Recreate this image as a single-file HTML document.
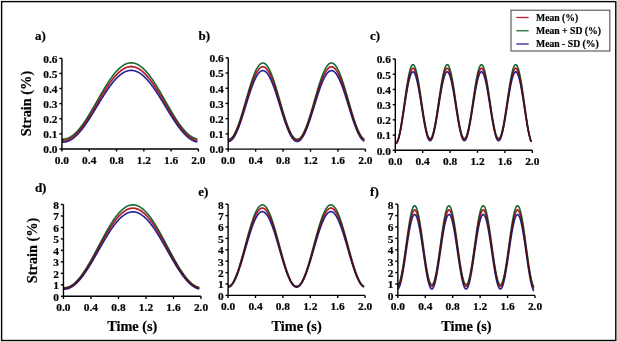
<!DOCTYPE html>
<html><head><meta charset="utf-8"><style>
html,body{margin:0;padding:0;background:#fff;}
body{width:617px;height:342px;overflow:hidden;}
svg{display:block;}
text{font-family:"Liberation Serif",serif;font-weight:bold;fill:#000;stroke:#000;stroke-width:0.2px;}
.tk{font-size:11.4px;}
.lb{font-size:13px;}
.ax{font-size:14.3px;}
.lg{font-size:9.7px;}
</style></head><body>
<svg width="617" height="342" viewBox="0 0 617 342">
<rect x="0" y="0" width="617" height="342" fill="#fff"/>
<polyline points="61.95,139.09 62.29,139.11 62.63,139.12 62.97,139.13 63.30,139.13 63.64,139.11 63.98,139.09 64.32,139.06 64.66,139.01 65.00,138.96 65.34,138.90 65.67,138.83 66.01,138.76 66.35,138.67 66.69,138.57 67.03,138.47 67.37,138.35 67.71,138.23 68.05,138.09 68.38,137.95 68.72,137.80 69.06,137.64 69.40,137.47 69.74,137.29 70.08,137.11 70.42,136.91 70.75,136.71 71.09,136.49 71.43,136.27 71.77,136.04 72.11,135.80 72.45,135.56 72.79,135.30 73.12,135.04 73.46,134.77 73.80,134.48 74.14,134.20 74.48,133.90 74.82,133.59 75.16,133.28 75.50,132.96 75.83,132.63 76.17,132.30 76.51,131.95 76.85,131.60 77.19,131.25 77.53,130.88 77.87,130.51 78.20,130.13 78.54,129.74 78.88,129.34 79.22,128.94 79.56,128.53 79.90,128.12 80.24,127.70 80.57,127.27 80.91,126.84 81.25,126.40 81.59,125.95 81.93,125.50 82.27,125.04 82.61,124.57 82.94,124.10 83.28,123.63 83.62,123.15 83.96,122.66 84.30,122.17 84.64,121.67 84.98,121.17 85.32,120.66 85.65,120.15 85.99,119.63 86.33,119.11 86.67,118.59 87.01,118.06 87.35,117.52 87.69,116.98 88.02,116.44 88.36,115.90 88.70,115.35 89.04,114.79 89.38,114.24 89.72,113.68 90.06,113.12 90.39,112.55 90.73,111.98 91.07,111.41 91.41,110.84 91.75,110.26 92.09,109.68 92.43,109.10 92.76,108.52 93.10,107.94 93.44,107.35 93.78,106.76 94.12,106.18 94.46,105.59 94.80,105.00 95.14,104.40 95.47,103.81 95.81,103.22 96.15,102.62 96.49,102.03 96.83,101.43 97.17,100.84 97.51,100.24 97.84,99.65 98.18,99.05 98.52,98.46 98.86,97.87 99.20,97.28 99.54,96.68 99.88,96.09 100.21,95.50 100.55,94.92 100.89,94.33 101.23,93.74 101.57,93.16 101.91,92.58 102.25,92.00 102.59,91.42 102.92,90.85 103.26,90.28 103.60,89.71 103.94,89.14 104.28,88.58 104.62,88.02 104.96,87.46 105.29,86.90 105.63,86.35 105.97,85.80 106.31,85.26 106.65,84.72 106.99,84.18 107.33,83.65 107.66,83.12 108.00,82.60 108.34,82.08 108.68,81.57 109.02,81.06 109.36,80.55 109.70,80.05 110.03,79.56 110.37,79.07 110.71,78.58 111.05,78.11 111.39,77.63 111.73,77.17 112.07,76.70 112.41,76.25 112.74,75.80 113.08,75.35 113.42,74.92 113.76,74.49 114.10,74.06 114.44,73.64 114.78,73.23 115.11,72.83 115.45,72.43 115.79,72.04 116.13,71.65 116.47,71.28 116.81,70.91 117.15,70.54 117.48,70.19 117.82,69.84 118.16,69.50 118.50,69.17 118.84,68.85 119.18,68.53 119.52,68.22 119.85,67.92 120.19,67.63 120.53,67.34 120.87,67.07 121.21,66.80 121.55,66.54 121.89,66.29 122.23,66.04 122.56,65.81 122.90,65.58 123.24,65.36 123.58,65.16 123.92,64.96 124.26,64.76 124.60,64.58 124.93,64.41 125.27,64.24 125.61,64.09 125.95,63.94 126.29,63.80 126.63,63.67 126.97,63.55 127.30,63.44 127.64,63.34 127.98,63.25 128.32,63.17 128.66,63.09 129.00,63.03 129.34,62.97 129.68,62.93 130.01,62.89 130.35,62.86 130.69,62.84 131.03,62.83 131.37,62.83 131.71,62.84 132.05,62.86 132.38,62.89 132.72,62.93 133.06,62.97 133.40,63.03 133.74,63.09 134.08,63.17 134.42,63.25 134.75,63.34 135.09,63.44 135.43,63.55 135.77,63.67 136.11,63.80 136.45,63.94 136.79,64.09 137.12,64.24 137.46,64.41 137.80,64.58 138.14,64.77 138.48,64.96 138.82,65.16 139.16,65.37 139.50,65.58 139.83,65.81 140.17,66.04 140.51,66.29 140.85,66.54 141.19,66.80 141.53,67.07 141.87,67.34 142.20,67.63 142.54,67.92 142.88,68.22 143.22,68.53 143.56,68.85 143.90,69.17 144.24,69.50 144.57,69.84 144.91,70.19 145.25,70.55 145.59,70.91 145.93,71.28 146.27,71.65 146.61,72.04 146.94,72.43 147.28,72.83 147.62,73.23 147.96,73.64 148.30,74.06 148.64,74.49 148.98,74.92 149.32,75.36 149.65,75.80 149.99,76.25 150.33,76.70 150.67,77.17 151.01,77.63 151.35,78.11 151.69,78.59 152.02,79.07 152.36,79.56 152.70,80.05 153.04,80.55 153.38,81.06 153.72,81.57 154.06,82.08 154.39,82.60 154.73,83.13 155.07,83.65 155.41,84.19 155.75,84.72 156.09,85.26 156.43,85.81 156.76,86.35 157.10,86.90 157.44,87.46 157.78,88.02 158.12,88.58 158.46,89.14 158.80,89.71 159.14,90.28 159.47,90.85 159.81,91.43 160.15,92.00 160.49,92.58 160.83,93.16 161.17,93.75 161.51,94.33 161.84,94.92 162.18,95.51 162.52,96.09 162.86,96.69 163.20,97.28 163.54,97.87 163.88,98.46 164.21,99.06 164.55,99.65 164.89,100.25 165.23,100.84 165.57,101.43 165.91,102.03 166.25,102.62 166.59,103.22 166.92,103.81 167.26,104.40 167.60,105.00 167.94,105.59 168.28,106.18 168.62,106.77 168.96,107.35 169.29,107.94 169.63,108.52 169.97,109.11 170.31,109.69 170.65,110.26 170.99,110.84 171.33,111.41 171.66,111.98 172.00,112.55 172.34,113.12 172.68,113.68 173.02,114.24 173.36,114.80 173.70,115.35 174.03,115.90 174.37,116.44 174.71,116.98 175.05,117.52 175.39,118.06 175.73,118.59 176.07,119.11 176.41,119.63 176.74,120.15 177.08,120.66 177.42,121.17 177.76,121.67 178.10,122.17 178.44,122.66 178.78,123.15 179.11,123.63 179.45,124.10 179.79,124.57 180.13,125.04 180.47,125.50 180.81,125.95 181.15,126.40 181.48,126.84 181.82,127.27 182.16,127.70 182.50,128.12 182.84,128.54 183.18,128.94 183.52,129.35 183.86,129.74 184.19,130.13 184.53,130.51 184.87,130.88 185.21,131.25 185.55,131.60 185.89,131.96 186.23,132.30 186.56,132.63 186.90,132.96 187.24,133.28 187.58,133.60 187.92,133.90 188.26,134.20 188.60,134.49 188.93,134.77 189.27,135.04 189.61,135.30 189.95,135.56 190.29,135.80 190.63,136.04 190.97,136.27 191.30,136.49 191.64,136.71 191.98,136.91 192.32,137.11 192.66,137.29 193.00,137.47 193.34,137.64 193.68,137.80 194.01,137.95 194.35,138.09 194.69,138.23 195.03,138.35 195.37,138.47 195.71,138.57 196.05,138.67 196.38,138.76 196.72,138.83 197.06,138.90 197.40,138.96" fill="none" stroke="#1a6a30" stroke-width="1.6" stroke-linejoin="round" style="mix-blend-mode:multiply"/>
<polyline points="61.95,140.60 62.29,140.62 62.63,140.64 62.97,140.64 63.30,140.64 63.64,140.62 63.98,140.60 64.32,140.57 64.66,140.53 65.00,140.48 65.34,140.42 65.67,140.35 66.01,140.28 66.35,140.19 66.69,140.10 67.03,140.00 67.37,139.89 67.71,139.76 68.05,139.64 68.38,139.50 68.72,139.35 69.06,139.20 69.40,139.03 69.74,138.86 70.08,138.68 70.42,138.49 70.75,138.29 71.09,138.08 71.43,137.87 71.77,137.64 72.11,137.41 72.45,137.17 72.79,136.93 73.12,136.67 73.46,136.41 73.80,136.13 74.14,135.85 74.48,135.57 74.82,135.27 75.16,134.97 75.50,134.66 75.83,134.34 76.17,134.01 76.51,133.68 76.85,133.34 77.19,132.99 77.53,132.64 77.87,132.27 78.20,131.90 78.54,131.53 78.88,131.15 79.22,130.76 79.56,130.36 79.90,129.96 80.24,129.55 80.57,129.13 80.91,128.71 81.25,128.29 81.59,127.85 81.93,127.41 82.27,126.97 82.61,126.52 82.94,126.06 83.28,125.60 83.62,125.13 83.96,124.66 84.30,124.18 84.64,123.70 84.98,123.21 85.32,122.72 85.65,122.22 85.99,121.72 86.33,121.22 86.67,120.71 87.01,120.19 87.35,119.67 87.69,119.15 88.02,118.63 88.36,118.10 88.70,117.56 89.04,117.03 89.38,116.49 89.72,115.94 90.06,115.40 90.39,114.85 90.73,114.30 91.07,113.75 91.41,113.19 91.75,112.63 92.09,112.07 92.43,111.51 92.76,110.94 93.10,110.37 93.44,109.81 93.78,109.24 94.12,108.67 94.46,108.09 94.80,107.52 95.14,106.95 95.47,106.37 95.81,105.79 96.15,105.22 96.49,104.64 96.83,104.06 97.17,103.49 97.51,102.91 97.84,102.33 98.18,101.76 98.52,101.18 98.86,100.60 99.20,100.03 99.54,99.46 99.88,98.88 100.21,98.31 100.55,97.74 100.89,97.17 101.23,96.60 101.57,96.04 101.91,95.47 102.25,94.91 102.59,94.35 102.92,93.79 103.26,93.24 103.60,92.69 103.94,92.14 104.28,91.59 104.62,91.04 104.96,90.50 105.29,89.97 105.63,89.43 105.97,88.90 106.31,88.37 106.65,87.85 106.99,87.33 107.33,86.81 107.66,86.30 108.00,85.79 108.34,85.29 108.68,84.79 109.02,84.29 109.36,83.80 109.70,83.32 110.03,82.84 110.37,82.36 110.71,81.89 111.05,81.43 111.39,80.97 111.73,80.52 112.07,80.07 112.41,79.63 112.74,79.19 113.08,78.76 113.42,78.33 113.76,77.92 114.10,77.50 114.44,77.10 114.78,76.70 115.11,76.31 115.45,75.92 115.79,75.54 116.13,75.17 116.47,74.80 116.81,74.44 117.15,74.09 117.48,73.75 117.82,73.41 118.16,73.08 118.50,72.76 118.84,72.44 119.18,72.14 119.52,71.84 119.85,71.55 120.19,71.26 120.53,70.99 120.87,70.72 121.21,70.46 121.55,70.20 121.89,69.96 122.23,69.72 122.56,69.50 122.90,69.28 123.24,69.07 123.58,68.86 123.92,68.67 124.26,68.48 124.60,68.31 124.93,68.14 125.27,67.98 125.61,67.83 125.95,67.69 126.29,67.55 126.63,67.43 126.97,67.31 127.30,67.20 127.64,67.10 127.98,67.01 128.32,66.93 128.66,66.86 129.00,66.80 129.34,66.75 129.68,66.70 130.01,66.66 130.35,66.64 130.69,66.62 131.03,66.61 131.37,66.61 131.71,66.62 132.05,66.64 132.38,66.66 132.72,66.70 133.06,66.75 133.40,66.80 133.74,66.86 134.08,66.93 134.42,67.02 134.75,67.10 135.09,67.20 135.43,67.31 135.77,67.43 136.11,67.55 136.45,67.69 136.79,67.83 137.12,67.98 137.46,68.14 137.80,68.31 138.14,68.48 138.48,68.67 138.82,68.86 139.16,69.07 139.50,69.28 139.83,69.50 140.17,69.73 140.51,69.96 140.85,70.21 141.19,70.46 141.53,70.72 141.87,70.99 142.20,71.26 142.54,71.55 142.88,71.84 143.22,72.14 143.56,72.44 143.90,72.76 144.24,73.08 144.57,73.41 144.91,73.75 145.25,74.09 145.59,74.44 145.93,74.80 146.27,75.17 146.61,75.54 146.94,75.92 147.28,76.31 147.62,76.70 147.96,77.10 148.30,77.51 148.64,77.92 148.98,78.34 149.32,78.76 149.65,79.19 149.99,79.63 150.33,80.07 150.67,80.52 151.01,80.97 151.35,81.43 151.69,81.90 152.02,82.37 152.36,82.84 152.70,83.32 153.04,83.81 153.38,84.30 153.72,84.79 154.06,85.29 154.39,85.79 154.73,86.30 155.07,86.81 155.41,87.33 155.75,87.85 156.09,88.37 156.43,88.90 156.76,89.43 157.10,89.97 157.44,90.50 157.78,91.05 158.12,91.59 158.46,92.14 158.80,92.69 159.14,93.24 159.47,93.80 159.81,94.35 160.15,94.91 160.49,95.48 160.83,96.04 161.17,96.60 161.51,97.17 161.84,97.74 162.18,98.31 162.52,98.88 162.86,99.46 163.20,100.03 163.54,100.61 163.88,101.18 164.21,101.76 164.55,102.33 164.89,102.91 165.23,103.49 165.57,104.07 165.91,104.64 166.25,105.22 166.59,105.80 166.92,106.37 167.26,106.95 167.60,107.52 167.94,108.09 168.28,108.67 168.62,109.24 168.96,109.81 169.29,110.38 169.63,110.94 169.97,111.51 170.31,112.07 170.65,112.63 170.99,113.19 171.33,113.75 171.66,114.30 172.00,114.85 172.34,115.40 172.68,115.95 173.02,116.49 173.36,117.03 173.70,117.57 174.03,118.10 174.37,118.63 174.71,119.15 175.05,119.68 175.39,120.19 175.73,120.71 176.07,121.22 176.41,121.72 176.74,122.22 177.08,122.72 177.42,123.21 177.76,123.70 178.10,124.18 178.44,124.66 178.78,125.13 179.11,125.60 179.45,126.06 179.79,126.52 180.13,126.97 180.47,127.41 180.81,127.85 181.15,128.29 181.48,128.71 181.82,129.14 182.16,129.55 182.50,129.96 182.84,130.36 183.18,130.76 183.52,131.15 183.86,131.53 184.19,131.91 184.53,132.27 184.87,132.64 185.21,132.99 185.55,133.34 185.89,133.68 186.23,134.01 186.56,134.34 186.90,134.66 187.24,134.97 187.58,135.27 187.92,135.57 188.26,135.85 188.60,136.13 188.93,136.41 189.27,136.67 189.61,136.93 189.95,137.17 190.29,137.41 190.63,137.65 190.97,137.87 191.30,138.08 191.64,138.29 191.98,138.49 192.32,138.68 192.66,138.86 193.00,139.03 193.34,139.20 193.68,139.35 194.01,139.50 194.35,139.64 194.69,139.77 195.03,139.89 195.37,140.00 195.71,140.10 196.05,140.19 196.38,140.28 196.72,140.35 197.06,140.42 197.40,140.48" fill="none" stroke="#b81e2a" stroke-width="1.6" stroke-linejoin="round" style="mix-blend-mode:multiply"/>
<polyline points="61.95,142.11 62.29,142.13 62.63,142.15 62.97,142.15 63.30,142.15 63.64,142.13 63.98,142.11 64.32,142.08 64.66,142.04 65.00,142.00 65.34,141.94 65.67,141.87 66.01,141.80 66.35,141.72 66.69,141.63 67.03,141.53 67.37,141.42 67.71,141.30 68.05,141.18 68.38,141.04 68.72,140.90 69.06,140.75 69.40,140.59 69.74,140.42 70.08,140.25 70.42,140.06 70.75,139.87 71.09,139.67 71.43,139.46 71.77,139.25 72.11,139.02 72.45,138.79 72.79,138.55 73.12,138.30 73.46,138.05 73.80,137.78 74.14,137.51 74.48,137.23 74.82,136.95 75.16,136.65 75.50,136.35 75.83,136.04 76.17,135.73 76.51,135.40 76.85,135.07 77.19,134.74 77.53,134.39 77.87,134.04 78.20,133.68 78.54,133.32 78.88,132.95 79.22,132.57 79.56,132.19 79.90,131.80 80.24,131.40 80.57,131.00 80.91,130.59 81.25,130.17 81.59,129.75 81.93,129.33 82.27,128.90 82.61,128.46 82.94,128.02 83.28,127.57 83.62,127.12 83.96,126.66 84.30,126.20 84.64,125.73 84.98,125.26 85.32,124.78 85.65,124.30 85.99,123.81 86.33,123.32 86.67,122.83 87.01,122.33 87.35,121.83 87.69,121.32 88.02,120.81 88.36,120.30 88.70,119.78 89.04,119.26 89.38,118.74 89.72,118.21 90.06,117.68 90.39,117.15 90.73,116.62 91.07,116.08 91.41,115.54 91.75,115.00 92.09,114.45 92.43,113.91 92.76,113.36 93.10,112.81 93.44,112.26 93.78,111.71 94.12,111.16 94.46,110.60 94.80,110.04 95.14,109.49 95.47,108.93 95.81,108.37 96.15,107.81 96.49,107.25 96.83,106.69 97.17,106.13 97.51,105.58 97.84,105.02 98.18,104.46 98.52,103.90 98.86,103.34 99.20,102.78 99.54,102.23 99.88,101.67 100.21,101.12 100.55,100.56 100.89,100.01 101.23,99.46 101.57,98.91 101.91,98.37 102.25,97.82 102.59,97.28 102.92,96.74 103.26,96.20 103.60,95.67 103.94,95.13 104.28,94.60 104.62,94.07 104.96,93.55 105.29,93.03 105.63,92.51 105.97,91.99 106.31,91.48 106.65,90.97 106.99,90.47 107.33,89.97 107.66,89.47 108.00,88.98 108.34,88.49 108.68,88.01 109.02,87.53 109.36,87.05 109.70,86.58 110.03,86.12 110.37,85.66 110.71,85.20 111.05,84.75 111.39,84.31 111.73,83.87 112.07,83.43 112.41,83.00 112.74,82.58 113.08,82.16 113.42,81.75 113.76,81.35 114.10,80.95 114.44,80.55 114.78,80.17 115.11,79.79 115.45,79.41 115.79,79.04 116.13,78.68 116.47,78.33 116.81,77.98 117.15,77.64 117.48,77.31 117.82,76.98 118.16,76.66 118.50,76.35 118.84,76.04 119.18,75.74 119.52,75.45 119.85,75.17 120.19,74.90 120.53,74.63 120.87,74.37 121.21,74.12 121.55,73.87 121.89,73.64 122.23,73.41 122.56,73.19 122.90,72.97 123.24,72.77 123.58,72.57 123.92,72.38 124.26,72.20 124.60,72.03 124.93,71.87 125.27,71.71 125.61,71.57 125.95,71.43 126.29,71.30 126.63,71.18 126.97,71.07 127.30,70.96 127.64,70.87 127.98,70.78 128.32,70.70 128.66,70.63 129.00,70.57 129.34,70.52 129.68,70.47 130.01,70.44 130.35,70.41 130.69,70.40 131.03,70.39 131.37,70.39 131.71,70.40 132.05,70.41 132.38,70.44 132.72,70.48 133.06,70.52 133.40,70.57 133.74,70.63 134.08,70.70 134.42,70.78 134.75,70.87 135.09,70.96 135.43,71.07 135.77,71.18 136.11,71.30 136.45,71.43 136.79,71.57 137.12,71.71 137.46,71.87 137.80,72.03 138.14,72.20 138.48,72.38 138.82,72.57 139.16,72.77 139.50,72.97 139.83,73.19 140.17,73.41 140.51,73.64 140.85,73.87 141.19,74.12 141.53,74.37 141.87,74.63 142.20,74.90 142.54,75.17 142.88,75.46 143.22,75.75 143.56,76.04 143.90,76.35 144.24,76.66 144.57,76.98 144.91,77.31 145.25,77.64 145.59,77.98 145.93,78.33 146.27,78.68 146.61,79.05 146.94,79.41 147.28,79.79 147.62,80.17 147.96,80.56 148.30,80.95 148.64,81.35 148.98,81.75 149.32,82.17 149.65,82.58 149.99,83.01 150.33,83.43 150.67,83.87 151.01,84.31 151.35,84.75 151.69,85.20 152.02,85.66 152.36,86.12 152.70,86.59 153.04,87.06 153.38,87.53 153.72,88.01 154.06,88.49 154.39,88.98 154.73,89.47 155.07,89.97 155.41,90.47 155.75,90.98 156.09,91.48 156.43,92.00 156.76,92.51 157.10,93.03 157.44,93.55 157.78,94.08 158.12,94.60 158.46,95.13 158.80,95.67 159.14,96.20 159.47,96.74 159.81,97.28 160.15,97.82 160.49,98.37 160.83,98.92 161.17,99.46 161.51,100.01 161.84,100.57 162.18,101.12 162.52,101.67 162.86,102.23 163.20,102.78 163.54,103.34 163.88,103.90 164.21,104.46 164.55,105.02 164.89,105.58 165.23,106.14 165.57,106.70 165.91,107.26 166.25,107.81 166.59,108.37 166.92,108.93 167.26,109.49 167.60,110.05 167.94,110.60 168.28,111.16 168.62,111.71 168.96,112.26 169.29,112.81 169.63,113.36 169.97,113.91 170.31,114.46 170.65,115.00 170.99,115.54 171.33,116.08 171.66,116.62 172.00,117.15 172.34,117.68 172.68,118.21 173.02,118.74 173.36,119.26 173.70,119.78 174.03,120.30 174.37,120.81 174.71,121.32 175.05,121.83 175.39,122.33 175.73,122.83 176.07,123.32 176.41,123.81 176.74,124.30 177.08,124.78 177.42,125.26 177.76,125.73 178.10,126.20 178.44,126.66 178.78,127.12 179.11,127.57 179.45,128.02 179.79,128.46 180.13,128.90 180.47,129.33 180.81,129.76 181.15,130.18 181.48,130.59 181.82,131.00 182.16,131.40 182.50,131.80 182.84,132.19 183.18,132.57 183.52,132.95 183.86,133.32 184.19,133.68 184.53,134.04 184.87,134.39 185.21,134.74 185.55,135.07 185.89,135.40 186.23,135.73 186.56,136.04 186.90,136.35 187.24,136.65 187.58,136.95 187.92,137.23 188.26,137.51 188.60,137.78 188.93,138.05 189.27,138.30 189.61,138.55 189.95,138.79 190.29,139.02 190.63,139.25 190.97,139.46 191.30,139.67 191.64,139.87 191.98,140.07 192.32,140.25 192.66,140.42 193.00,140.59 193.34,140.75 193.68,140.90 194.01,141.04 194.35,141.18 194.69,141.30 195.03,141.42 195.37,141.53 195.71,141.63 196.05,141.72 196.38,141.80 196.72,141.87 197.06,141.94 197.40,142.00" fill="none" stroke="#22229a" stroke-width="1.6" stroke-linejoin="round" style="mix-blend-mode:multiply"/>
<polyline points="61.95,140.60 62.29,140.62 62.63,140.64 62.97,140.64 63.30,140.64 63.64,140.62 63.98,140.60 64.32,140.57 64.66,140.53 65.00,140.48 65.34,140.42 65.67,140.35 66.01,140.28 66.35,140.19 66.69,140.10 67.03,140.00 67.37,139.89 67.71,139.76 68.05,139.64 68.38,139.50 68.72,139.35 69.06,139.20 69.40,139.03 69.74,138.86 70.08,138.68 70.42,138.49 70.75,138.29 71.09,138.08 71.43,137.87 71.77,137.64 72.11,137.41 72.45,137.17 72.79,136.93 73.12,136.67 73.46,136.41 73.80,136.13 74.14,135.85 74.48,135.57 74.82,135.27 75.16,134.97 75.50,134.66 75.83,134.34 76.17,134.01 76.51,133.68 76.85,133.34 77.19,132.99 77.53,132.64 77.87,132.27 78.20,131.90 78.54,131.53 78.88,131.15 79.22,130.76 79.56,130.36 79.90,129.96 80.24,129.55 80.57,129.13 80.91,128.71 81.25,128.29 81.59,127.85 81.93,127.41 82.27,126.97 82.61,126.52 82.94,126.06 83.28,125.60 83.62,125.13 83.96,124.66 84.30,124.18 84.64,123.70 84.98,123.21 85.32,122.72 85.65,122.22 85.99,121.72 86.33,121.22 86.67,120.71 87.01,120.19 87.35,119.67 87.69,119.15 88.02,118.63 88.36,118.10 88.70,117.56 89.04,117.03 89.38,116.49 89.72,115.94 90.06,115.40 90.39,114.85 90.73,114.30 91.07,113.75 91.41,113.19 91.75,112.63 92.09,112.07 92.43,111.51 92.76,110.94 93.10,110.37 93.44,109.81 93.78,109.24 94.12,108.67 94.46,108.09 94.80,107.52 95.14,106.95 95.47,106.37 95.81,105.79 96.15,105.22 96.49,104.64 96.83,104.06 97.17,103.49 97.51,102.91 97.84,102.33 98.18,101.76 98.52,101.18 98.86,100.60 99.20,100.03 99.54,99.46 99.88,98.88 100.21,98.31 100.55,97.74 100.89,97.17 101.23,96.60 101.57,96.04 101.91,95.47 102.25,94.91 102.59,94.35 102.92,93.79 103.26,93.24 103.60,92.69 103.94,92.14 104.28,91.59 104.62,91.04 104.96,90.50 105.29,89.97 105.63,89.43 105.97,88.90 106.31,88.37 106.65,87.85 106.99,87.33 107.33,86.81 107.66,86.30 108.00,85.79 108.34,85.29 108.68,84.79 109.02,84.29 109.36,83.80 109.70,83.32 110.03,82.84 110.37,82.36 110.71,81.89 111.05,81.43 111.39,80.97 111.73,80.52 112.07,80.07 112.41,79.63 112.74,79.19 113.08,78.76 113.42,78.33 113.76,77.92 114.10,77.50 114.44,77.10 114.78,76.70 115.11,76.31 115.45,75.92 115.79,75.54 116.13,75.17 116.47,74.80 116.81,74.44 117.15,74.09 117.48,73.75 117.82,73.41 118.16,73.08 118.50,72.76 118.84,72.44 119.18,72.14 119.52,71.84 119.85,71.55 120.19,71.26 120.53,70.99 120.87,70.72 121.21,70.46 121.55,70.20 121.89,69.96 122.23,69.72 122.56,69.50 122.90,69.28 123.24,69.07 123.58,68.86 123.92,68.67 124.26,68.48 124.60,68.31 124.93,68.14 125.27,67.98 125.61,67.83 125.95,67.69 126.29,67.55 126.63,67.43 126.97,67.31 127.30,67.20 127.64,67.10 127.98,67.01 128.32,66.93 128.66,66.86 129.00,66.80 129.34,66.75 129.68,66.70 130.01,66.66 130.35,66.64 130.69,66.62 131.03,66.61 131.37,66.61 131.71,66.62 132.05,66.64 132.38,66.66 132.72,66.70 133.06,66.75 133.40,66.80 133.74,66.86 134.08,66.93 134.42,67.02 134.75,67.10 135.09,67.20 135.43,67.31 135.77,67.43 136.11,67.55 136.45,67.69 136.79,67.83 137.12,67.98 137.46,68.14 137.80,68.31 138.14,68.48 138.48,68.67 138.82,68.86 139.16,69.07 139.50,69.28 139.83,69.50 140.17,69.73 140.51,69.96 140.85,70.21 141.19,70.46 141.53,70.72 141.87,70.99 142.20,71.26 142.54,71.55 142.88,71.84 143.22,72.14 143.56,72.44 143.90,72.76 144.24,73.08 144.57,73.41 144.91,73.75 145.25,74.09 145.59,74.44 145.93,74.80 146.27,75.17 146.61,75.54 146.94,75.92 147.28,76.31 147.62,76.70 147.96,77.10 148.30,77.51 148.64,77.92 148.98,78.34 149.32,78.76 149.65,79.19 149.99,79.63 150.33,80.07 150.67,80.52 151.01,80.97 151.35,81.43 151.69,81.90 152.02,82.37 152.36,82.84 152.70,83.32 153.04,83.81 153.38,84.30 153.72,84.79 154.06,85.29 154.39,85.79 154.73,86.30 155.07,86.81 155.41,87.33 155.75,87.85 156.09,88.37 156.43,88.90 156.76,89.43 157.10,89.97 157.44,90.50 157.78,91.05 158.12,91.59 158.46,92.14 158.80,92.69 159.14,93.24 159.47,93.80 159.81,94.35 160.15,94.91 160.49,95.48 160.83,96.04 161.17,96.60 161.51,97.17 161.84,97.74 162.18,98.31 162.52,98.88 162.86,99.46 163.20,100.03 163.54,100.61 163.88,101.18 164.21,101.76 164.55,102.33 164.89,102.91 165.23,103.49 165.57,104.07 165.91,104.64 166.25,105.22 166.59,105.80 166.92,106.37 167.26,106.95 167.60,107.52 167.94,108.09 168.28,108.67 168.62,109.24 168.96,109.81 169.29,110.38 169.63,110.94 169.97,111.51 170.31,112.07 170.65,112.63 170.99,113.19 171.33,113.75 171.66,114.30 172.00,114.85 172.34,115.40 172.68,115.95 173.02,116.49 173.36,117.03 173.70,117.57 174.03,118.10 174.37,118.63 174.71,119.15 175.05,119.68 175.39,120.19 175.73,120.71 176.07,121.22 176.41,121.72 176.74,122.22 177.08,122.72 177.42,123.21 177.76,123.70 178.10,124.18 178.44,124.66 178.78,125.13 179.11,125.60 179.45,126.06 179.79,126.52 180.13,126.97 180.47,127.41 180.81,127.85 181.15,128.29 181.48,128.71 181.82,129.14 182.16,129.55 182.50,129.96 182.84,130.36 183.18,130.76 183.52,131.15 183.86,131.53 184.19,131.91 184.53,132.27 184.87,132.64 185.21,132.99 185.55,133.34 185.89,133.68 186.23,134.01 186.56,134.34 186.90,134.66 187.24,134.97 187.58,135.27 187.92,135.57 188.26,135.85 188.60,136.13 188.93,136.41 189.27,136.67 189.61,136.93 189.95,137.17 190.29,137.41 190.63,137.65 190.97,137.87 191.30,138.08 191.64,138.29 191.98,138.49 192.32,138.68 192.66,138.86 193.00,139.03 193.34,139.20 193.68,139.35 194.01,139.50 194.35,139.64 194.69,139.77 195.03,139.89 195.37,140.00 195.71,140.10 196.05,140.19 196.38,140.28 196.72,140.35 197.06,140.42 197.40,140.48" fill="none" stroke="#b81e2a" stroke-width="1.6" stroke-linejoin="round" opacity="0.4"/>
<path d="M61.95,58.30V148.95H198.40" fill="none" stroke="#000" stroke-width="1.4"/>
<path d="M59.35,148.95H61.95" stroke="#000" stroke-width="1.4"/>
<text x="57.55" y="153.25" class="tk" text-anchor="end">0.0</text>
<path d="M59.35,133.84H61.95" stroke="#000" stroke-width="1.4"/>
<text x="57.55" y="138.14" class="tk" text-anchor="end">0.1</text>
<path d="M59.35,118.73H61.95" stroke="#000" stroke-width="1.4"/>
<text x="57.55" y="123.03" class="tk" text-anchor="end">0.2</text>
<path d="M59.35,103.62H61.95" stroke="#000" stroke-width="1.4"/>
<text x="57.55" y="107.92" class="tk" text-anchor="end">0.3</text>
<path d="M59.35,88.52H61.95" stroke="#000" stroke-width="1.4"/>
<text x="57.55" y="92.82" class="tk" text-anchor="end">0.4</text>
<path d="M59.35,73.41H61.95" stroke="#000" stroke-width="1.4"/>
<text x="57.55" y="77.71" class="tk" text-anchor="end">0.5</text>
<path d="M59.35,58.30H61.95" stroke="#000" stroke-width="1.4"/>
<text x="57.55" y="62.60" class="tk" text-anchor="end">0.6</text>
<path d="M61.95,148.95V151.55" stroke="#000" stroke-width="1.4"/>
<text x="61.95" y="163.85" class="tk" text-anchor="middle">0.0</text>
<path d="M89.24,148.95V151.55" stroke="#000" stroke-width="1.4"/>
<text x="89.24" y="163.85" class="tk" text-anchor="middle">0.4</text>
<path d="M116.53,148.95V151.55" stroke="#000" stroke-width="1.4"/>
<text x="116.53" y="163.85" class="tk" text-anchor="middle">0.8</text>
<path d="M143.82,148.95V151.55" stroke="#000" stroke-width="1.4"/>
<text x="143.82" y="163.85" class="tk" text-anchor="middle">1.2</text>
<path d="M171.11,148.95V151.55" stroke="#000" stroke-width="1.4"/>
<text x="171.11" y="163.85" class="tk" text-anchor="middle">1.6</text>
<path d="M198.40,148.95V151.55" stroke="#000" stroke-width="1.4"/>
<text x="198.40" y="163.85" class="tk" text-anchor="middle">2.0</text>
<text x="34.90" y="40.20" class="lb">a)</text>
<text x="0" y="0" class="ax" text-anchor="middle" transform="translate(30.8,103.60) rotate(-90)">Strain (%)</text>
<polyline points="228.20,139.19 228.54,139.21 228.88,139.19 229.22,139.14 229.56,139.04 229.90,138.91 230.24,138.75 230.58,138.55 230.92,138.31 231.26,138.03 231.60,137.72 231.95,137.37 232.29,136.99 232.63,136.57 232.97,136.12 233.31,135.64 233.65,135.12 233.99,134.57 234.33,133.98 234.67,133.36 235.01,132.72 235.35,132.04 235.69,131.33 236.03,130.59 236.37,129.82 236.71,129.03 237.05,128.20 237.39,127.36 237.73,126.48 238.07,125.58 238.41,124.66 238.76,123.71 239.10,122.75 239.44,121.76 239.78,120.75 240.12,119.72 240.46,118.68 240.80,117.61 241.14,116.53 241.48,115.44 241.82,114.33 242.16,113.21 242.50,112.08 242.84,110.93 243.18,109.78 243.52,108.62 243.86,107.45 244.20,106.28 244.54,105.10 244.88,103.91 245.22,102.72 245.57,101.54 245.91,100.35 246.25,99.16 246.59,97.97 246.93,96.79 247.27,95.61 247.61,94.44 247.95,93.27 248.29,92.11 248.63,90.96 248.97,89.82 249.31,88.69 249.65,87.57 249.99,86.47 250.33,85.38 250.67,84.30 251.01,83.24 251.35,82.20 251.69,81.18 252.03,80.17 252.38,79.19 252.72,78.23 253.06,77.29 253.40,76.37 253.74,75.48 254.08,74.61 254.42,73.77 254.76,72.95 255.10,72.17 255.44,71.41 255.78,70.67 256.12,69.97 256.46,69.30 256.80,68.66 257.14,68.05 257.48,67.48 257.82,66.93 258.16,66.42 258.50,65.94 258.84,65.50 259.19,65.09 259.53,64.72 259.87,64.38 260.21,64.08 260.55,63.81 260.89,63.58 261.23,63.39 261.57,63.23 261.91,63.11 262.25,63.03 262.59,62.98 262.93,62.97 263.27,63.00 263.61,63.07 263.95,63.17 264.29,63.31 264.63,63.49 264.97,63.70 265.31,63.95 265.65,64.23 266.00,64.55 266.34,64.91 266.68,65.30 267.02,65.73 267.36,66.19 267.70,66.68 268.04,67.21 268.38,67.77 268.72,68.36 269.06,68.99 269.40,69.64 269.74,70.33 270.08,71.05 270.42,71.79 270.76,72.57 271.10,73.37 271.44,74.20 271.78,75.06 272.12,75.94 272.46,76.84 272.81,77.77 273.15,78.72 273.49,79.70 273.83,80.69 274.17,81.70 274.51,82.74 274.85,83.79 275.19,84.86 275.53,85.94 275.87,87.04 276.21,88.15 276.55,89.27 276.89,90.41 277.23,91.55 277.57,92.71 277.91,93.87 278.25,95.04 278.59,96.22 278.93,97.40 279.27,98.59 279.62,99.77 279.96,100.96 280.30,102.15 280.64,103.34 280.98,104.52 281.32,105.71 281.66,106.88 282.00,108.06 282.34,109.22 282.68,110.38 283.02,111.53 283.36,112.66 283.70,113.79 284.04,114.91 284.38,116.01 284.72,117.09 285.06,118.16 285.40,119.22 285.74,120.26 286.08,121.27 286.43,122.27 286.77,123.25 287.11,124.21 287.45,125.14 287.79,126.05 288.13,126.94 288.47,127.80 288.81,128.63 289.15,129.44 289.49,130.22 289.83,130.97 290.17,131.70 290.51,132.39 290.85,133.05 291.19,133.69 291.53,134.29 291.87,134.86 292.21,135.39 292.55,135.89 292.89,136.36 293.24,136.79 293.58,137.19 293.92,137.56 294.26,137.89 294.60,138.18 294.94,138.43 295.28,138.65 295.62,138.84 295.96,138.99 296.30,139.10 296.64,139.17 296.98,139.20 297.32,139.20 297.66,139.17 298.00,139.09 298.34,138.98 298.68,138.83 299.02,138.64 299.36,138.42 299.70,138.16 300.05,137.87 300.39,137.54 300.73,137.17 301.07,136.77 301.41,136.34 301.75,135.87 302.09,135.37 302.43,134.83 302.77,134.26 303.11,133.66 303.45,133.02 303.79,132.36 304.13,131.66 304.47,130.94 304.81,130.18 305.15,129.40 305.49,128.59 305.83,127.76 306.17,126.89 306.51,126.01 306.86,125.10 307.20,124.16 307.54,123.20 307.88,122.22 308.22,121.22 308.56,120.21 308.90,119.17 309.24,118.11 309.58,117.04 309.92,115.95 310.26,114.85 310.60,113.74 310.94,112.61 311.28,111.47 311.62,110.32 311.96,109.16 312.30,108.00 312.64,106.83 312.98,105.65 313.32,104.47 313.67,103.28 314.01,102.09 314.35,100.90 314.69,99.72 315.03,98.53 315.37,97.34 315.71,96.16 316.05,94.99 316.39,93.82 316.73,92.65 317.07,91.50 317.41,90.35 317.75,89.22 318.09,88.09 318.43,86.98 318.77,85.89 319.11,84.80 319.45,83.74 319.79,82.69 320.13,81.65 320.48,80.64 320.82,79.65 321.16,78.68 321.50,77.73 321.84,76.80 322.18,75.89 322.52,75.01 322.86,74.16 323.20,73.33 323.54,72.53 323.88,71.76 324.22,71.01 324.56,70.30 324.90,69.61 325.24,68.96 325.58,68.33 325.92,67.74 326.26,67.18 326.60,66.66 326.94,66.16 327.29,65.70 327.63,65.28 327.97,64.89 328.31,64.54 328.65,64.22 328.99,63.93 329.33,63.69 329.67,63.48 330.01,63.30 330.35,63.16 330.69,63.06 331.03,63.00 331.37,62.97 331.71,62.99 332.05,63.03 332.39,63.12 332.73,63.24 333.07,63.40 333.41,63.59 333.75,63.83 334.10,64.09 334.44,64.40 334.78,64.74 335.12,65.11 335.46,65.52 335.80,65.97 336.14,66.44 336.48,66.96 336.82,67.50 337.16,68.08 337.50,68.69 337.84,69.33 338.18,70.01 338.52,70.71 338.86,71.44 339.20,72.20 339.54,72.99 339.88,73.81 340.22,74.65 340.56,75.52 340.91,76.42 341.25,77.33 341.59,78.27 341.93,79.24 342.27,80.22 342.61,81.23 342.95,82.25 343.29,83.29 343.63,84.35 343.97,85.43 344.31,86.52 344.65,87.63 344.99,88.74 345.33,89.87 345.67,91.02 346.01,92.17 346.35,93.33 346.69,94.49 347.03,95.67 347.38,96.85 347.72,98.03 348.06,99.22 348.40,100.41 348.74,101.59 349.08,102.78 349.42,103.97 349.76,105.15 350.10,106.33 350.44,107.51 350.78,108.68 351.12,109.84 351.46,110.99 351.80,112.13 352.14,113.26 352.48,114.39 352.82,115.49 353.16,116.59 353.50,117.66 353.84,118.73 354.19,119.77 354.53,120.80 354.87,121.81 355.21,122.79 355.55,123.76 355.89,124.71 356.23,125.63 356.57,126.52 356.91,127.40 357.25,128.25 357.59,129.07 357.93,129.86 358.27,130.63 358.61,131.36 358.95,132.07 359.29,132.75 359.63,133.39 359.97,134.01 360.31,134.59 360.65,135.14 361.00,135.66 361.34,136.15 361.68,136.60 362.02,137.01 362.36,137.39 362.70,137.74 363.04,138.05 363.38,138.32 363.72,138.56 364.06,138.76 364.40,138.92" fill="none" stroke="#1a6a30" stroke-width="1.6" stroke-linejoin="round" style="mix-blend-mode:multiply"/>
<polyline points="228.20,140.26 228.54,140.27 228.88,140.26 229.22,140.20 229.56,140.11 229.90,139.99 230.24,139.83 230.58,139.63 230.92,139.40 231.26,139.14 231.60,138.84 231.95,138.50 232.29,138.14 232.63,137.73 232.97,137.30 233.31,136.83 233.65,136.33 233.99,135.80 234.33,135.23 234.67,134.64 235.01,134.01 235.35,133.36 235.69,132.68 236.03,131.96 236.37,131.22 236.71,130.46 237.05,129.67 237.39,128.85 237.73,128.00 238.07,127.14 238.41,126.25 238.76,125.34 239.10,124.40 239.44,123.45 239.78,122.48 240.12,121.49 240.46,120.48 240.80,119.45 241.14,118.41 241.48,117.36 241.82,116.29 242.16,115.21 242.50,114.12 242.84,113.02 243.18,111.90 243.52,110.78 243.86,109.66 244.20,108.52 244.54,107.39 244.88,106.24 245.22,105.10 245.57,103.96 245.91,102.81 246.25,101.66 246.59,100.52 246.93,99.38 247.27,98.24 247.61,97.11 247.95,95.99 248.29,94.87 248.63,93.76 248.97,92.66 249.31,91.57 249.65,90.49 249.99,89.43 250.33,88.38 250.67,87.34 251.01,86.32 251.35,85.31 251.69,84.33 252.03,83.36 252.38,82.41 252.72,81.48 253.06,80.58 253.40,79.69 253.74,78.83 254.08,78.00 254.42,77.19 254.76,76.40 255.10,75.64 255.44,74.91 255.78,74.20 256.12,73.53 256.46,72.88 256.80,72.26 257.14,71.67 257.48,71.12 257.82,70.59 258.16,70.10 258.50,69.64 258.84,69.21 259.19,68.82 259.53,68.46 259.87,68.14 260.21,67.84 260.55,67.59 260.89,67.37 261.23,67.18 261.57,67.03 261.91,66.91 262.25,66.83 262.59,66.79 262.93,66.78 263.27,66.81 263.61,66.87 263.95,66.97 264.29,67.10 264.63,67.27 264.97,67.48 265.31,67.72 265.65,67.99 266.00,68.30 266.34,68.64 266.68,69.02 267.02,69.43 267.36,69.87 267.70,70.35 268.04,70.86 268.38,71.40 268.72,71.97 269.06,72.58 269.40,73.21 269.74,73.87 270.08,74.56 270.42,75.28 270.76,76.03 271.10,76.80 271.44,77.60 271.78,78.43 272.12,79.28 272.46,80.15 272.81,81.04 273.15,81.96 273.49,82.90 273.83,83.86 274.17,84.84 274.51,85.83 274.85,86.84 275.19,87.87 275.53,88.92 275.87,89.98 276.21,91.05 276.55,92.13 276.89,93.23 277.23,94.33 277.57,95.45 277.91,96.57 278.25,97.70 278.59,98.83 278.93,99.97 279.27,101.11 279.62,102.26 279.96,103.40 280.30,104.55 280.64,105.69 280.98,106.84 281.32,107.97 281.66,109.11 282.00,110.24 282.34,111.36 282.68,112.48 283.02,113.59 283.36,114.68 283.70,115.77 284.04,116.84 284.38,117.91 284.72,118.95 285.06,119.99 285.40,121.00 285.74,122.00 286.08,122.98 286.43,123.95 286.77,124.89 287.11,125.81 287.45,126.71 287.79,127.59 288.13,128.44 288.47,129.27 288.81,130.08 289.15,130.86 289.49,131.61 289.83,132.34 290.17,133.03 290.51,133.70 290.85,134.34 291.19,134.95 291.53,135.53 291.87,136.08 292.21,136.59 292.55,137.08 292.89,137.53 293.24,137.95 293.58,138.33 293.92,138.68 294.26,139.00 294.60,139.28 294.94,139.53 295.28,139.74 295.62,139.92 295.96,140.06 296.30,140.16 296.64,140.24 296.98,140.27 297.32,140.27 297.66,140.23 298.00,140.16 298.34,140.05 298.68,139.91 299.02,139.73 299.36,139.52 299.70,139.27 300.05,138.98 300.39,138.67 300.73,138.31 301.07,137.93 301.41,137.51 301.75,137.05 302.09,136.57 302.43,136.05 302.77,135.50 303.11,134.92 303.45,134.31 303.79,133.67 304.13,133.00 304.47,132.30 304.81,131.57 305.15,130.82 305.49,130.04 305.83,129.23 306.17,128.40 306.51,127.55 306.86,126.67 307.20,125.77 307.54,124.84 307.88,123.90 308.22,122.94 308.56,121.95 308.90,120.95 309.24,119.94 309.58,118.90 309.92,117.85 310.26,116.79 310.60,115.72 310.94,114.63 311.28,113.53 311.62,112.43 311.96,111.31 312.30,110.19 312.64,109.06 312.98,107.92 313.32,106.78 313.67,105.64 314.01,104.49 314.35,103.35 314.69,102.20 315.03,101.06 315.37,99.91 315.71,98.78 316.05,97.64 316.39,96.51 316.73,95.39 317.07,94.28 317.41,93.17 317.75,92.08 318.09,91.00 318.43,89.92 318.77,88.87 319.11,87.82 319.45,86.79 319.79,85.78 320.13,84.79 320.48,83.81 320.82,82.85 321.16,81.92 321.50,81.00 321.84,80.11 322.18,79.23 322.52,78.39 322.86,77.56 323.20,76.76 323.54,75.99 323.88,75.25 324.22,74.53 324.56,73.84 324.90,73.18 325.24,72.55 325.58,71.95 325.92,71.37 326.26,70.84 326.60,70.33 326.94,69.85 327.29,69.41 327.63,69.00 327.97,68.63 328.31,68.28 328.65,67.98 328.99,67.70 329.33,67.46 329.67,67.26 330.01,67.09 330.35,66.96 330.69,66.87 331.03,66.80 331.37,66.78 331.71,66.79 332.05,66.84 332.39,66.92 332.73,67.03 333.07,67.19 333.41,67.38 333.75,67.60 334.10,67.86 334.44,68.15 334.78,68.48 335.12,68.84 335.46,69.23 335.80,69.66 336.14,70.12 336.48,70.62 336.82,71.14 337.16,71.70 337.50,72.29 337.84,72.91 338.18,73.56 338.52,74.24 338.86,74.94 339.20,75.68 339.54,76.44 339.88,77.22 340.22,78.04 340.56,78.88 340.91,79.74 341.25,80.62 341.59,81.53 341.93,82.46 342.27,83.41 342.61,84.38 342.95,85.36 343.29,86.37 343.63,87.39 343.97,88.43 344.31,89.48 344.65,90.54 344.99,91.62 345.33,92.71 345.67,93.81 346.01,94.92 346.35,96.04 346.69,97.17 347.03,98.30 347.38,99.43 347.72,100.58 348.06,101.72 348.40,102.86 348.74,104.01 349.08,105.16 349.42,106.30 349.76,107.44 350.10,108.58 350.44,109.71 350.78,110.84 351.12,111.96 351.46,113.07 351.80,114.17 352.14,115.26 352.48,116.34 352.82,117.41 353.16,118.46 353.50,119.50 353.84,120.53 354.19,121.54 354.53,122.53 354.87,123.50 355.21,124.45 355.55,125.38 355.89,126.29 356.23,127.18 356.57,128.05 356.91,128.89 357.25,129.70 357.59,130.50 357.93,131.26 358.27,132.00 358.61,132.71 358.95,133.39 359.29,134.05 359.63,134.67 359.97,135.26 360.31,135.82 360.65,136.35 361.00,136.85 361.34,137.32 361.68,137.75 362.02,138.15 362.36,138.52 362.70,138.85 363.04,139.15 363.38,139.42 363.72,139.64 364.06,139.84 364.40,140.00" fill="none" stroke="#b81e2a" stroke-width="1.6" stroke-linejoin="round" style="mix-blend-mode:multiply"/>
<polyline points="228.20,141.47 228.54,141.49 228.88,141.47 229.22,141.42 229.56,141.34 229.90,141.22 230.24,141.06 230.58,140.87 230.92,140.65 231.26,140.40 231.60,140.11 231.95,139.78 232.29,139.43 232.63,139.04 232.97,138.62 233.31,138.17 233.65,137.69 233.99,137.17 234.33,136.63 234.67,136.05 235.01,135.45 235.35,134.82 235.69,134.16 236.03,133.47 236.37,132.76 236.71,132.02 237.05,131.26 237.39,130.47 237.73,129.65 238.07,128.82 238.41,127.96 238.76,127.08 239.10,126.18 239.44,125.26 239.78,124.32 240.12,123.37 240.46,122.39 240.80,121.40 241.14,120.40 241.48,119.38 241.82,118.35 242.16,117.31 242.50,116.26 242.84,115.19 243.18,114.12 243.52,113.04 243.86,111.95 244.20,110.86 244.54,109.76 244.88,108.66 245.22,107.56 245.57,106.45 245.91,105.35 246.25,104.24 246.59,103.14 246.93,102.04 247.27,100.94 247.61,99.85 247.95,98.76 248.29,97.68 248.63,96.61 248.97,95.55 249.31,94.50 249.65,93.46 249.99,92.43 250.33,91.42 250.67,90.42 251.01,89.43 251.35,88.47 251.69,87.51 252.03,86.58 252.38,85.67 252.72,84.77 253.06,83.90 253.40,83.04 253.74,82.21 254.08,81.41 254.42,80.62 254.76,79.86 255.10,79.13 255.44,78.42 255.78,77.74 256.12,77.09 256.46,76.47 256.80,75.87 257.14,75.31 257.48,74.77 257.82,74.26 258.16,73.79 258.50,73.34 258.84,72.93 259.19,72.55 259.53,72.21 259.87,71.89 260.21,71.61 260.55,71.36 260.89,71.15 261.23,70.97 261.57,70.82 261.91,70.71 262.25,70.63 262.59,70.59 262.93,70.58 263.27,70.61 263.61,70.67 263.95,70.76 264.29,70.89 264.63,71.06 264.97,71.26 265.31,71.49 265.65,71.75 266.00,72.05 266.34,72.38 266.68,72.75 267.02,73.14 267.36,73.57 267.70,74.03 268.04,74.52 268.38,75.04 268.72,75.59 269.06,76.18 269.40,76.79 269.74,77.43 270.08,78.09 270.42,78.79 270.76,79.51 271.10,80.25 271.44,81.03 271.78,81.82 272.12,82.64 272.46,83.48 272.81,84.35 273.15,85.23 273.49,86.14 273.83,87.06 274.17,88.00 274.51,88.96 274.85,89.94 275.19,90.94 275.53,91.94 275.87,92.96 276.21,94.00 276.55,95.04 276.89,96.10 277.23,97.17 277.57,98.24 277.91,99.32 278.25,100.41 278.59,101.51 278.93,102.60 279.27,103.71 279.62,104.81 279.96,105.92 280.30,107.02 280.64,108.13 280.98,109.23 281.32,110.33 281.66,111.42 282.00,112.51 282.34,113.60 282.68,114.67 283.02,115.74 283.36,116.80 283.70,117.85 284.04,118.89 284.38,119.91 284.72,120.92 285.06,121.92 285.40,122.90 285.74,123.86 286.08,124.81 286.43,125.74 286.77,126.65 287.11,127.54 287.45,128.41 287.79,129.25 288.13,130.08 288.47,130.88 288.81,131.65 289.15,132.41 289.49,133.13 289.83,133.83 290.17,134.51 290.51,135.15 290.85,135.77 291.19,136.35 291.53,136.91 291.87,137.44 292.21,137.94 292.55,138.41 292.89,138.84 293.24,139.25 293.58,139.62 293.92,139.95 294.26,140.26 294.60,140.53 294.94,140.77 295.28,140.98 295.62,141.15 295.96,141.28 296.30,141.39 296.64,141.45 296.98,141.49 297.32,141.49 297.66,141.45 298.00,141.38 298.34,141.28 298.68,141.14 299.02,140.97 299.36,140.76 299.70,140.52 300.05,140.25 300.39,139.94 300.73,139.60 301.07,139.23 301.41,138.82 301.75,138.38 302.09,137.92 302.43,137.42 302.77,136.89 303.11,136.33 303.45,135.74 303.79,135.12 304.13,134.47 304.47,133.80 304.81,133.10 305.15,132.37 305.49,131.62 305.83,130.84 306.17,130.04 306.51,129.21 306.86,128.36 307.20,127.49 307.54,126.60 307.88,125.69 308.22,124.76 308.56,123.82 308.90,122.85 309.24,121.87 309.58,120.87 309.92,119.86 310.26,118.84 310.60,117.80 310.94,116.75 311.28,115.69 311.62,114.62 311.96,113.55 312.30,112.46 312.64,111.37 312.98,110.28 313.32,109.18 313.67,108.07 314.01,106.97 314.35,105.86 314.69,104.76 315.03,103.65 315.37,102.55 315.71,101.45 316.05,100.36 316.39,99.27 316.73,98.19 317.07,97.11 317.41,96.05 317.75,94.99 318.09,93.95 318.43,92.91 318.77,91.89 319.11,90.89 319.45,89.89 319.79,88.92 320.13,87.96 320.48,87.02 320.82,86.09 321.16,85.19 321.50,84.30 321.84,83.44 322.18,82.60 322.52,81.78 322.86,80.99 323.20,80.22 323.54,79.47 323.88,78.75 324.22,78.06 324.56,77.39 324.90,76.76 325.24,76.15 325.58,75.57 325.92,75.02 326.26,74.50 326.60,74.01 326.94,73.55 327.29,73.12 327.63,72.73 327.97,72.36 328.31,72.03 328.65,71.74 328.99,71.47 329.33,71.24 329.67,71.05 330.01,70.89 330.35,70.76 330.69,70.67 331.03,70.61 331.37,70.58 331.71,70.59 332.05,70.64 332.39,70.72 332.73,70.83 333.07,70.98 333.41,71.16 333.75,71.37 334.10,71.62 334.44,71.91 334.78,72.22 335.12,72.57 335.46,72.95 335.80,73.37 336.14,73.81 336.48,74.29 336.82,74.79 337.16,75.33 337.50,75.90 337.84,76.50 338.18,77.12 338.52,77.78 338.86,78.46 339.20,79.17 339.54,79.90 339.88,80.66 340.22,81.45 340.56,82.25 340.91,83.08 341.25,83.94 341.59,84.81 341.93,85.71 342.27,86.63 342.61,87.56 342.95,88.51 343.29,89.48 343.63,90.47 343.97,91.47 344.31,92.48 344.65,93.51 344.99,94.55 345.33,95.60 345.67,96.67 346.01,97.74 346.35,98.82 346.69,99.90 347.03,100.99 347.38,102.09 347.72,103.19 348.06,104.29 348.40,105.40 348.74,106.50 349.08,107.61 349.42,108.71 349.76,109.81 350.10,110.91 350.44,112.00 350.78,113.09 351.12,114.17 351.46,115.24 351.80,116.31 352.14,117.36 352.48,118.40 352.82,119.43 353.16,120.45 353.50,121.45 353.84,122.44 354.19,123.41 354.53,124.37 354.87,125.31 355.21,126.22 355.55,127.12 355.89,128.00 356.23,128.86 356.57,129.69 356.91,130.51 357.25,131.29 357.59,132.06 357.93,132.80 358.27,133.51 358.61,134.19 358.95,134.85 359.29,135.48 359.63,136.08 359.97,136.66 360.31,137.20 360.65,137.71 361.00,138.19 361.34,138.64 361.68,139.06 362.02,139.45 362.36,139.80 362.70,140.12 363.04,140.41 363.38,140.66 363.72,140.88 364.06,141.07 364.40,141.22" fill="none" stroke="#22229a" stroke-width="1.6" stroke-linejoin="round" style="mix-blend-mode:multiply"/>
<polyline points="228.20,140.26 228.54,140.27 228.88,140.26 229.22,140.20 229.56,140.11 229.90,139.99 230.24,139.83 230.58,139.63 230.92,139.40 231.26,139.14 231.60,138.84 231.95,138.50 232.29,138.14 232.63,137.73 232.97,137.30 233.31,136.83 233.65,136.33 233.99,135.80 234.33,135.23 234.67,134.64 235.01,134.01 235.35,133.36 235.69,132.68 236.03,131.96 236.37,131.22 236.71,130.46 237.05,129.67 237.39,128.85 237.73,128.00 238.07,127.14 238.41,126.25 238.76,125.34 239.10,124.40 239.44,123.45 239.78,122.48 240.12,121.49 240.46,120.48 240.80,119.45 241.14,118.41 241.48,117.36 241.82,116.29 242.16,115.21 242.50,114.12 242.84,113.02 243.18,111.90 243.52,110.78 243.86,109.66 244.20,108.52 244.54,107.39 244.88,106.24 245.22,105.10 245.57,103.96 245.91,102.81 246.25,101.66 246.59,100.52 246.93,99.38 247.27,98.24 247.61,97.11 247.95,95.99 248.29,94.87 248.63,93.76 248.97,92.66 249.31,91.57 249.65,90.49 249.99,89.43 250.33,88.38 250.67,87.34 251.01,86.32 251.35,85.31 251.69,84.33 252.03,83.36 252.38,82.41 252.72,81.48 253.06,80.58 253.40,79.69 253.74,78.83 254.08,78.00 254.42,77.19 254.76,76.40 255.10,75.64 255.44,74.91 255.78,74.20 256.12,73.53 256.46,72.88 256.80,72.26 257.14,71.67 257.48,71.12 257.82,70.59 258.16,70.10 258.50,69.64 258.84,69.21 259.19,68.82 259.53,68.46 259.87,68.14 260.21,67.84 260.55,67.59 260.89,67.37 261.23,67.18 261.57,67.03 261.91,66.91 262.25,66.83 262.59,66.79 262.93,66.78 263.27,66.81 263.61,66.87 263.95,66.97 264.29,67.10 264.63,67.27 264.97,67.48 265.31,67.72 265.65,67.99 266.00,68.30 266.34,68.64 266.68,69.02 267.02,69.43 267.36,69.87 267.70,70.35 268.04,70.86 268.38,71.40 268.72,71.97 269.06,72.58 269.40,73.21 269.74,73.87 270.08,74.56 270.42,75.28 270.76,76.03 271.10,76.80 271.44,77.60 271.78,78.43 272.12,79.28 272.46,80.15 272.81,81.04 273.15,81.96 273.49,82.90 273.83,83.86 274.17,84.84 274.51,85.83 274.85,86.84 275.19,87.87 275.53,88.92 275.87,89.98 276.21,91.05 276.55,92.13 276.89,93.23 277.23,94.33 277.57,95.45 277.91,96.57 278.25,97.70 278.59,98.83 278.93,99.97 279.27,101.11 279.62,102.26 279.96,103.40 280.30,104.55 280.64,105.69 280.98,106.84 281.32,107.97 281.66,109.11 282.00,110.24 282.34,111.36 282.68,112.48 283.02,113.59 283.36,114.68 283.70,115.77 284.04,116.84 284.38,117.91 284.72,118.95 285.06,119.99 285.40,121.00 285.74,122.00 286.08,122.98 286.43,123.95 286.77,124.89 287.11,125.81 287.45,126.71 287.79,127.59 288.13,128.44 288.47,129.27 288.81,130.08 289.15,130.86 289.49,131.61 289.83,132.34 290.17,133.03 290.51,133.70 290.85,134.34 291.19,134.95 291.53,135.53 291.87,136.08 292.21,136.59 292.55,137.08 292.89,137.53 293.24,137.95 293.58,138.33 293.92,138.68 294.26,139.00 294.60,139.28 294.94,139.53 295.28,139.74 295.62,139.92 295.96,140.06 296.30,140.16 296.64,140.24 296.98,140.27 297.32,140.27 297.66,140.23 298.00,140.16 298.34,140.05 298.68,139.91 299.02,139.73 299.36,139.52 299.70,139.27 300.05,138.98 300.39,138.67 300.73,138.31 301.07,137.93 301.41,137.51 301.75,137.05 302.09,136.57 302.43,136.05 302.77,135.50 303.11,134.92 303.45,134.31 303.79,133.67 304.13,133.00 304.47,132.30 304.81,131.57 305.15,130.82 305.49,130.04 305.83,129.23 306.17,128.40 306.51,127.55 306.86,126.67 307.20,125.77 307.54,124.84 307.88,123.90 308.22,122.94 308.56,121.95 308.90,120.95 309.24,119.94 309.58,118.90 309.92,117.85 310.26,116.79 310.60,115.72 310.94,114.63 311.28,113.53 311.62,112.43 311.96,111.31 312.30,110.19 312.64,109.06 312.98,107.92 313.32,106.78 313.67,105.64 314.01,104.49 314.35,103.35 314.69,102.20 315.03,101.06 315.37,99.91 315.71,98.78 316.05,97.64 316.39,96.51 316.73,95.39 317.07,94.28 317.41,93.17 317.75,92.08 318.09,91.00 318.43,89.92 318.77,88.87 319.11,87.82 319.45,86.79 319.79,85.78 320.13,84.79 320.48,83.81 320.82,82.85 321.16,81.92 321.50,81.00 321.84,80.11 322.18,79.23 322.52,78.39 322.86,77.56 323.20,76.76 323.54,75.99 323.88,75.25 324.22,74.53 324.56,73.84 324.90,73.18 325.24,72.55 325.58,71.95 325.92,71.37 326.26,70.84 326.60,70.33 326.94,69.85 327.29,69.41 327.63,69.00 327.97,68.63 328.31,68.28 328.65,67.98 328.99,67.70 329.33,67.46 329.67,67.26 330.01,67.09 330.35,66.96 330.69,66.87 331.03,66.80 331.37,66.78 331.71,66.79 332.05,66.84 332.39,66.92 332.73,67.03 333.07,67.19 333.41,67.38 333.75,67.60 334.10,67.86 334.44,68.15 334.78,68.48 335.12,68.84 335.46,69.23 335.80,69.66 336.14,70.12 336.48,70.62 336.82,71.14 337.16,71.70 337.50,72.29 337.84,72.91 338.18,73.56 338.52,74.24 338.86,74.94 339.20,75.68 339.54,76.44 339.88,77.22 340.22,78.04 340.56,78.88 340.91,79.74 341.25,80.62 341.59,81.53 341.93,82.46 342.27,83.41 342.61,84.38 342.95,85.36 343.29,86.37 343.63,87.39 343.97,88.43 344.31,89.48 344.65,90.54 344.99,91.62 345.33,92.71 345.67,93.81 346.01,94.92 346.35,96.04 346.69,97.17 347.03,98.30 347.38,99.43 347.72,100.58 348.06,101.72 348.40,102.86 348.74,104.01 349.08,105.16 349.42,106.30 349.76,107.44 350.10,108.58 350.44,109.71 350.78,110.84 351.12,111.96 351.46,113.07 351.80,114.17 352.14,115.26 352.48,116.34 352.82,117.41 353.16,118.46 353.50,119.50 353.84,120.53 354.19,121.54 354.53,122.53 354.87,123.50 355.21,124.45 355.55,125.38 355.89,126.29 356.23,127.18 356.57,128.05 356.91,128.89 357.25,129.70 357.59,130.50 357.93,131.26 358.27,132.00 358.61,132.71 358.95,133.39 359.29,134.05 359.63,134.67 359.97,135.26 360.31,135.82 360.65,136.35 361.00,136.85 361.34,137.32 361.68,137.75 362.02,138.15 362.36,138.52 362.70,138.85 363.04,139.15 363.38,139.42 363.72,139.64 364.06,139.84 364.40,140.00" fill="none" stroke="#b81e2a" stroke-width="1.6" stroke-linejoin="round" opacity="0.4"/>
<path d="M228.20,57.80V149.10H365.40" fill="none" stroke="#000" stroke-width="1.4"/>
<path d="M225.60,149.10H228.20" stroke="#000" stroke-width="1.4"/>
<text x="223.80" y="153.40" class="tk" text-anchor="end">0.0</text>
<path d="M225.60,133.88H228.20" stroke="#000" stroke-width="1.4"/>
<text x="223.80" y="138.18" class="tk" text-anchor="end">0.1</text>
<path d="M225.60,118.67H228.20" stroke="#000" stroke-width="1.4"/>
<text x="223.80" y="122.97" class="tk" text-anchor="end">0.2</text>
<path d="M225.60,103.45H228.20" stroke="#000" stroke-width="1.4"/>
<text x="223.80" y="107.75" class="tk" text-anchor="end">0.3</text>
<path d="M225.60,88.23H228.20" stroke="#000" stroke-width="1.4"/>
<text x="223.80" y="92.53" class="tk" text-anchor="end">0.4</text>
<path d="M225.60,73.02H228.20" stroke="#000" stroke-width="1.4"/>
<text x="223.80" y="77.32" class="tk" text-anchor="end">0.5</text>
<path d="M225.60,57.80H228.20" stroke="#000" stroke-width="1.4"/>
<text x="223.80" y="62.10" class="tk" text-anchor="end">0.6</text>
<path d="M228.20,149.10V151.70" stroke="#000" stroke-width="1.4"/>
<text x="228.20" y="164.00" class="tk" text-anchor="middle">0.0</text>
<path d="M255.64,149.10V151.70" stroke="#000" stroke-width="1.4"/>
<text x="255.64" y="164.00" class="tk" text-anchor="middle">0.4</text>
<path d="M283.08,149.10V151.70" stroke="#000" stroke-width="1.4"/>
<text x="283.08" y="164.00" class="tk" text-anchor="middle">0.8</text>
<path d="M310.52,149.10V151.70" stroke="#000" stroke-width="1.4"/>
<text x="310.52" y="164.00" class="tk" text-anchor="middle">1.2</text>
<path d="M337.96,149.10V151.70" stroke="#000" stroke-width="1.4"/>
<text x="337.96" y="164.00" class="tk" text-anchor="middle">1.6</text>
<path d="M365.40,149.10V151.70" stroke="#000" stroke-width="1.4"/>
<text x="365.40" y="164.00" class="tk" text-anchor="middle">2.0</text>
<text x="198.60" y="40.20" class="lb">b)</text>
<polyline points="395.30,143.25 395.64,143.33 395.98,143.25 396.32,143.02 396.66,142.63 397.00,142.10 397.34,141.42 397.68,140.59 398.02,139.62 398.36,138.52 398.70,137.28 399.04,135.91 399.38,134.42 399.72,132.82 400.06,131.10 400.40,129.28 400.74,127.36 401.08,125.36 401.42,123.27 401.76,121.11 402.10,118.89 402.44,116.61 402.78,114.28 403.12,111.91 403.46,109.52 403.80,107.10 404.14,104.68 404.48,102.25 404.82,99.83 405.16,97.43 405.50,95.05 405.84,92.71 406.18,90.42 406.52,88.17 406.86,85.99 407.20,83.88 407.54,81.84 407.88,79.89 408.22,78.03 408.56,76.27 408.90,74.61 409.24,73.07 409.58,71.64 409.92,70.33 410.26,69.15 410.60,68.10 410.94,67.19 411.28,66.41 411.62,65.77 411.96,65.27 412.30,64.91 412.64,64.70 412.98,64.63 413.32,64.71 413.66,64.92 414.00,65.28 414.34,65.79 414.68,66.43 415.02,67.21 415.36,68.12 415.70,69.16 416.04,70.33 416.38,71.62 416.72,73.03 417.06,74.55 417.40,76.17 417.74,77.89 418.08,79.71 418.42,81.61 418.76,83.58 419.10,85.63 419.44,87.74 419.78,89.90 420.12,92.11 420.46,94.36 420.80,96.63 421.14,98.93 421.48,101.23 421.82,103.54 422.16,105.83 422.50,108.12 422.84,110.37 423.18,112.59 423.52,114.77 423.86,116.90 424.20,118.97 424.54,120.97 424.88,122.90 425.22,124.74 425.56,126.49 425.90,128.15 426.24,129.70 426.58,131.15 426.92,132.48 427.26,133.68 427.60,134.77 427.94,135.72 428.28,136.55 428.62,137.23 428.96,137.78 429.30,138.19 429.64,138.45 429.98,138.57 430.32,138.55 430.66,138.39 431.00,138.08 431.34,137.63 431.68,137.04 432.02,136.31 432.36,135.44 432.70,134.45 433.04,133.33 433.38,132.08 433.72,130.72 434.06,129.24 434.40,127.65 434.74,125.97 435.08,124.19 435.42,122.32 435.76,120.37 436.10,118.34 436.44,116.26 436.78,114.11 437.12,111.92 437.46,109.68 437.80,107.42 438.14,105.13 438.48,102.83 438.82,100.52 439.16,98.22 439.50,95.93 439.84,93.67 440.18,91.43 440.52,89.24 440.86,87.09 441.20,85.00 441.54,82.97 441.88,81.02 442.22,79.14 442.56,77.35 442.90,75.66 443.24,74.07 443.58,72.58 443.92,71.21 444.26,69.96 444.60,68.83 444.94,67.83 445.28,66.95 445.62,66.22 445.96,65.62 446.30,65.16 446.64,64.84 446.98,64.67 447.32,64.64 447.66,64.75 448.00,65.01 448.34,65.40 448.68,65.94 449.02,66.62 449.36,67.44 449.70,68.38 450.04,69.46 450.38,70.66 450.72,71.98 451.06,73.42 451.40,74.97 451.74,76.62 452.08,78.36 452.42,80.20 452.76,82.12 453.10,84.12 453.44,86.18 453.78,88.31 454.12,90.48 454.46,92.70 454.80,94.96 455.14,97.24 455.48,99.54 455.82,101.84 456.16,104.15 456.50,106.44 456.84,108.72 457.18,110.96 457.52,113.17 457.86,115.34 458.20,117.45 458.54,119.51 458.88,121.49 459.22,123.39 459.56,125.21 459.90,126.94 460.24,128.57 460.58,130.10 460.92,131.51 461.26,132.81 461.60,133.98 461.94,135.03 462.28,135.95 462.62,136.74 462.96,137.39 463.30,137.90 463.64,138.27 463.98,138.50 464.32,138.58 464.66,138.52 465.00,138.32 465.34,137.97 465.68,137.48 466.02,136.86 466.36,136.09 466.70,135.19 467.04,134.17 467.38,133.01 467.72,131.73 468.06,130.34 468.40,128.83 468.74,127.22 469.08,125.50 469.42,123.70 469.76,121.81 470.10,119.84 470.44,117.80 470.78,115.69 471.12,113.54 471.46,111.33 471.80,109.09 472.14,106.82 472.48,104.52 472.82,102.22 473.16,99.91 473.50,97.62 473.84,95.33 474.18,93.07 474.52,90.85 474.86,88.66 475.20,86.53 475.54,84.45 475.88,82.45 476.22,80.51 476.56,78.66 476.90,76.90 477.24,75.23 477.58,73.67 477.92,72.21 478.26,70.87 478.60,69.65 478.94,68.55 479.28,67.58 479.62,66.75 479.96,66.05 480.30,65.48 480.64,65.06 480.98,64.78 481.32,64.64 481.66,64.65 482.00,64.80 482.34,65.10 482.68,65.53 483.02,66.11 483.36,66.82 483.70,67.67 484.04,68.65 484.38,69.76 484.72,71.00 485.06,72.35 485.40,73.82 485.74,75.39 486.08,77.07 486.42,78.84 486.76,80.70 487.10,82.64 487.44,84.66 487.78,86.74 488.12,88.88 488.46,91.07 488.80,93.30 489.14,95.56 489.48,97.85 489.82,100.15 490.16,102.45 490.50,104.75 490.84,107.04 491.18,109.31 491.52,111.55 491.86,113.75 492.20,115.91 492.54,118.00 492.88,120.04 493.22,122.00 493.56,123.88 493.90,125.68 494.24,127.38 494.58,128.98 494.92,130.48 495.26,131.86 495.60,133.13 495.94,134.27 496.28,135.29 496.62,136.18 496.96,136.93 497.30,137.54 497.64,138.01 497.98,138.35 498.32,138.54 498.66,138.58 499.00,138.48 499.34,138.24 499.68,137.86 500.02,137.33 500.36,136.67 500.70,135.87 501.04,134.93 501.38,133.87 501.72,132.68 502.06,131.37 502.40,129.95 502.74,128.41 503.08,126.77 503.42,125.03 503.76,123.21 504.10,121.29 504.44,119.30 504.78,117.25 505.12,115.13 505.46,112.96 505.80,110.74 506.14,108.49 506.48,106.21 506.82,103.91 507.16,101.61 507.50,99.31 507.84,97.01 508.18,94.73 508.52,92.48 508.86,90.26 509.20,88.09 509.54,85.97 509.88,83.92 510.22,81.93 510.56,80.01 510.90,78.18 511.24,76.45 511.58,74.81 511.92,73.27 512.26,71.84 512.60,70.53 512.94,69.35 513.28,68.28 513.62,67.35 513.96,66.55 514.30,65.88 514.64,65.36 514.98,64.97 515.32,64.73 515.66,64.63 516.00,64.68 516.34,64.87 516.68,65.20 517.02,65.68 517.36,66.30 517.70,67.06 518.04,67.96 518.38,68.99 518.72,70.15 519.06,71.45 519.40,72.86 519.74,74.39 520.08,76.04 520.42,77.79 520.76,79.64 521.10,81.58 521.44,83.62 521.78,85.73 522.12,87.91 522.46,90.15 522.80,92.45 523.14,94.79 523.48,97.17 523.82,99.58 524.16,102.00 524.50,104.44 524.84,106.88 525.18,109.30 525.52,111.71 525.86,114.09 526.20,116.43 526.54,118.73 526.88,120.98 527.22,123.16 527.56,125.26 527.90,127.29 528.24,129.23 528.58,131.07 528.92,132.81 529.26,134.44 529.60,135.96 529.94,137.35 530.28,138.62 530.62,139.75 530.96,140.74 531.30,141.60" fill="none" stroke="#1a6a30" stroke-width="1.6" stroke-linejoin="round" style="mix-blend-mode:multiply"/>
<polyline points="395.30,143.26 395.64,143.35 395.98,143.29 396.32,143.09 396.66,142.74 397.00,142.24 397.34,141.61 397.68,140.84 398.02,139.93 398.36,138.89 398.70,137.72 399.04,136.43 399.38,135.02 399.72,133.50 400.06,131.87 400.40,130.15 400.74,128.32 401.08,126.42 401.42,124.43 401.76,122.38 402.10,120.26 402.44,118.09 402.78,115.87 403.12,113.61 403.46,111.32 403.80,109.02 404.14,106.70 404.48,104.38 404.82,102.07 405.16,99.77 405.50,97.50 405.84,95.26 406.18,93.06 406.52,90.91 406.86,88.81 407.20,86.79 407.54,84.83 407.88,82.96 408.22,81.18 408.56,79.48 408.90,77.89 409.24,76.41 409.58,75.03 409.92,73.78 410.26,72.64 410.60,71.63 410.94,70.75 411.28,70.00 411.62,69.38 411.96,68.90 412.30,68.55 412.64,68.35 412.98,68.28 413.32,68.35 413.66,68.57 414.00,68.91 414.34,69.40 414.68,70.02 415.02,70.77 415.36,71.65 415.70,72.66 416.04,73.78 416.38,75.03 416.72,76.39 417.06,77.85 417.40,79.42 417.74,81.08 418.08,82.83 418.42,84.66 418.76,86.57 419.10,88.55 419.44,90.58 419.78,92.67 420.12,94.80 420.46,96.97 420.80,99.17 421.14,101.38 421.48,103.60 421.82,105.83 422.16,108.04 422.50,110.25 422.84,112.42 423.18,114.57 423.52,116.67 423.86,118.72 424.20,120.72 424.54,122.65 424.88,124.51 425.22,126.29 425.56,127.98 425.90,129.58 426.24,131.08 426.58,132.47 426.92,133.75 427.26,134.92 427.60,135.97 427.94,136.89 428.28,137.68 428.62,138.34 428.96,138.87 429.30,139.27 429.64,139.52 429.98,139.64 430.32,139.62 430.66,139.46 431.00,139.16 431.34,138.73 431.68,138.16 432.02,137.45 432.36,136.62 432.70,135.66 433.04,134.58 433.38,133.37 433.72,132.06 434.06,130.63 434.40,129.10 434.74,127.47 435.08,125.75 435.42,123.95 435.76,122.07 436.10,120.12 436.44,118.10 436.78,116.03 437.12,113.92 437.46,111.76 437.80,109.57 438.14,107.37 438.48,105.15 438.82,102.92 439.16,100.70 439.50,98.49 439.84,96.30 440.18,94.15 440.52,92.03 440.86,89.95 441.20,87.94 441.54,85.98 441.88,84.09 442.22,82.29 442.56,80.56 442.90,78.93 443.24,77.39 443.58,75.96 443.92,74.63 444.26,73.43 444.60,72.33 444.94,71.37 445.28,70.53 445.62,69.81 445.96,69.24 446.30,68.79 446.64,68.49 446.98,68.32 447.32,68.29 447.66,68.40 448.00,68.64 448.34,69.03 448.68,69.55 449.02,70.20 449.36,70.99 449.70,71.90 450.04,72.94 450.38,74.10 450.72,75.38 451.06,76.76 451.40,78.26 451.74,79.85 452.08,81.53 452.42,83.31 452.76,85.16 453.10,87.09 453.44,89.08 453.78,91.13 454.12,93.23 454.46,95.37 454.80,97.55 455.14,99.75 455.48,101.97 455.82,104.19 456.16,106.41 456.50,108.63 456.84,110.83 457.18,112.99 457.52,115.13 457.86,117.22 458.20,119.26 458.54,121.24 458.88,123.15 459.22,124.99 459.56,126.75 459.90,128.41 460.24,129.99 460.58,131.46 460.92,132.82 461.26,134.07 461.60,135.21 461.94,136.22 462.28,137.11 462.62,137.87 462.96,138.50 463.30,138.99 463.64,139.35 463.98,139.57 464.32,139.65 464.66,139.59 465.00,139.39 465.34,139.06 465.68,138.59 466.02,137.98 466.36,137.25 466.70,136.38 467.04,135.38 467.38,134.27 467.72,133.04 468.06,131.69 468.40,130.24 468.74,128.68 469.08,127.03 469.42,125.28 469.76,123.46 470.10,121.56 470.44,119.59 470.78,117.56 471.12,115.48 471.46,113.35 471.80,111.18 472.14,108.99 472.48,106.78 472.82,104.56 473.16,102.33 473.50,100.11 473.84,97.91 474.18,95.73 474.52,93.58 474.86,91.47 475.20,89.41 475.54,87.41 475.88,85.47 476.22,83.61 476.56,81.82 476.90,80.12 477.24,78.51 477.58,77.00 477.92,75.60 478.26,74.30 478.60,73.12 478.94,72.07 479.28,71.13 479.62,70.32 479.96,69.65 480.30,69.11 480.64,68.70 480.98,68.43 481.32,68.30 481.66,68.30 482.00,68.45 482.34,68.73 482.68,69.15 483.02,69.71 483.36,70.40 483.70,71.22 484.04,72.17 484.38,73.24 484.72,74.43 485.06,75.73 485.40,77.15 485.74,78.67 486.08,80.29 486.42,82.00 486.76,83.79 487.10,85.66 487.44,87.61 487.78,89.62 488.12,91.68 488.46,93.79 488.80,95.95 489.14,98.13 489.48,100.34 489.82,102.55 490.16,104.78 490.50,107.00 490.84,109.21 491.18,111.40 491.52,113.56 491.86,115.69 492.20,117.76 492.54,119.79 492.88,121.75 493.22,123.65 493.56,125.46 493.90,127.20 494.24,128.84 494.58,130.39 494.92,131.83 495.26,133.16 495.60,134.39 495.94,135.49 496.28,136.47 496.62,137.32 496.96,138.05 497.30,138.64 497.64,139.10 497.98,139.42 498.32,139.60 498.66,139.65 499.00,139.55 499.34,139.32 499.68,138.95 500.02,138.44 500.36,137.80 500.70,137.03 501.04,136.13 501.38,135.10 501.72,133.95 502.06,132.69 502.40,131.32 502.74,129.83 503.08,128.25 503.42,126.57 503.76,124.81 504.10,122.96 504.44,121.04 504.78,119.06 505.12,117.01 505.46,114.92 505.80,112.78 506.14,110.61 506.48,108.41 506.82,106.19 507.16,103.97 507.50,101.74 507.84,99.53 508.18,97.33 508.52,95.16 508.86,93.02 509.20,90.92 509.54,88.88 509.88,86.89 510.22,84.97 510.56,83.13 510.90,81.36 511.24,79.68 511.58,78.10 511.92,76.62 512.26,75.24 512.60,73.98 512.94,72.83 513.28,71.81 513.62,70.90 513.96,70.13 514.30,69.49 514.64,68.98 514.98,68.61 515.32,68.38 515.66,68.28 516.00,68.33 516.34,68.51 516.68,68.83 517.02,69.29 517.36,69.89 517.70,70.62 518.04,71.49 518.38,72.48 518.72,73.60 519.06,74.84 519.40,76.20 519.74,77.67 520.08,79.25 520.42,80.93 520.76,82.71 521.10,84.57 521.44,86.52 521.78,88.54 522.12,90.63 522.46,92.78 522.80,94.98 523.14,97.22 523.48,99.50 523.82,101.80 524.16,104.12 524.50,106.45 524.84,108.77 525.18,111.09 525.52,113.38 525.86,115.65 526.20,117.89 526.54,120.08 526.88,122.21 527.22,124.28 527.56,126.29 527.90,128.21 528.24,130.05 528.58,131.80 528.92,133.45 529.26,135.00 529.60,136.43 529.94,137.74 530.28,138.93 530.62,140.00 530.96,140.93 531.30,141.73" fill="none" stroke="#b81e2a" stroke-width="1.6" stroke-linejoin="round" style="mix-blend-mode:multiply"/>
<polyline points="395.30,143.27 395.64,143.37 395.98,143.33 396.32,143.16 396.66,142.84 397.00,142.39 397.34,141.80 397.68,141.08 398.02,140.23 398.36,139.25 398.70,138.15 399.04,136.93 399.38,135.60 399.72,134.16 400.06,132.62 400.40,130.99 400.74,129.26 401.08,127.45 401.42,125.56 401.76,123.61 402.10,121.59 402.44,119.52 402.78,117.40 403.12,115.25 403.46,113.07 403.80,110.87 404.14,108.65 404.48,106.44 404.82,104.22 405.16,102.03 405.50,99.85 405.84,97.70 406.18,95.60 406.52,93.53 406.86,91.53 407.20,89.58 407.54,87.71 407.88,85.91 408.22,84.19 408.56,82.57 408.90,81.04 409.24,79.61 409.58,78.29 409.92,77.08 410.26,75.98 410.60,75.01 410.94,74.16 411.28,73.44 411.62,72.84 411.96,72.38 412.30,72.04 412.64,71.85 412.98,71.78 413.32,71.85 413.66,72.06 414.00,72.39 414.34,72.86 414.68,73.46 415.02,74.18 415.36,75.03 415.70,76.01 416.04,77.09 416.38,78.30 416.72,79.61 417.06,81.02 417.40,82.54 417.74,84.14 418.08,85.83 418.42,87.60 418.76,89.45 419.10,91.36 419.44,93.32 419.78,95.34 420.12,97.40 420.46,99.49 420.80,101.61 421.14,103.75 421.48,105.90 421.82,108.05 422.16,110.19 422.50,112.31 422.84,114.42 423.18,116.49 423.52,118.52 423.86,120.50 424.20,122.43 424.54,124.30 424.88,126.09 425.22,127.81 425.56,129.44 425.90,130.99 426.24,132.44 426.58,133.78 426.92,135.02 427.26,136.15 427.60,137.16 427.94,138.05 428.28,138.81 428.62,139.45 428.96,139.97 429.30,140.34 429.64,140.59 429.98,140.71 430.32,140.68 430.66,140.53 431.00,140.24 431.34,139.82 431.68,139.27 432.02,138.59 432.36,137.79 432.70,136.86 433.04,135.81 433.38,134.65 433.72,133.38 434.06,132.00 434.40,130.53 434.74,128.95 435.08,127.29 435.42,125.55 435.76,123.73 436.10,121.85 436.44,119.90 436.78,117.90 437.12,115.86 437.46,113.78 437.80,111.67 438.14,109.53 438.48,107.39 438.82,105.24 439.16,103.09 439.50,100.96 439.84,98.85 440.18,96.76 440.52,94.72 440.86,92.72 441.20,90.77 441.54,88.88 441.88,87.05 442.22,85.31 442.56,83.64 442.90,82.06 443.24,80.58 443.58,79.20 443.92,77.92 444.26,76.75 444.60,75.70 444.94,74.76 445.28,73.95 445.62,73.26 445.96,72.70 446.30,72.27 446.64,71.98 446.98,71.82 447.32,71.79 447.66,71.89 448.00,72.13 448.34,72.50 448.68,73.01 449.02,73.64 449.36,74.40 449.70,75.28 450.04,76.28 450.38,77.40 450.72,78.63 451.06,79.97 451.40,81.42 451.74,82.95 452.08,84.58 452.42,86.29 452.76,88.09 453.10,89.95 453.44,91.87 453.78,93.85 454.12,95.88 454.46,97.95 454.80,100.05 455.14,102.18 455.48,104.32 455.82,106.47 456.16,108.61 456.50,110.75 456.84,112.87 457.18,114.97 457.52,117.03 457.86,119.05 458.20,121.02 458.54,122.93 458.88,124.78 459.22,126.55 459.56,128.25 459.90,129.86 460.24,131.38 460.58,132.80 460.92,134.12 461.26,135.33 461.60,136.43 461.94,137.40 462.28,138.26 462.62,139.00 462.96,139.60 463.30,140.08 463.64,140.42 463.98,140.63 464.32,140.71 464.66,140.66 465.00,140.47 465.34,140.14 465.68,139.69 466.02,139.10 466.36,138.39 466.70,137.55 467.04,136.60 467.38,135.52 467.72,134.33 468.06,133.03 468.40,131.62 468.74,130.12 469.08,128.52 469.42,126.84 469.76,125.08 470.10,123.24 470.44,121.34 470.78,119.38 471.12,117.37 471.46,115.31 471.80,113.22 472.14,111.10 472.48,108.97 472.82,106.82 473.16,104.67 473.50,102.53 473.84,100.40 474.18,98.29 474.52,96.22 474.86,94.18 475.20,92.19 475.54,90.26 475.88,88.39 476.22,86.58 476.56,84.86 476.90,83.22 477.24,81.66 477.58,80.20 477.92,78.85 478.26,77.60 478.60,76.46 478.94,75.44 479.28,74.53 479.62,73.75 479.96,73.10 480.30,72.58 480.64,72.18 480.98,71.92 481.32,71.80 481.66,71.80 482.00,71.94 482.34,72.22 482.68,72.62 483.02,73.16 483.36,73.83 483.70,74.62 484.04,75.53 484.38,76.57 484.72,77.72 485.06,78.98 485.40,80.35 485.74,81.81 486.08,83.38 486.42,85.03 486.76,86.76 487.10,88.57 487.44,90.45 487.78,92.39 488.12,94.38 488.46,96.42 488.80,98.50 489.14,100.61 489.48,102.74 489.82,104.89 490.16,107.03 490.50,109.18 490.84,111.32 491.18,113.43 491.52,115.52 491.86,117.57 492.20,119.58 492.54,121.53 492.88,123.43 493.22,125.26 493.56,127.01 493.90,128.69 494.24,130.27 494.58,131.77 494.92,133.16 495.26,134.45 495.60,135.63 495.94,136.70 496.28,137.64 496.62,138.47 496.96,139.17 497.30,139.74 497.64,140.18 497.98,140.49 498.32,140.67 498.66,140.71 499.00,140.62 499.34,140.39 499.68,140.04 500.02,139.55 500.36,138.93 500.70,138.18 501.04,137.31 501.38,136.32 501.72,135.21 502.06,133.99 502.40,132.66 502.74,131.23 503.08,129.70 503.42,128.09 503.76,126.38 504.10,124.60 504.44,122.74 504.78,120.83 505.12,118.85 505.46,116.83 505.80,114.76 506.14,112.66 506.48,110.54 506.82,108.40 507.16,106.25 507.50,104.10 507.84,101.96 508.18,99.84 508.52,97.74 508.86,95.68 509.20,93.65 509.54,91.68 509.88,89.76 510.22,87.90 510.56,86.12 510.90,84.42 511.24,82.80 511.58,81.27 511.92,79.84 512.26,78.51 512.60,77.29 512.94,76.18 513.28,75.19 513.62,74.32 513.96,73.57 514.30,72.95 514.64,72.46 514.98,72.10 515.32,71.88 515.66,71.78 516.00,71.83 516.34,72.00 516.68,72.31 517.02,72.76 517.36,73.33 517.70,74.04 518.04,74.87 518.38,75.83 518.72,76.90 519.06,78.10 519.40,79.40 519.74,80.82 520.08,82.34 520.42,83.95 520.76,85.66 521.10,87.45 521.44,89.31 521.78,91.25 522.12,93.25 522.46,95.31 522.80,97.42 523.14,99.56 523.48,101.74 523.82,103.94 524.16,106.16 524.50,108.38 524.84,110.60 525.18,112.81 525.52,115.00 525.86,117.16 526.20,119.29 526.54,121.37 526.88,123.40 527.22,125.38 527.56,127.28 527.90,129.11 528.24,130.85 528.58,132.51 528.92,134.07 529.26,135.53 529.60,136.88 529.94,138.12 530.28,139.24 530.62,140.24 530.96,141.12 531.30,141.86" fill="none" stroke="#22229a" stroke-width="1.6" stroke-linejoin="round" style="mix-blend-mode:multiply"/>
<polyline points="395.30,143.26 395.64,143.35 395.98,143.29 396.32,143.09 396.66,142.74 397.00,142.24 397.34,141.61 397.68,140.84 398.02,139.93 398.36,138.89 398.70,137.72 399.04,136.43 399.38,135.02 399.72,133.50 400.06,131.87 400.40,130.15 400.74,128.32 401.08,126.42 401.42,124.43 401.76,122.38 402.10,120.26 402.44,118.09 402.78,115.87 403.12,113.61 403.46,111.32 403.80,109.02 404.14,106.70 404.48,104.38 404.82,102.07 405.16,99.77 405.50,97.50 405.84,95.26 406.18,93.06 406.52,90.91 406.86,88.81 407.20,86.79 407.54,84.83 407.88,82.96 408.22,81.18 408.56,79.48 408.90,77.89 409.24,76.41 409.58,75.03 409.92,73.78 410.26,72.64 410.60,71.63 410.94,70.75 411.28,70.00 411.62,69.38 411.96,68.90 412.30,68.55 412.64,68.35 412.98,68.28 413.32,68.35 413.66,68.57 414.00,68.91 414.34,69.40 414.68,70.02 415.02,70.77 415.36,71.65 415.70,72.66 416.04,73.78 416.38,75.03 416.72,76.39 417.06,77.85 417.40,79.42 417.74,81.08 418.08,82.83 418.42,84.66 418.76,86.57 419.10,88.55 419.44,90.58 419.78,92.67 420.12,94.80 420.46,96.97 420.80,99.17 421.14,101.38 421.48,103.60 421.82,105.83 422.16,108.04 422.50,110.25 422.84,112.42 423.18,114.57 423.52,116.67 423.86,118.72 424.20,120.72 424.54,122.65 424.88,124.51 425.22,126.29 425.56,127.98 425.90,129.58 426.24,131.08 426.58,132.47 426.92,133.75 427.26,134.92 427.60,135.97 427.94,136.89 428.28,137.68 428.62,138.34 428.96,138.87 429.30,139.27 429.64,139.52 429.98,139.64 430.32,139.62 430.66,139.46 431.00,139.16 431.34,138.73 431.68,138.16 432.02,137.45 432.36,136.62 432.70,135.66 433.04,134.58 433.38,133.37 433.72,132.06 434.06,130.63 434.40,129.10 434.74,127.47 435.08,125.75 435.42,123.95 435.76,122.07 436.10,120.12 436.44,118.10 436.78,116.03 437.12,113.92 437.46,111.76 437.80,109.57 438.14,107.37 438.48,105.15 438.82,102.92 439.16,100.70 439.50,98.49 439.84,96.30 440.18,94.15 440.52,92.03 440.86,89.95 441.20,87.94 441.54,85.98 441.88,84.09 442.22,82.29 442.56,80.56 442.90,78.93 443.24,77.39 443.58,75.96 443.92,74.63 444.26,73.43 444.60,72.33 444.94,71.37 445.28,70.53 445.62,69.81 445.96,69.24 446.30,68.79 446.64,68.49 446.98,68.32 447.32,68.29 447.66,68.40 448.00,68.64 448.34,69.03 448.68,69.55 449.02,70.20 449.36,70.99 449.70,71.90 450.04,72.94 450.38,74.10 450.72,75.38 451.06,76.76 451.40,78.26 451.74,79.85 452.08,81.53 452.42,83.31 452.76,85.16 453.10,87.09 453.44,89.08 453.78,91.13 454.12,93.23 454.46,95.37 454.80,97.55 455.14,99.75 455.48,101.97 455.82,104.19 456.16,106.41 456.50,108.63 456.84,110.83 457.18,112.99 457.52,115.13 457.86,117.22 458.20,119.26 458.54,121.24 458.88,123.15 459.22,124.99 459.56,126.75 459.90,128.41 460.24,129.99 460.58,131.46 460.92,132.82 461.26,134.07 461.60,135.21 461.94,136.22 462.28,137.11 462.62,137.87 462.96,138.50 463.30,138.99 463.64,139.35 463.98,139.57 464.32,139.65 464.66,139.59 465.00,139.39 465.34,139.06 465.68,138.59 466.02,137.98 466.36,137.25 466.70,136.38 467.04,135.38 467.38,134.27 467.72,133.04 468.06,131.69 468.40,130.24 468.74,128.68 469.08,127.03 469.42,125.28 469.76,123.46 470.10,121.56 470.44,119.59 470.78,117.56 471.12,115.48 471.46,113.35 471.80,111.18 472.14,108.99 472.48,106.78 472.82,104.56 473.16,102.33 473.50,100.11 473.84,97.91 474.18,95.73 474.52,93.58 474.86,91.47 475.20,89.41 475.54,87.41 475.88,85.47 476.22,83.61 476.56,81.82 476.90,80.12 477.24,78.51 477.58,77.00 477.92,75.60 478.26,74.30 478.60,73.12 478.94,72.07 479.28,71.13 479.62,70.32 479.96,69.65 480.30,69.11 480.64,68.70 480.98,68.43 481.32,68.30 481.66,68.30 482.00,68.45 482.34,68.73 482.68,69.15 483.02,69.71 483.36,70.40 483.70,71.22 484.04,72.17 484.38,73.24 484.72,74.43 485.06,75.73 485.40,77.15 485.74,78.67 486.08,80.29 486.42,82.00 486.76,83.79 487.10,85.66 487.44,87.61 487.78,89.62 488.12,91.68 488.46,93.79 488.80,95.95 489.14,98.13 489.48,100.34 489.82,102.55 490.16,104.78 490.50,107.00 490.84,109.21 491.18,111.40 491.52,113.56 491.86,115.69 492.20,117.76 492.54,119.79 492.88,121.75 493.22,123.65 493.56,125.46 493.90,127.20 494.24,128.84 494.58,130.39 494.92,131.83 495.26,133.16 495.60,134.39 495.94,135.49 496.28,136.47 496.62,137.32 496.96,138.05 497.30,138.64 497.64,139.10 497.98,139.42 498.32,139.60 498.66,139.65 499.00,139.55 499.34,139.32 499.68,138.95 500.02,138.44 500.36,137.80 500.70,137.03 501.04,136.13 501.38,135.10 501.72,133.95 502.06,132.69 502.40,131.32 502.74,129.83 503.08,128.25 503.42,126.57 503.76,124.81 504.10,122.96 504.44,121.04 504.78,119.06 505.12,117.01 505.46,114.92 505.80,112.78 506.14,110.61 506.48,108.41 506.82,106.19 507.16,103.97 507.50,101.74 507.84,99.53 508.18,97.33 508.52,95.16 508.86,93.02 509.20,90.92 509.54,88.88 509.88,86.89 510.22,84.97 510.56,83.13 510.90,81.36 511.24,79.68 511.58,78.10 511.92,76.62 512.26,75.24 512.60,73.98 512.94,72.83 513.28,71.81 513.62,70.90 513.96,70.13 514.30,69.49 514.64,68.98 514.98,68.61 515.32,68.38 515.66,68.28 516.00,68.33 516.34,68.51 516.68,68.83 517.02,69.29 517.36,69.89 517.70,70.62 518.04,71.49 518.38,72.48 518.72,73.60 519.06,74.84 519.40,76.20 519.74,77.67 520.08,79.25 520.42,80.93 520.76,82.71 521.10,84.57 521.44,86.52 521.78,88.54 522.12,90.63 522.46,92.78 522.80,94.98 523.14,97.22 523.48,99.50 523.82,101.80 524.16,104.12 524.50,106.45 524.84,108.77 525.18,111.09 525.52,113.38 525.86,115.65 526.20,117.89 526.54,120.08 526.88,122.21 527.22,124.28 527.56,126.29 527.90,128.21 528.24,130.05 528.58,131.80 528.92,133.45 529.26,135.00 529.60,136.43 529.94,137.74 530.28,138.93 530.62,140.00 530.96,140.93 531.30,141.73" fill="none" stroke="#b81e2a" stroke-width="1.6" stroke-linejoin="round" opacity="0.4"/>
<path d="M395.30,59.00V150.30H532.30" fill="none" stroke="#000" stroke-width="1.4"/>
<path d="M392.70,150.30H395.30" stroke="#000" stroke-width="1.4"/>
<text x="390.90" y="154.60" class="tk" text-anchor="end">0.0</text>
<path d="M392.70,135.08H395.30" stroke="#000" stroke-width="1.4"/>
<text x="390.90" y="139.38" class="tk" text-anchor="end">0.1</text>
<path d="M392.70,119.87H395.30" stroke="#000" stroke-width="1.4"/>
<text x="390.90" y="124.17" class="tk" text-anchor="end">0.2</text>
<path d="M392.70,104.65H395.30" stroke="#000" stroke-width="1.4"/>
<text x="390.90" y="108.95" class="tk" text-anchor="end">0.3</text>
<path d="M392.70,89.43H395.30" stroke="#000" stroke-width="1.4"/>
<text x="390.90" y="93.73" class="tk" text-anchor="end">0.4</text>
<path d="M392.70,74.22H395.30" stroke="#000" stroke-width="1.4"/>
<text x="390.90" y="78.52" class="tk" text-anchor="end">0.5</text>
<path d="M392.70,59.00H395.30" stroke="#000" stroke-width="1.4"/>
<text x="390.90" y="63.30" class="tk" text-anchor="end">0.6</text>
<path d="M395.30,150.30V152.90" stroke="#000" stroke-width="1.4"/>
<text x="395.30" y="165.20" class="tk" text-anchor="middle">0.0</text>
<path d="M422.70,150.30V152.90" stroke="#000" stroke-width="1.4"/>
<text x="422.70" y="165.20" class="tk" text-anchor="middle">0.4</text>
<path d="M450.10,150.30V152.90" stroke="#000" stroke-width="1.4"/>
<text x="450.10" y="165.20" class="tk" text-anchor="middle">0.8</text>
<path d="M477.50,150.30V152.90" stroke="#000" stroke-width="1.4"/>
<text x="477.50" y="165.20" class="tk" text-anchor="middle">1.2</text>
<path d="M504.90,150.30V152.90" stroke="#000" stroke-width="1.4"/>
<text x="504.90" y="165.20" class="tk" text-anchor="middle">1.6</text>
<path d="M532.30,150.30V152.90" stroke="#000" stroke-width="1.4"/>
<text x="532.30" y="165.20" class="tk" text-anchor="middle">2.0</text>
<text x="369.90" y="40.20" class="lb">c)</text>
<polyline points="63.45,287.67 63.79,287.69 64.13,287.69 64.47,287.69 64.81,287.67 65.15,287.65 65.49,287.62 65.83,287.57 66.17,287.52 66.51,287.45 66.85,287.38 67.19,287.29 67.53,287.20 67.87,287.09 68.20,286.98 68.54,286.86 68.88,286.72 69.22,286.58 69.56,286.43 69.90,286.27 70.24,286.09 70.58,285.91 70.92,285.72 71.26,285.52 71.60,285.31 71.94,285.09 72.28,284.86 72.62,284.62 72.96,284.38 73.30,284.12 73.64,283.85 73.98,283.58 74.32,283.29 74.66,283.00 75.00,282.70 75.34,282.39 75.68,282.07 76.02,281.74 76.36,281.41 76.70,281.06 77.03,280.71 77.37,280.35 77.71,279.98 78.05,279.60 78.39,279.22 78.73,278.82 79.07,278.42 79.41,278.01 79.75,277.60 80.09,277.17 80.43,276.74 80.77,276.30 81.11,275.85 81.45,275.40 81.79,274.94 82.13,274.47 82.47,274.00 82.81,273.52 83.15,273.03 83.49,272.54 83.83,272.04 84.17,271.53 84.51,271.02 84.85,270.50 85.19,269.98 85.53,269.45 85.87,268.91 86.20,268.37 86.54,267.82 86.88,267.27 87.22,266.72 87.56,266.16 87.90,265.59 88.24,265.02 88.58,264.44 88.92,263.86 89.26,263.28 89.60,262.69 89.94,262.10 90.28,261.50 90.62,260.90 90.96,260.30 91.30,259.70 91.64,259.09 91.98,258.47 92.32,257.86 92.66,257.24 93.00,256.62 93.34,255.99 93.68,255.37 94.02,254.74 94.36,254.11 94.70,253.48 95.04,252.85 95.37,252.21 95.71,251.57 96.05,250.94 96.39,250.30 96.73,249.66 97.07,249.02 97.41,248.37 97.75,247.73 98.09,247.09 98.43,246.45 98.77,245.80 99.11,245.16 99.45,244.52 99.79,243.88 100.13,243.24 100.47,242.60 100.81,241.96 101.15,241.32 101.49,240.68 101.83,240.04 102.17,239.41 102.51,238.78 102.85,238.15 103.19,237.52 103.53,236.89 103.87,236.26 104.21,235.64 104.54,235.02 104.88,234.40 105.22,233.79 105.56,233.18 105.90,232.57 106.24,231.97 106.58,231.36 106.92,230.77 107.26,230.17 107.60,229.58 107.94,229.00 108.28,228.41 108.62,227.84 108.96,227.26 109.30,226.69 109.64,226.13 109.98,225.57 110.32,225.02 110.66,224.47 111.00,223.92 111.34,223.39 111.68,222.85 112.02,222.33 112.36,221.80 112.70,221.29 113.04,220.78 113.37,220.28 113.71,219.78 114.05,219.29 114.39,218.80 114.73,218.33 115.07,217.85 115.41,217.39 115.75,216.93 116.09,216.48 116.43,216.04 116.77,215.60 117.11,215.18 117.45,214.75 117.79,214.34 118.13,213.94 118.47,213.54 118.81,213.15 119.15,212.77 119.49,212.39 119.83,212.03 120.17,211.67 120.51,211.32 120.85,210.98 121.19,210.65 121.53,210.32 121.87,210.01 122.21,209.70 122.54,209.40 122.88,209.12 123.22,208.84 123.56,208.56 123.90,208.30 124.24,208.05 124.58,207.81 124.92,207.57 125.26,207.35 125.60,207.13 125.94,206.93 126.28,206.73 126.62,206.54 126.96,206.37 127.30,206.20 127.64,206.04 127.98,205.89 128.32,205.75 128.66,205.62 129.00,205.50 129.34,205.40 129.68,205.30 130.02,205.21 130.36,205.13 130.70,205.06 131.04,205.00 131.38,204.95 131.71,204.91 132.05,204.88 132.39,204.86 132.73,204.85 133.07,204.85 133.41,204.86 133.75,204.87 134.09,204.90 134.43,204.94 134.77,204.99 135.11,205.05 135.45,205.12 135.79,205.20 136.13,205.29 136.47,205.39 136.81,205.50 137.15,205.62 137.49,205.75 137.83,205.88 138.17,206.03 138.51,206.19 138.85,206.36 139.19,206.53 139.53,206.72 139.87,206.92 140.21,207.12 140.54,207.34 140.88,207.56 141.22,207.79 141.56,208.04 141.90,208.29 142.24,208.55 142.58,208.82 142.92,209.10 143.26,209.39 143.60,209.68 143.94,209.99 144.28,210.31 144.62,210.63 144.96,210.96 145.30,211.30 145.64,211.65 145.98,212.01 146.32,212.37 146.66,212.74 147.00,213.13 147.34,213.52 147.68,213.91 148.02,214.32 148.36,214.73 148.70,215.15 149.04,215.58 149.38,216.02 149.71,216.46 150.05,216.91 150.39,217.36 150.73,217.83 151.07,218.30 151.41,218.78 151.75,219.26 152.09,219.75 152.43,220.25 152.77,220.75 153.11,221.26 153.45,221.78 153.79,222.30 154.13,222.82 154.47,223.36 154.81,223.89 155.15,224.44 155.49,224.99 155.83,225.54 156.17,226.10 156.51,226.66 156.85,227.23 157.19,227.80 157.53,228.38 157.87,228.96 158.21,229.55 158.55,230.14 158.88,230.73 159.22,231.33 159.56,231.93 159.90,232.54 160.24,233.15 160.58,233.76 160.92,234.37 161.26,234.99 161.60,235.61 161.94,236.23 162.28,236.85 162.62,237.48 162.96,238.11 163.30,238.74 163.64,239.37 163.98,240.01 164.32,240.64 164.66,241.28 165.00,241.92 165.34,242.56 165.68,243.20 166.02,243.84 166.36,244.48 166.70,245.13 167.04,245.77 167.38,246.41 167.71,247.05 168.05,247.70 168.39,248.34 168.73,248.98 169.07,249.62 169.41,250.26 169.75,250.90 170.09,251.54 170.43,252.17 170.77,252.81 171.11,253.44 171.45,254.08 171.79,254.71 172.13,255.33 172.47,255.96 172.81,256.58 173.15,257.20 173.49,257.82 173.83,258.44 174.17,259.05 174.51,259.66 174.85,260.27 175.19,260.87 175.53,261.47 175.87,262.07 176.21,262.66 176.55,263.25 176.88,263.83 177.22,264.41 177.56,264.99 177.90,265.56 178.24,266.12 178.58,266.69 178.92,267.24 179.26,267.79 179.60,268.34 179.94,268.88 180.28,269.42 180.62,269.95 180.96,270.47 181.30,270.99 181.64,271.50 181.98,272.01 182.32,272.51 182.66,273.00 183.00,273.49 183.34,273.97 183.68,274.45 184.02,274.92 184.36,275.38 184.70,275.83 185.04,276.28 185.38,276.72 185.72,277.15 186.05,277.57 186.39,277.99 186.73,278.40 187.07,278.80 187.41,279.19 187.75,279.58 188.09,279.96 188.43,280.33 188.77,280.69 189.11,281.04 189.45,281.39 189.79,281.73 190.13,282.05 190.47,282.37 190.81,282.68 191.15,282.99 191.49,283.28 191.83,283.56 192.17,283.84 192.51,284.10 192.85,284.36 193.19,284.61 193.53,284.85 193.87,285.08 194.21,285.30 194.55,285.51 194.88,285.71 195.22,285.90 195.56,286.08 195.90,286.26 196.24,286.42 196.58,286.57 196.92,286.72 197.26,286.85 197.60,286.97 197.94,287.09 198.28,287.19 198.62,287.29 198.96,287.37 199.30,287.45" fill="none" stroke="#1a6a30" stroke-width="1.6" stroke-linejoin="round" style="mix-blend-mode:multiply"/>
<polyline points="63.45,288.25 63.79,288.26 64.13,288.27 64.47,288.26 64.81,288.25 65.15,288.22 65.49,288.19 65.83,288.15 66.17,288.10 66.51,288.03 66.85,287.96 67.19,287.88 67.53,287.79 67.87,287.69 68.20,287.58 68.54,287.46 68.88,287.33 69.22,287.19 69.56,287.04 69.90,286.89 70.24,286.72 70.58,286.54 70.92,286.36 71.26,286.17 71.60,285.96 71.94,285.75 72.28,285.53 72.62,285.30 72.96,285.06 73.30,284.81 73.64,284.55 73.98,284.29 74.32,284.01 74.66,283.73 75.00,283.44 75.34,283.14 75.68,282.83 76.02,282.52 76.36,282.19 76.70,281.86 77.03,281.52 77.37,281.17 77.71,280.81 78.05,280.44 78.39,280.07 78.73,279.69 79.07,279.30 79.41,278.91 79.75,278.51 80.09,278.10 80.43,277.68 80.77,277.25 81.11,276.82 81.45,276.38 81.79,275.94 82.13,275.49 82.47,275.03 82.81,274.56 83.15,274.09 83.49,273.62 83.83,273.13 84.17,272.64 84.51,272.15 84.85,271.65 85.19,271.14 85.53,270.63 85.87,270.11 86.20,269.59 86.54,269.06 86.88,268.53 87.22,267.99 87.56,267.45 87.90,266.90 88.24,266.35 88.58,265.79 88.92,265.23 89.26,264.67 89.60,264.10 89.94,263.52 90.28,262.95 90.62,262.37 90.96,261.79 91.30,261.20 91.64,260.61 91.98,260.02 92.32,259.42 92.66,258.83 93.00,258.23 93.34,257.62 93.68,257.02 94.02,256.41 94.36,255.80 94.70,255.19 95.04,254.58 95.37,253.96 95.71,253.35 96.05,252.73 96.39,252.11 96.73,251.49 97.07,250.87 97.41,250.25 97.75,249.63 98.09,249.01 98.43,248.39 98.77,247.77 99.11,247.15 99.45,246.53 99.79,245.91 100.13,245.29 100.47,244.67 100.81,244.05 101.15,243.43 101.49,242.82 101.83,242.20 102.17,241.59 102.51,240.98 102.85,240.37 103.19,239.76 103.53,239.15 103.87,238.55 104.21,237.95 104.54,237.35 104.88,236.75 105.22,236.16 105.56,235.56 105.90,234.98 106.24,234.39 106.58,233.81 106.92,233.23 107.26,232.66 107.60,232.09 107.94,231.52 108.28,230.96 108.62,230.40 108.96,229.85 109.30,229.30 109.64,228.75 109.98,228.21 110.32,227.67 110.66,227.14 111.00,226.62 111.34,226.10 111.68,225.58 112.02,225.07 112.36,224.57 112.70,224.07 113.04,223.58 113.37,223.09 113.71,222.61 114.05,222.14 114.39,221.67 114.73,221.20 115.07,220.75 115.41,220.30 115.75,219.86 116.09,219.42 116.43,219.00 116.77,218.57 117.11,218.16 117.45,217.75 117.79,217.35 118.13,216.96 118.47,216.58 118.81,216.20 119.15,215.83 119.49,215.47 119.83,215.12 120.17,214.77 120.51,214.43 120.85,214.10 121.19,213.78 121.53,213.47 121.87,213.16 122.21,212.87 122.54,212.58 122.88,212.30 123.22,212.03 123.56,211.77 123.90,211.52 124.24,211.27 124.58,211.04 124.92,210.81 125.26,210.59 125.60,210.38 125.94,210.19 126.28,210.00 126.62,209.82 126.96,209.64 127.30,209.48 127.64,209.33 127.98,209.18 128.32,209.05 128.66,208.93 129.00,208.81 129.34,208.70 129.68,208.61 130.02,208.52 130.36,208.44 130.70,208.38 131.04,208.32 131.38,208.27 131.71,208.23 132.05,208.20 132.39,208.18 132.73,208.17 133.07,208.17 133.41,208.18 133.75,208.20 134.09,208.23 134.43,208.27 134.77,208.32 135.11,208.37 135.45,208.44 135.79,208.52 136.13,208.60 136.47,208.70 136.81,208.80 137.15,208.92 137.49,209.04 137.83,209.18 138.17,209.32 138.51,209.47 138.85,209.63 139.19,209.81 139.53,209.99 139.87,210.17 140.21,210.37 140.54,210.58 140.88,210.80 141.22,211.02 141.56,211.26 141.90,211.50 142.24,211.75 142.58,212.02 142.92,212.29 143.26,212.56 143.60,212.85 143.94,213.15 144.28,213.45 144.62,213.76 144.96,214.08 145.30,214.41 145.64,214.75 145.98,215.10 146.32,215.45 146.66,215.81 147.00,216.18 147.34,216.56 147.68,216.94 148.02,217.33 148.36,217.73 148.70,218.14 149.04,218.55 149.38,218.97 149.71,219.40 150.05,219.83 150.39,220.28 150.73,220.72 151.07,221.18 151.41,221.64 151.75,222.11 152.09,222.58 152.43,223.06 152.77,223.55 153.11,224.04 153.45,224.54 153.79,225.04 154.13,225.55 154.47,226.07 154.81,226.59 155.15,227.11 155.49,227.64 155.83,228.18 156.17,228.72 156.51,229.27 156.85,229.82 157.19,230.37 157.53,230.93 157.87,231.49 158.21,232.06 158.55,232.63 158.88,233.20 159.22,233.78 159.56,234.36 159.90,234.94 160.24,235.53 160.58,236.12 160.92,236.72 161.26,237.31 161.60,237.91 161.94,238.51 162.28,239.12 162.62,239.72 162.96,240.33 163.30,240.94 163.64,241.55 163.98,242.17 164.32,242.78 164.66,243.40 165.00,244.02 165.34,244.63 165.68,245.25 166.02,245.87 166.36,246.49 166.70,247.11 167.04,247.74 167.38,248.36 167.71,248.98 168.05,249.60 168.39,250.22 168.73,250.84 169.07,251.46 169.41,252.08 169.75,252.70 170.09,253.31 170.43,253.93 170.77,254.54 171.11,255.16 171.45,255.77 171.79,256.38 172.13,256.98 172.47,257.59 172.81,258.19 173.15,258.79 173.49,259.39 173.83,259.99 174.17,260.58 174.51,261.17 174.85,261.75 175.19,262.34 175.53,262.92 175.87,263.49 176.21,264.07 176.55,264.63 176.88,265.20 177.22,265.76 177.56,266.32 177.90,266.87 178.24,267.42 178.58,267.96 178.92,268.50 179.26,269.03 179.60,269.56 179.94,270.08 180.28,270.60 180.62,271.11 180.96,271.62 181.30,272.12 181.64,272.62 181.98,273.11 182.32,273.59 182.66,274.07 183.00,274.54 183.34,275.00 183.68,275.46 184.02,275.91 184.36,276.36 184.70,276.80 185.04,277.23 185.38,277.65 185.72,278.07 186.05,278.48 186.39,278.89 186.73,279.28 187.07,279.67 187.41,280.05 187.75,280.42 188.09,280.79 188.43,281.15 188.77,281.50 189.11,281.84 189.45,282.17 189.79,282.50 190.13,282.81 190.47,283.12 190.81,283.42 191.15,283.72 191.49,284.00 191.83,284.27 192.17,284.54 192.51,284.80 192.85,285.05 193.19,285.29 193.53,285.52 193.87,285.74 194.21,285.95 194.55,286.15 194.88,286.35 195.22,286.53 195.56,286.71 195.90,286.88 196.24,287.04 196.58,287.18 196.92,287.32 197.26,287.45 197.60,287.57 197.94,287.68 198.28,287.78 198.62,287.88 198.96,287.96 199.30,288.03" fill="none" stroke="#b81e2a" stroke-width="1.6" stroke-linejoin="round" style="mix-blend-mode:multiply"/>
<polyline points="63.45,289.17 63.79,289.18 64.13,289.19 64.47,289.18 64.81,289.17 65.15,289.14 65.49,289.11 65.83,289.07 66.17,289.02 66.51,288.96 66.85,288.89 67.19,288.81 67.53,288.72 67.87,288.63 68.20,288.52 68.54,288.40 68.88,288.28 69.22,288.15 69.56,288.00 69.90,287.85 70.24,287.69 70.58,287.52 70.92,287.34 71.26,287.16 71.60,286.96 71.94,286.75 72.28,286.54 72.62,286.32 72.96,286.09 73.30,285.85 73.64,285.60 73.98,285.34 74.32,285.08 74.66,284.81 75.00,284.52 75.34,284.23 75.68,283.94 76.02,283.63 76.36,283.32 76.70,283.00 77.03,282.67 77.37,282.33 77.71,281.98 78.05,281.63 78.39,281.27 78.73,280.90 79.07,280.53 79.41,280.15 79.75,279.76 80.09,279.36 80.43,278.96 80.77,278.55 81.11,278.13 81.45,277.71 81.79,277.28 82.13,276.84 82.47,276.40 82.81,275.95 83.15,275.50 83.49,275.04 83.83,274.57 84.17,274.10 84.51,273.62 84.85,273.14 85.19,272.65 85.53,272.15 85.87,271.65 86.20,271.15 86.54,270.64 86.88,270.12 87.22,269.60 87.56,269.08 87.90,268.55 88.24,268.02 88.58,267.48 88.92,266.94 89.26,266.39 89.60,265.85 89.94,265.29 90.28,264.74 90.62,264.18 90.96,263.61 91.30,263.05 91.64,262.48 91.98,261.91 92.32,261.33 92.66,260.76 93.00,260.18 93.34,259.59 93.68,259.01 94.02,258.42 94.36,257.84 94.70,257.25 95.04,256.65 95.37,256.06 95.71,255.47 96.05,254.87 96.39,254.27 96.73,253.68 97.07,253.08 97.41,252.48 97.75,251.88 98.09,251.28 98.43,250.68 98.77,250.08 99.11,249.48 99.45,248.88 99.79,248.28 100.13,247.68 100.47,247.09 100.81,246.49 101.15,245.89 101.49,245.30 101.83,244.70 102.17,244.11 102.51,243.52 102.85,242.93 103.19,242.34 103.53,241.76 103.87,241.17 104.21,240.59 104.54,240.02 104.88,239.44 105.22,238.87 105.56,238.30 105.90,237.73 106.24,237.16 106.58,236.60 106.92,236.04 107.26,235.49 107.60,234.94 107.94,234.39 108.28,233.85 108.62,233.31 108.96,232.77 109.30,232.24 109.64,231.72 109.98,231.19 110.32,230.68 110.66,230.16 111.00,229.66 111.34,229.15 111.68,228.66 112.02,228.16 112.36,227.68 112.70,227.20 113.04,226.72 113.37,226.25 113.71,225.79 114.05,225.33 114.39,224.87 114.73,224.43 115.07,223.99 115.41,223.56 115.75,223.13 116.09,222.71 116.43,222.30 116.77,221.89 117.11,221.49 117.45,221.10 117.79,220.71 118.13,220.33 118.47,219.96 118.81,219.60 119.15,219.24 119.49,218.89 119.83,218.55 120.17,218.21 120.51,217.89 120.85,217.57 121.19,217.26 121.53,216.96 121.87,216.66 122.21,216.38 122.54,216.10 122.88,215.83 123.22,215.57 123.56,215.32 123.90,215.07 124.24,214.84 124.58,214.61 124.92,214.39 125.26,214.18 125.60,213.98 125.94,213.79 126.28,213.61 126.62,213.43 126.96,213.26 127.30,213.11 127.64,212.96 127.98,212.82 128.32,212.69 128.66,212.57 129.00,212.46 129.34,212.36 129.68,212.27 130.02,212.18 130.36,212.11 130.70,212.04 131.04,211.99 131.38,211.94 131.71,211.90 132.05,211.87 132.39,211.85 132.73,211.85 133.07,211.85 133.41,211.85 133.75,211.87 134.09,211.90 134.43,211.94 134.77,211.98 135.11,212.04 135.45,212.10 135.79,212.18 136.13,212.26 136.47,212.35 136.81,212.45 137.15,212.57 137.49,212.69 137.83,212.81 138.17,212.95 138.51,213.10 138.85,213.26 139.19,213.42 139.53,213.60 139.87,213.78 140.21,213.97 140.54,214.17 140.88,214.38 141.22,214.60 141.56,214.82 141.90,215.06 142.24,215.30 142.58,215.56 142.92,215.82 143.26,216.09 143.60,216.36 143.94,216.65 144.28,216.94 144.62,217.24 144.96,217.55 145.30,217.87 145.64,218.20 145.98,218.53 146.32,218.87 146.66,219.22 147.00,219.58 147.34,219.94 147.68,220.31 148.02,220.69 148.36,221.07 148.70,221.47 149.04,221.87 149.38,222.27 149.71,222.69 150.05,223.11 150.39,223.53 150.73,223.96 151.07,224.40 151.41,224.85 151.75,225.30 152.09,225.76 152.43,226.22 152.77,226.69 153.11,227.17 153.45,227.65 153.79,228.14 154.13,228.63 154.47,229.13 154.81,229.63 155.15,230.14 155.49,230.65 155.83,231.16 156.17,231.69 156.51,232.21 156.85,232.74 157.19,233.28 157.53,233.82 157.87,234.36 158.21,234.91 158.55,235.46 158.88,236.01 159.22,236.57 159.56,237.13 159.90,237.70 160.24,238.26 160.58,238.83 160.92,239.41 161.26,239.98 161.60,240.56 161.94,241.14 162.28,241.73 162.62,242.31 162.96,242.90 163.30,243.49 163.64,244.08 163.98,244.67 164.32,245.26 164.66,245.86 165.00,246.46 165.34,247.05 165.68,247.65 166.02,248.25 166.36,248.85 166.70,249.45 167.04,250.05 167.38,250.65 167.71,251.25 168.05,251.85 168.39,252.45 168.73,253.05 169.07,253.64 169.41,254.24 169.75,254.84 170.09,255.43 170.43,256.03 170.77,256.62 171.11,257.21 171.45,257.80 171.79,258.39 172.13,258.98 172.47,259.56 172.81,260.14 173.15,260.72 173.49,261.30 173.83,261.88 174.17,262.45 174.51,263.02 174.85,263.58 175.19,264.15 175.53,264.71 175.87,265.26 176.21,265.82 176.55,266.36 176.88,266.91 177.22,267.45 177.56,267.99 177.90,268.52 178.24,269.05 178.58,269.57 178.92,270.09 179.26,270.61 179.60,271.12 179.94,271.62 180.28,272.12 180.62,272.62 180.96,273.11 181.30,273.59 181.64,274.07 181.98,274.54 182.32,275.01 182.66,275.47 183.00,275.93 183.34,276.38 183.68,276.82 184.02,277.26 184.36,277.69 184.70,278.11 185.04,278.53 185.38,278.94 185.72,279.34 186.05,279.74 186.39,280.13 186.73,280.51 187.07,280.88 187.41,281.25 187.75,281.61 188.09,281.96 188.43,282.31 188.77,282.65 189.11,282.98 189.45,283.30 189.79,283.61 190.13,283.92 190.47,284.22 190.81,284.51 191.15,284.79 191.49,285.06 191.83,285.33 192.17,285.59 192.51,285.83 192.85,286.07 193.19,286.31 193.53,286.53 193.87,286.74 194.21,286.95 194.55,287.15 194.88,287.33 195.22,287.51 195.56,287.68 195.90,287.84 196.24,288.00 196.58,288.14 196.92,288.27 197.26,288.40 197.60,288.51 197.94,288.62 198.28,288.72 198.62,288.81 198.96,288.89 199.30,288.96" fill="none" stroke="#22229a" stroke-width="1.6" stroke-linejoin="round" style="mix-blend-mode:multiply"/>
<polyline points="63.45,288.25 63.79,288.26 64.13,288.27 64.47,288.26 64.81,288.25 65.15,288.22 65.49,288.19 65.83,288.15 66.17,288.10 66.51,288.03 66.85,287.96 67.19,287.88 67.53,287.79 67.87,287.69 68.20,287.58 68.54,287.46 68.88,287.33 69.22,287.19 69.56,287.04 69.90,286.89 70.24,286.72 70.58,286.54 70.92,286.36 71.26,286.17 71.60,285.96 71.94,285.75 72.28,285.53 72.62,285.30 72.96,285.06 73.30,284.81 73.64,284.55 73.98,284.29 74.32,284.01 74.66,283.73 75.00,283.44 75.34,283.14 75.68,282.83 76.02,282.52 76.36,282.19 76.70,281.86 77.03,281.52 77.37,281.17 77.71,280.81 78.05,280.44 78.39,280.07 78.73,279.69 79.07,279.30 79.41,278.91 79.75,278.51 80.09,278.10 80.43,277.68 80.77,277.25 81.11,276.82 81.45,276.38 81.79,275.94 82.13,275.49 82.47,275.03 82.81,274.56 83.15,274.09 83.49,273.62 83.83,273.13 84.17,272.64 84.51,272.15 84.85,271.65 85.19,271.14 85.53,270.63 85.87,270.11 86.20,269.59 86.54,269.06 86.88,268.53 87.22,267.99 87.56,267.45 87.90,266.90 88.24,266.35 88.58,265.79 88.92,265.23 89.26,264.67 89.60,264.10 89.94,263.52 90.28,262.95 90.62,262.37 90.96,261.79 91.30,261.20 91.64,260.61 91.98,260.02 92.32,259.42 92.66,258.83 93.00,258.23 93.34,257.62 93.68,257.02 94.02,256.41 94.36,255.80 94.70,255.19 95.04,254.58 95.37,253.96 95.71,253.35 96.05,252.73 96.39,252.11 96.73,251.49 97.07,250.87 97.41,250.25 97.75,249.63 98.09,249.01 98.43,248.39 98.77,247.77 99.11,247.15 99.45,246.53 99.79,245.91 100.13,245.29 100.47,244.67 100.81,244.05 101.15,243.43 101.49,242.82 101.83,242.20 102.17,241.59 102.51,240.98 102.85,240.37 103.19,239.76 103.53,239.15 103.87,238.55 104.21,237.95 104.54,237.35 104.88,236.75 105.22,236.16 105.56,235.56 105.90,234.98 106.24,234.39 106.58,233.81 106.92,233.23 107.26,232.66 107.60,232.09 107.94,231.52 108.28,230.96 108.62,230.40 108.96,229.85 109.30,229.30 109.64,228.75 109.98,228.21 110.32,227.67 110.66,227.14 111.00,226.62 111.34,226.10 111.68,225.58 112.02,225.07 112.36,224.57 112.70,224.07 113.04,223.58 113.37,223.09 113.71,222.61 114.05,222.14 114.39,221.67 114.73,221.20 115.07,220.75 115.41,220.30 115.75,219.86 116.09,219.42 116.43,219.00 116.77,218.57 117.11,218.16 117.45,217.75 117.79,217.35 118.13,216.96 118.47,216.58 118.81,216.20 119.15,215.83 119.49,215.47 119.83,215.12 120.17,214.77 120.51,214.43 120.85,214.10 121.19,213.78 121.53,213.47 121.87,213.16 122.21,212.87 122.54,212.58 122.88,212.30 123.22,212.03 123.56,211.77 123.90,211.52 124.24,211.27 124.58,211.04 124.92,210.81 125.26,210.59 125.60,210.38 125.94,210.19 126.28,210.00 126.62,209.82 126.96,209.64 127.30,209.48 127.64,209.33 127.98,209.18 128.32,209.05 128.66,208.93 129.00,208.81 129.34,208.70 129.68,208.61 130.02,208.52 130.36,208.44 130.70,208.38 131.04,208.32 131.38,208.27 131.71,208.23 132.05,208.20 132.39,208.18 132.73,208.17 133.07,208.17 133.41,208.18 133.75,208.20 134.09,208.23 134.43,208.27 134.77,208.32 135.11,208.37 135.45,208.44 135.79,208.52 136.13,208.60 136.47,208.70 136.81,208.80 137.15,208.92 137.49,209.04 137.83,209.18 138.17,209.32 138.51,209.47 138.85,209.63 139.19,209.81 139.53,209.99 139.87,210.17 140.21,210.37 140.54,210.58 140.88,210.80 141.22,211.02 141.56,211.26 141.90,211.50 142.24,211.75 142.58,212.02 142.92,212.29 143.26,212.56 143.60,212.85 143.94,213.15 144.28,213.45 144.62,213.76 144.96,214.08 145.30,214.41 145.64,214.75 145.98,215.10 146.32,215.45 146.66,215.81 147.00,216.18 147.34,216.56 147.68,216.94 148.02,217.33 148.36,217.73 148.70,218.14 149.04,218.55 149.38,218.97 149.71,219.40 150.05,219.83 150.39,220.28 150.73,220.72 151.07,221.18 151.41,221.64 151.75,222.11 152.09,222.58 152.43,223.06 152.77,223.55 153.11,224.04 153.45,224.54 153.79,225.04 154.13,225.55 154.47,226.07 154.81,226.59 155.15,227.11 155.49,227.64 155.83,228.18 156.17,228.72 156.51,229.27 156.85,229.82 157.19,230.37 157.53,230.93 157.87,231.49 158.21,232.06 158.55,232.63 158.88,233.20 159.22,233.78 159.56,234.36 159.90,234.94 160.24,235.53 160.58,236.12 160.92,236.72 161.26,237.31 161.60,237.91 161.94,238.51 162.28,239.12 162.62,239.72 162.96,240.33 163.30,240.94 163.64,241.55 163.98,242.17 164.32,242.78 164.66,243.40 165.00,244.02 165.34,244.63 165.68,245.25 166.02,245.87 166.36,246.49 166.70,247.11 167.04,247.74 167.38,248.36 167.71,248.98 168.05,249.60 168.39,250.22 168.73,250.84 169.07,251.46 169.41,252.08 169.75,252.70 170.09,253.31 170.43,253.93 170.77,254.54 171.11,255.16 171.45,255.77 171.79,256.38 172.13,256.98 172.47,257.59 172.81,258.19 173.15,258.79 173.49,259.39 173.83,259.99 174.17,260.58 174.51,261.17 174.85,261.75 175.19,262.34 175.53,262.92 175.87,263.49 176.21,264.07 176.55,264.63 176.88,265.20 177.22,265.76 177.56,266.32 177.90,266.87 178.24,267.42 178.58,267.96 178.92,268.50 179.26,269.03 179.60,269.56 179.94,270.08 180.28,270.60 180.62,271.11 180.96,271.62 181.30,272.12 181.64,272.62 181.98,273.11 182.32,273.59 182.66,274.07 183.00,274.54 183.34,275.00 183.68,275.46 184.02,275.91 184.36,276.36 184.70,276.80 185.04,277.23 185.38,277.65 185.72,278.07 186.05,278.48 186.39,278.89 186.73,279.28 187.07,279.67 187.41,280.05 187.75,280.42 188.09,280.79 188.43,281.15 188.77,281.50 189.11,281.84 189.45,282.17 189.79,282.50 190.13,282.81 190.47,283.12 190.81,283.42 191.15,283.72 191.49,284.00 191.83,284.27 192.17,284.54 192.51,284.80 192.85,285.05 193.19,285.29 193.53,285.52 193.87,285.74 194.21,285.95 194.55,286.15 194.88,286.35 195.22,286.53 195.56,286.71 195.90,286.88 196.24,287.04 196.58,287.18 196.92,287.32 197.26,287.45 197.60,287.57 197.94,287.68 198.28,287.78 198.62,287.88 198.96,287.96 199.30,288.03" fill="none" stroke="#b81e2a" stroke-width="1.6" stroke-linejoin="round" opacity="0.4"/>
<path d="M63.45,204.50V296.30H201.00" fill="none" stroke="#000" stroke-width="1.4"/>
<path d="M60.85,296.30H63.45" stroke="#000" stroke-width="1.4"/>
<text x="59.05" y="300.60" class="tk" text-anchor="end">0</text>
<path d="M60.85,284.82H63.45" stroke="#000" stroke-width="1.4"/>
<text x="59.05" y="289.12" class="tk" text-anchor="end">1</text>
<path d="M60.85,273.35H63.45" stroke="#000" stroke-width="1.4"/>
<text x="59.05" y="277.65" class="tk" text-anchor="end">2</text>
<path d="M60.85,261.88H63.45" stroke="#000" stroke-width="1.4"/>
<text x="59.05" y="266.18" class="tk" text-anchor="end">3</text>
<path d="M60.85,250.40H63.45" stroke="#000" stroke-width="1.4"/>
<text x="59.05" y="254.70" class="tk" text-anchor="end">4</text>
<path d="M60.85,238.93H63.45" stroke="#000" stroke-width="1.4"/>
<text x="59.05" y="243.23" class="tk" text-anchor="end">5</text>
<path d="M60.85,227.45H63.45" stroke="#000" stroke-width="1.4"/>
<text x="59.05" y="231.75" class="tk" text-anchor="end">6</text>
<path d="M60.85,215.97H63.45" stroke="#000" stroke-width="1.4"/>
<text x="59.05" y="220.28" class="tk" text-anchor="end">7</text>
<path d="M60.85,204.50H63.45" stroke="#000" stroke-width="1.4"/>
<text x="59.05" y="208.80" class="tk" text-anchor="end">8</text>
<path d="M63.45,296.30V298.90" stroke="#000" stroke-width="1.4"/>
<text x="63.45" y="311.20" class="tk" text-anchor="middle">0.0</text>
<path d="M90.96,296.30V298.90" stroke="#000" stroke-width="1.4"/>
<text x="90.96" y="311.20" class="tk" text-anchor="middle">0.4</text>
<path d="M118.47,296.30V298.90" stroke="#000" stroke-width="1.4"/>
<text x="118.47" y="311.20" class="tk" text-anchor="middle">0.8</text>
<path d="M145.98,296.30V298.90" stroke="#000" stroke-width="1.4"/>
<text x="145.98" y="311.20" class="tk" text-anchor="middle">1.2</text>
<path d="M173.49,296.30V298.90" stroke="#000" stroke-width="1.4"/>
<text x="173.49" y="311.20" class="tk" text-anchor="middle">1.6</text>
<path d="M201.00,296.30V298.90" stroke="#000" stroke-width="1.4"/>
<text x="201.00" y="311.20" class="tk" text-anchor="middle">2.0</text>
<text x="34.90" y="192.20" class="lb">d)</text>
<text x="0" y="0" class="ax" text-anchor="middle" transform="translate(37.0,250.50) rotate(-90)">Strain (%)</text>
<text x="132.23" y="330.6" class="ax" text-anchor="middle">Time (s)</text>
<polyline points="228.10,286.28 228.44,286.26 228.78,286.20 229.12,286.10 229.46,285.96 229.80,285.79 230.14,285.57 230.48,285.31 230.82,285.02 231.16,284.69 231.50,284.32 231.84,283.91 232.18,283.46 232.52,282.98 232.86,282.46 233.20,281.91 233.54,281.32 233.88,280.69 234.22,280.03 234.56,279.34 234.90,278.62 235.24,277.86 235.58,277.07 235.92,276.25 236.26,275.40 236.60,274.52 236.94,273.62 237.28,272.68 237.62,271.72 237.96,270.74 238.30,269.73 238.64,268.70 238.98,267.64 239.32,266.56 239.66,265.47 240.00,264.35 240.34,263.21 240.68,262.06 241.02,260.89 241.36,259.71 241.70,258.51 242.04,257.30 242.38,256.08 242.72,254.85 243.06,253.61 243.40,252.36 243.74,251.11 244.08,249.85 244.42,248.58 244.76,247.32 245.10,246.05 245.44,244.78 245.78,243.51 246.12,242.24 246.46,240.98 246.80,239.72 247.14,238.47 247.48,237.22 247.82,235.99 248.16,234.76 248.50,233.54 248.84,232.33 249.18,231.14 249.52,229.96 249.86,228.80 250.20,227.65 250.54,226.52 250.88,225.41 251.22,224.31 251.56,223.24 251.90,222.19 252.24,221.16 252.58,220.16 252.92,219.18 253.26,218.23 253.60,217.30 253.94,216.40 254.28,215.53 254.62,214.69 254.96,213.88 255.30,213.10 255.64,212.35 255.98,211.64 256.32,210.95 256.66,210.30 257.00,209.69 257.34,209.11 257.68,208.56 258.02,208.05 258.36,207.58 258.70,207.14 259.04,206.75 259.38,206.38 259.72,206.06 260.06,205.78 260.40,205.53 260.74,205.33 261.08,205.16 261.42,205.03 261.76,204.94 262.10,204.89 262.44,204.89 262.78,204.92 263.12,204.99 263.46,205.09 263.80,205.24 264.14,205.43 264.48,205.66 264.82,205.92 265.16,206.23 265.50,206.57 265.84,206.95 266.18,207.37 266.52,207.82 266.86,208.32 267.20,208.85 267.54,209.41 267.88,210.01 268.22,210.64 268.56,211.31 268.90,212.01 269.24,212.74 269.58,213.51 269.92,214.31 270.26,215.13 270.60,215.99 270.94,216.88 271.28,217.79 271.62,218.73 271.96,219.70 272.30,220.69 272.64,221.71 272.98,222.74 273.32,223.81 273.66,224.89 274.00,225.99 274.34,227.11 274.68,228.25 275.02,229.41 275.36,230.58 275.70,231.77 276.04,232.97 276.38,234.18 276.72,235.41 277.06,236.64 277.40,237.88 277.74,239.13 278.08,240.39 278.42,241.65 278.76,242.91 279.10,244.18 279.44,245.45 279.78,246.72 280.12,247.99 280.46,249.25 280.80,250.52 281.14,251.77 281.48,253.02 281.82,254.27 282.16,255.50 282.50,256.73 282.84,257.95 283.18,259.15 283.52,260.34 283.86,261.51 284.20,262.67 284.54,263.82 284.88,264.94 285.22,266.05 285.56,267.14 285.90,268.20 286.24,269.25 286.58,270.27 286.92,271.26 287.26,272.24 287.60,273.18 287.94,274.10 288.28,274.99 288.62,275.86 288.96,276.69 289.30,277.49 289.64,278.26 289.98,279.00 290.32,279.71 290.66,280.39 291.00,281.03 291.34,281.63 291.68,282.21 292.02,282.74 292.36,283.24 292.70,283.70 293.04,284.13 293.38,284.52 293.72,284.87 294.06,285.18 294.40,285.45 294.74,285.69 295.08,285.89 295.42,286.04 295.76,286.16 296.10,286.24 296.44,286.28 296.78,286.27 297.12,286.23 297.46,286.15 297.80,286.03 298.14,285.87 298.48,285.68 298.82,285.44 299.16,285.16 299.50,284.85 299.84,284.50 300.18,284.11 300.52,283.68 300.86,283.21 301.20,282.71 301.54,282.17 301.88,281.60 302.22,280.99 302.56,280.35 302.90,279.67 303.24,278.96 303.58,278.22 303.92,277.45 304.26,276.64 304.60,275.81 304.94,274.94 305.28,274.05 305.62,273.13 305.96,272.18 306.30,271.21 306.64,270.21 306.98,269.19 307.32,268.14 307.66,267.07 308.00,265.98 308.34,264.88 308.68,263.75 309.02,262.61 309.36,261.44 309.70,260.27 310.04,259.08 310.38,257.87 310.72,256.66 311.06,255.43 311.40,254.20 311.74,252.95 312.08,251.70 312.42,250.44 312.76,249.18 313.10,247.91 313.44,246.65 313.78,245.38 314.12,244.11 314.46,242.84 314.80,241.58 315.14,240.31 315.48,239.06 315.82,237.81 316.16,236.57 316.50,235.33 316.84,234.11 317.18,232.90 317.52,231.70 317.86,230.51 318.20,229.34 318.54,228.19 318.88,227.05 319.22,225.93 319.56,224.82 319.90,223.74 320.24,222.68 320.58,221.65 320.92,220.63 321.26,219.64 321.60,218.67 321.94,217.74 322.28,216.82 322.62,215.94 322.96,215.08 323.30,214.26 323.64,213.46 323.98,212.70 324.32,211.97 324.66,211.27 325.00,210.60 325.34,209.97 325.68,209.38 326.02,208.81 326.36,208.29 326.70,207.80 327.04,207.34 327.38,206.93 327.72,206.55 328.06,206.21 328.40,205.91 328.74,205.64 329.08,205.42 329.42,205.23 329.76,205.09 330.10,204.98 330.44,204.91 330.78,204.88 331.12,204.90 331.46,204.95 331.80,205.04 332.14,205.17 332.48,205.34 332.82,205.55 333.16,205.79 333.50,206.08 333.84,206.41 334.18,206.77 334.52,207.17 334.86,207.61 335.20,208.08 335.54,208.59 335.88,209.14 336.22,209.72 336.56,210.34 336.90,210.99 337.24,211.68 337.58,212.40 337.92,213.15 338.26,213.93 338.60,214.74 338.94,215.58 339.28,216.46 339.62,217.36 339.96,218.29 340.30,219.24 340.64,220.22 340.98,221.22 341.32,222.25 341.66,223.30 342.00,224.38 342.34,225.47 342.68,226.58 343.02,227.72 343.36,228.86 343.70,230.03 344.04,231.21 344.38,232.40 344.72,233.61 345.06,234.83 345.40,236.06 345.74,237.30 346.08,238.54 346.42,239.80 346.76,241.06 347.10,242.32 347.44,243.59 347.78,244.85 348.12,246.12 348.46,247.39 348.80,248.66 349.14,249.92 349.48,251.18 349.82,252.44 350.16,253.68 350.50,254.92 350.84,256.15 351.18,257.37 351.52,258.58 351.86,259.78 352.20,260.96 352.54,262.13 352.88,263.28 353.22,264.42 353.56,265.53 353.90,266.63 354.24,267.70 354.58,268.76 354.92,269.79 355.26,270.80 355.60,271.78 355.94,272.74 356.28,273.67 356.62,274.58 356.96,275.45 357.30,276.30 357.64,277.12 357.98,277.90 358.32,278.66 358.66,279.38 359.00,280.07 359.34,280.73 359.68,281.35 360.02,281.94 360.36,282.49 360.70,283.01 361.04,283.49 361.38,283.93 361.72,284.34 362.06,284.71 362.40,285.04 362.74,285.33 363.08,285.58 363.42,285.80 363.76,285.97 364.10,286.11" fill="none" stroke="#1a6a30" stroke-width="1.6" stroke-linejoin="round" style="mix-blend-mode:multiply"/>
<polyline points="228.10,286.62 228.44,286.60 228.78,286.55 229.12,286.45 229.46,286.32 229.80,286.15 230.14,285.94 230.48,285.69 230.82,285.41 231.16,285.09 231.50,284.73 231.84,284.33 232.18,283.90 232.52,283.44 232.86,282.94 233.20,282.40 233.54,281.83 233.88,281.23 234.22,280.59 234.56,279.93 234.90,279.23 235.24,278.50 235.58,277.74 235.92,276.94 236.26,276.13 236.60,275.28 236.94,274.40 237.28,273.50 237.62,272.58 237.96,271.63 238.30,270.65 238.64,269.65 238.98,268.64 239.32,267.60 239.66,266.54 240.00,265.46 240.34,264.36 240.68,263.25 241.02,262.12 241.36,260.98 241.70,259.83 242.04,258.66 242.38,257.48 242.72,256.29 243.06,255.10 243.40,253.89 243.74,252.68 244.08,251.47 244.42,250.25 244.76,249.02 245.10,247.80 245.44,246.57 245.78,245.35 246.12,244.13 246.46,242.91 246.80,241.70 247.14,240.49 247.48,239.28 247.82,238.09 248.16,236.90 248.50,235.73 248.84,234.56 249.18,233.41 249.52,232.27 249.86,231.15 250.20,230.04 250.54,228.95 250.88,227.88 251.22,226.83 251.56,225.79 251.90,224.78 252.24,223.79 252.58,222.82 252.92,221.87 253.26,220.95 253.60,220.06 253.94,219.19 254.28,218.35 254.62,217.54 254.96,216.76 255.30,216.01 255.64,215.28 255.98,214.59 256.32,213.93 256.66,213.30 257.00,212.71 257.34,212.15 257.68,211.62 258.02,211.13 258.36,210.68 258.70,210.26 259.04,209.87 259.38,209.52 259.72,209.21 260.06,208.94 260.40,208.70 260.74,208.50 261.08,208.34 261.42,208.22 261.76,208.13 262.10,208.09 262.44,208.08 262.78,208.11 263.12,208.17 263.46,208.28 263.80,208.42 264.14,208.60 264.48,208.82 264.82,209.08 265.16,209.37 265.50,209.70 265.84,210.07 266.18,210.47 266.52,210.91 266.86,211.39 267.20,211.90 267.54,212.44 267.88,213.02 268.22,213.63 268.56,214.28 268.90,214.95 269.24,215.66 269.58,216.40 269.92,217.17 270.26,217.97 270.60,218.79 270.94,219.65 271.28,220.53 271.62,221.44 271.96,222.37 272.30,223.33 272.64,224.31 272.98,225.31 273.32,226.34 273.66,227.38 274.00,228.44 274.34,229.53 274.68,230.63 275.02,231.74 275.36,232.87 275.70,234.02 276.04,235.18 276.38,236.35 276.72,237.53 277.06,238.72 277.40,239.92 277.74,241.13 278.08,242.34 278.42,243.55 278.76,244.78 279.10,246.00 279.44,247.22 279.78,248.45 280.12,249.67 280.46,250.89 280.80,252.11 281.14,253.32 281.48,254.53 281.82,255.73 282.16,256.92 282.50,258.11 282.84,259.28 283.18,260.44 283.52,261.59 283.86,262.72 284.20,263.84 284.54,264.95 284.88,266.03 285.22,267.10 285.56,268.15 285.90,269.18 286.24,270.18 286.58,271.17 286.92,272.13 287.26,273.07 287.60,273.98 287.94,274.87 288.28,275.73 288.62,276.56 288.96,277.37 289.30,278.14 289.64,278.89 289.98,279.60 290.32,280.28 290.66,280.94 291.00,281.55 291.34,282.14 291.68,282.69 292.02,283.21 292.36,283.69 292.70,284.14 293.04,284.55 293.38,284.92 293.72,285.26 294.06,285.56 294.40,285.83 294.74,286.05 295.08,286.24 295.42,286.39 295.76,286.51 296.10,286.58 296.44,286.62 296.78,286.62 297.12,286.58 297.46,286.50 297.80,286.38 298.14,286.23 298.48,286.04 298.82,285.81 299.16,285.54 299.50,285.24 299.84,284.90 300.18,284.52 300.52,284.11 300.86,283.66 301.20,283.18 301.54,282.66 301.88,282.11 302.22,281.52 302.56,280.90 302.90,280.25 303.24,279.56 303.58,278.84 303.92,278.10 304.26,277.32 304.60,276.51 304.94,275.68 305.28,274.82 305.62,273.93 305.96,273.02 306.30,272.08 306.64,271.11 306.98,270.13 307.32,269.12 307.66,268.09 308.00,267.04 308.34,265.97 308.68,264.88 309.02,263.78 309.36,262.66 309.70,261.52 310.04,260.37 310.38,259.21 310.72,258.04 311.06,256.85 311.40,255.66 311.74,254.46 312.08,253.25 312.42,252.04 312.76,250.82 313.10,249.60 313.44,248.38 313.78,247.15 314.12,245.93 314.46,244.70 314.80,243.48 315.14,242.27 315.48,241.05 315.82,239.85 316.16,238.65 316.50,237.46 316.84,236.28 317.18,235.11 317.52,233.95 317.86,232.81 318.20,231.68 318.54,230.56 318.88,229.46 319.22,228.38 319.56,227.32 319.90,226.28 320.24,225.25 320.58,224.25 320.92,223.27 321.26,222.32 321.60,221.38 321.94,220.48 322.28,219.60 322.62,218.74 322.96,217.92 323.30,217.12 323.64,216.36 323.98,215.62 324.32,214.91 324.66,214.24 325.00,213.60 325.34,212.99 325.68,212.41 326.02,211.87 326.36,211.36 326.70,210.89 327.04,210.45 327.38,210.05 327.72,209.68 328.06,209.36 328.40,209.06 328.74,208.81 329.08,208.59 329.42,208.41 329.76,208.27 330.10,208.17 330.44,208.10 330.78,208.08 331.12,208.09 331.46,208.14 331.80,208.23 332.14,208.35 332.48,208.51 332.82,208.72 333.16,208.95 333.50,209.23 333.84,209.54 334.18,209.89 334.52,210.28 334.86,210.70 335.20,211.16 335.54,211.65 335.88,212.18 336.22,212.74 336.56,213.34 336.90,213.97 337.24,214.63 337.58,215.32 337.92,216.05 338.26,216.80 338.60,217.59 338.94,218.40 339.28,219.24 339.62,220.11 339.96,221.01 340.30,221.93 340.64,222.87 340.98,223.84 341.32,224.84 341.66,225.85 342.00,226.89 342.34,227.94 342.68,229.02 343.02,230.11 343.36,231.22 343.70,232.34 344.04,233.48 344.38,234.63 344.72,235.80 345.06,236.97 345.40,238.16 345.74,239.35 346.08,240.56 346.42,241.77 346.76,242.98 347.10,244.20 347.44,245.42 347.78,246.65 348.12,247.87 348.46,249.10 348.80,250.32 349.14,251.54 349.48,252.75 349.82,253.96 350.16,255.17 350.50,256.36 350.84,257.55 351.18,258.73 351.52,259.90 351.86,261.05 352.20,262.19 352.54,263.32 352.88,264.43 353.22,265.52 353.56,266.60 353.90,267.66 354.24,268.70 354.58,269.71 354.92,270.71 355.26,271.68 355.60,272.63 355.94,273.56 356.28,274.46 356.62,275.33 356.96,276.17 357.30,276.99 357.64,277.78 357.98,278.54 358.32,279.27 358.66,279.97 359.00,280.63 359.34,281.27 359.68,281.87 360.02,282.44 360.36,282.97 360.70,283.47 361.04,283.93 361.38,284.36 361.72,284.75 362.06,285.11 362.40,285.42 362.74,285.71 363.08,285.95 363.42,286.16 363.76,286.33 364.10,286.46" fill="none" stroke="#b81e2a" stroke-width="1.6" stroke-linejoin="round" style="mix-blend-mode:multiply"/>
<polyline points="228.10,287.19 228.44,287.17 228.78,287.12 229.12,287.03 229.46,286.90 229.80,286.73 230.14,286.53 230.48,286.30 230.82,286.02 231.16,285.71 231.50,285.37 231.84,284.99 232.18,284.58 232.52,284.13 232.86,283.65 233.20,283.13 233.54,282.58 233.88,282.00 234.22,281.39 234.56,280.75 234.90,280.08 235.24,279.37 235.58,278.64 235.92,277.88 236.26,277.09 236.60,276.28 236.94,275.43 237.28,274.57 237.62,273.68 237.96,272.76 238.30,271.82 238.64,270.86 238.98,269.88 239.32,268.88 239.66,267.86 240.00,266.83 240.34,265.77 240.68,264.70 241.02,263.62 241.36,262.52 241.70,261.41 242.04,260.29 242.38,259.15 242.72,258.01 243.06,256.86 243.40,255.70 243.74,254.53 244.08,253.36 244.42,252.19 244.76,251.01 245.10,249.83 245.44,248.66 245.78,247.48 246.12,246.30 246.46,245.13 246.80,243.96 247.14,242.80 247.48,241.64 247.82,240.49 248.16,239.35 248.50,238.22 248.84,237.10 249.18,235.99 249.52,234.89 249.86,233.81 250.20,232.75 250.54,231.70 250.88,230.67 251.22,229.65 251.56,228.66 251.90,227.68 252.24,226.73 252.58,225.80 252.92,224.89 253.26,224.00 253.60,223.14 253.94,222.31 254.28,221.50 254.62,220.72 254.96,219.96 255.30,219.24 255.64,218.54 255.98,217.88 256.32,217.24 256.66,216.64 257.00,216.07 257.34,215.53 257.68,215.02 258.02,214.55 258.36,214.11 258.70,213.71 259.04,213.34 259.38,213.00 259.72,212.70 260.06,212.44 260.40,212.21 260.74,212.02 261.08,211.87 261.42,211.75 261.76,211.67 262.10,211.62 262.44,211.61 262.78,211.64 263.12,211.70 263.46,211.81 263.80,211.94 264.14,212.12 264.48,212.33 264.82,212.58 265.16,212.86 265.50,213.18 265.84,213.53 266.18,213.92 266.52,214.34 266.86,214.80 267.20,215.29 267.54,215.81 267.88,216.37 268.22,216.96 268.56,217.58 268.90,218.23 269.24,218.91 269.58,219.62 269.92,220.36 270.26,221.13 270.60,221.92 270.94,222.75 271.28,223.59 271.62,224.47 271.96,225.37 272.30,226.29 272.64,227.23 272.98,228.20 273.32,229.18 273.66,230.19 274.00,231.21 274.34,232.25 274.68,233.31 275.02,234.38 275.36,235.47 275.70,236.58 276.04,237.69 276.38,238.82 276.72,239.95 277.06,241.10 277.40,242.25 277.74,243.41 278.08,244.58 278.42,245.75 278.76,246.92 279.10,248.10 279.44,249.28 279.78,250.46 280.12,251.64 280.46,252.81 280.80,253.98 281.14,255.15 281.48,256.31 281.82,257.47 282.16,258.61 282.50,259.75 282.84,260.88 283.18,262.00 283.52,263.10 283.86,264.19 284.20,265.27 284.54,266.33 284.88,267.38 285.22,268.41 285.56,269.42 285.90,270.41 286.24,271.37 286.58,272.32 286.92,273.25 287.26,274.15 287.60,275.03 287.94,275.88 288.28,276.71 288.62,277.51 288.96,278.29 289.30,279.03 289.64,279.75 289.98,280.44 290.32,281.09 290.66,281.72 291.00,282.32 291.34,282.88 291.68,283.41 292.02,283.91 292.36,284.37 292.70,284.80 293.04,285.20 293.38,285.56 293.72,285.88 294.06,286.17 294.40,286.43 294.74,286.64 295.08,286.83 295.42,286.97 295.76,287.08 296.10,287.15 296.44,287.19 296.78,287.19 297.12,287.15 297.46,287.07 297.80,286.96 298.14,286.82 298.48,286.63 298.82,286.41 299.16,286.15 299.50,285.86 299.84,285.54 300.18,285.17 300.52,284.78 300.86,284.34 301.20,283.88 301.54,283.38 301.88,282.85 302.22,282.28 302.56,281.68 302.90,281.06 303.24,280.40 303.58,279.71 303.92,278.99 304.26,278.24 304.60,277.47 304.94,276.66 305.28,275.83 305.62,274.98 305.96,274.10 306.30,273.19 306.64,272.27 306.98,271.32 307.32,270.35 307.66,269.36 308.00,268.35 308.34,267.32 308.68,266.27 309.02,265.21 309.36,264.13 309.70,263.04 310.04,261.93 310.38,260.82 310.72,259.69 311.06,258.55 311.40,257.40 311.74,256.24 312.08,255.08 312.42,253.91 312.76,252.74 313.10,251.57 313.44,250.39 313.78,249.21 314.12,248.03 314.46,246.86 314.80,245.68 315.14,244.51 315.48,243.34 315.82,242.18 316.16,241.03 316.50,239.89 316.84,238.75 317.18,237.62 317.52,236.51 317.86,235.41 318.20,234.32 318.54,233.25 318.88,232.19 319.22,231.15 319.56,230.13 319.90,229.12 320.24,228.14 320.58,227.17 320.92,226.23 321.26,225.31 321.60,224.42 321.94,223.54 322.28,222.70 322.62,221.88 322.96,221.08 323.30,220.32 323.64,219.58 323.98,218.87 324.32,218.19 324.66,217.54 325.00,216.92 325.34,216.33 325.68,215.78 326.02,215.26 326.36,214.77 326.70,214.32 327.04,213.89 327.38,213.51 327.72,213.16 328.06,212.84 328.40,212.56 328.74,212.32 329.08,212.11 329.42,211.93 329.76,211.80 330.10,211.70 330.44,211.64 330.78,211.61 331.12,211.62 331.46,211.67 331.80,211.75 332.14,211.87 332.48,212.03 332.82,212.23 333.16,212.46 333.50,212.72 333.84,213.02 334.18,213.36 334.52,213.73 334.86,214.14 335.20,214.58 335.54,215.05 335.88,215.56 336.22,216.10 336.56,216.68 336.90,217.28 337.24,217.92 337.58,218.58 337.92,219.28 338.26,220.01 338.60,220.76 338.94,221.55 339.28,222.36 339.62,223.19 339.96,224.05 340.30,224.94 340.64,225.85 340.98,226.78 341.32,227.74 341.66,228.71 342.00,229.71 342.34,230.73 342.68,231.76 343.02,232.81 343.36,233.88 343.70,234.96 344.04,236.05 344.38,237.16 344.72,238.28 345.06,239.42 345.40,240.56 345.74,241.71 346.08,242.87 346.42,244.03 346.76,245.20 347.10,246.37 347.44,247.55 347.78,248.73 348.12,249.90 348.46,251.08 348.80,252.26 349.14,253.43 349.48,254.60 349.82,255.77 350.16,256.92 350.50,258.08 350.84,259.22 351.18,260.35 351.52,261.47 351.86,262.58 352.20,263.68 352.54,264.77 352.88,265.84 353.22,266.89 353.56,267.93 353.90,268.94 354.24,269.94 354.58,270.92 354.92,271.88 355.26,272.82 355.60,273.73 355.94,274.62 356.28,275.48 356.62,276.32 356.96,277.14 357.30,277.93 357.64,278.68 357.98,279.42 358.32,280.12 358.66,280.79 359.00,281.43 359.34,282.04 359.68,282.62 360.02,283.16 360.36,283.68 360.70,284.16 361.04,284.60 361.38,285.01 361.72,285.39 362.06,285.73 362.40,286.04 362.74,286.31 363.08,286.55 363.42,286.74 363.76,286.91 364.10,287.03" fill="none" stroke="#22229a" stroke-width="1.6" stroke-linejoin="round" style="mix-blend-mode:multiply"/>
<polyline points="228.10,286.62 228.44,286.60 228.78,286.55 229.12,286.45 229.46,286.32 229.80,286.15 230.14,285.94 230.48,285.69 230.82,285.41 231.16,285.09 231.50,284.73 231.84,284.33 232.18,283.90 232.52,283.44 232.86,282.94 233.20,282.40 233.54,281.83 233.88,281.23 234.22,280.59 234.56,279.93 234.90,279.23 235.24,278.50 235.58,277.74 235.92,276.94 236.26,276.13 236.60,275.28 236.94,274.40 237.28,273.50 237.62,272.58 237.96,271.63 238.30,270.65 238.64,269.65 238.98,268.64 239.32,267.60 239.66,266.54 240.00,265.46 240.34,264.36 240.68,263.25 241.02,262.12 241.36,260.98 241.70,259.83 242.04,258.66 242.38,257.48 242.72,256.29 243.06,255.10 243.40,253.89 243.74,252.68 244.08,251.47 244.42,250.25 244.76,249.02 245.10,247.80 245.44,246.57 245.78,245.35 246.12,244.13 246.46,242.91 246.80,241.70 247.14,240.49 247.48,239.28 247.82,238.09 248.16,236.90 248.50,235.73 248.84,234.56 249.18,233.41 249.52,232.27 249.86,231.15 250.20,230.04 250.54,228.95 250.88,227.88 251.22,226.83 251.56,225.79 251.90,224.78 252.24,223.79 252.58,222.82 252.92,221.87 253.26,220.95 253.60,220.06 253.94,219.19 254.28,218.35 254.62,217.54 254.96,216.76 255.30,216.01 255.64,215.28 255.98,214.59 256.32,213.93 256.66,213.30 257.00,212.71 257.34,212.15 257.68,211.62 258.02,211.13 258.36,210.68 258.70,210.26 259.04,209.87 259.38,209.52 259.72,209.21 260.06,208.94 260.40,208.70 260.74,208.50 261.08,208.34 261.42,208.22 261.76,208.13 262.10,208.09 262.44,208.08 262.78,208.11 263.12,208.17 263.46,208.28 263.80,208.42 264.14,208.60 264.48,208.82 264.82,209.08 265.16,209.37 265.50,209.70 265.84,210.07 266.18,210.47 266.52,210.91 266.86,211.39 267.20,211.90 267.54,212.44 267.88,213.02 268.22,213.63 268.56,214.28 268.90,214.95 269.24,215.66 269.58,216.40 269.92,217.17 270.26,217.97 270.60,218.79 270.94,219.65 271.28,220.53 271.62,221.44 271.96,222.37 272.30,223.33 272.64,224.31 272.98,225.31 273.32,226.34 273.66,227.38 274.00,228.44 274.34,229.53 274.68,230.63 275.02,231.74 275.36,232.87 275.70,234.02 276.04,235.18 276.38,236.35 276.72,237.53 277.06,238.72 277.40,239.92 277.74,241.13 278.08,242.34 278.42,243.55 278.76,244.78 279.10,246.00 279.44,247.22 279.78,248.45 280.12,249.67 280.46,250.89 280.80,252.11 281.14,253.32 281.48,254.53 281.82,255.73 282.16,256.92 282.50,258.11 282.84,259.28 283.18,260.44 283.52,261.59 283.86,262.72 284.20,263.84 284.54,264.95 284.88,266.03 285.22,267.10 285.56,268.15 285.90,269.18 286.24,270.18 286.58,271.17 286.92,272.13 287.26,273.07 287.60,273.98 287.94,274.87 288.28,275.73 288.62,276.56 288.96,277.37 289.30,278.14 289.64,278.89 289.98,279.60 290.32,280.28 290.66,280.94 291.00,281.55 291.34,282.14 291.68,282.69 292.02,283.21 292.36,283.69 292.70,284.14 293.04,284.55 293.38,284.92 293.72,285.26 294.06,285.56 294.40,285.83 294.74,286.05 295.08,286.24 295.42,286.39 295.76,286.51 296.10,286.58 296.44,286.62 296.78,286.62 297.12,286.58 297.46,286.50 297.80,286.38 298.14,286.23 298.48,286.04 298.82,285.81 299.16,285.54 299.50,285.24 299.84,284.90 300.18,284.52 300.52,284.11 300.86,283.66 301.20,283.18 301.54,282.66 301.88,282.11 302.22,281.52 302.56,280.90 302.90,280.25 303.24,279.56 303.58,278.84 303.92,278.10 304.26,277.32 304.60,276.51 304.94,275.68 305.28,274.82 305.62,273.93 305.96,273.02 306.30,272.08 306.64,271.11 306.98,270.13 307.32,269.12 307.66,268.09 308.00,267.04 308.34,265.97 308.68,264.88 309.02,263.78 309.36,262.66 309.70,261.52 310.04,260.37 310.38,259.21 310.72,258.04 311.06,256.85 311.40,255.66 311.74,254.46 312.08,253.25 312.42,252.04 312.76,250.82 313.10,249.60 313.44,248.38 313.78,247.15 314.12,245.93 314.46,244.70 314.80,243.48 315.14,242.27 315.48,241.05 315.82,239.85 316.16,238.65 316.50,237.46 316.84,236.28 317.18,235.11 317.52,233.95 317.86,232.81 318.20,231.68 318.54,230.56 318.88,229.46 319.22,228.38 319.56,227.32 319.90,226.28 320.24,225.25 320.58,224.25 320.92,223.27 321.26,222.32 321.60,221.38 321.94,220.48 322.28,219.60 322.62,218.74 322.96,217.92 323.30,217.12 323.64,216.36 323.98,215.62 324.32,214.91 324.66,214.24 325.00,213.60 325.34,212.99 325.68,212.41 326.02,211.87 326.36,211.36 326.70,210.89 327.04,210.45 327.38,210.05 327.72,209.68 328.06,209.36 328.40,209.06 328.74,208.81 329.08,208.59 329.42,208.41 329.76,208.27 330.10,208.17 330.44,208.10 330.78,208.08 331.12,208.09 331.46,208.14 331.80,208.23 332.14,208.35 332.48,208.51 332.82,208.72 333.16,208.95 333.50,209.23 333.84,209.54 334.18,209.89 334.52,210.28 334.86,210.70 335.20,211.16 335.54,211.65 335.88,212.18 336.22,212.74 336.56,213.34 336.90,213.97 337.24,214.63 337.58,215.32 337.92,216.05 338.26,216.80 338.60,217.59 338.94,218.40 339.28,219.24 339.62,220.11 339.96,221.01 340.30,221.93 340.64,222.87 340.98,223.84 341.32,224.84 341.66,225.85 342.00,226.89 342.34,227.94 342.68,229.02 343.02,230.11 343.36,231.22 343.70,232.34 344.04,233.48 344.38,234.63 344.72,235.80 345.06,236.97 345.40,238.16 345.74,239.35 346.08,240.56 346.42,241.77 346.76,242.98 347.10,244.20 347.44,245.42 347.78,246.65 348.12,247.87 348.46,249.10 348.80,250.32 349.14,251.54 349.48,252.75 349.82,253.96 350.16,255.17 350.50,256.36 350.84,257.55 351.18,258.73 351.52,259.90 351.86,261.05 352.20,262.19 352.54,263.32 352.88,264.43 353.22,265.52 353.56,266.60 353.90,267.66 354.24,268.70 354.58,269.71 354.92,270.71 355.26,271.68 355.60,272.63 355.94,273.56 356.28,274.46 356.62,275.33 356.96,276.17 357.30,276.99 357.64,277.78 357.98,278.54 358.32,279.27 358.66,279.97 359.00,280.63 359.34,281.27 359.68,281.87 360.02,282.44 360.36,282.97 360.70,283.47 361.04,283.93 361.38,284.36 361.72,284.75 362.06,285.11 362.40,285.42 362.74,285.71 363.08,285.95 363.42,286.16 363.76,286.33 364.10,286.46" fill="none" stroke="#b81e2a" stroke-width="1.6" stroke-linejoin="round" opacity="0.4"/>
<path d="M228.10,204.20V295.40H365.10" fill="none" stroke="#000" stroke-width="1.4"/>
<path d="M225.50,295.40H228.10" stroke="#000" stroke-width="1.4"/>
<text x="223.70" y="299.70" class="tk" text-anchor="end">0</text>
<path d="M225.50,284.00H228.10" stroke="#000" stroke-width="1.4"/>
<text x="223.70" y="288.30" class="tk" text-anchor="end">1</text>
<path d="M225.50,272.60H228.10" stroke="#000" stroke-width="1.4"/>
<text x="223.70" y="276.90" class="tk" text-anchor="end">2</text>
<path d="M225.50,261.20H228.10" stroke="#000" stroke-width="1.4"/>
<text x="223.70" y="265.50" class="tk" text-anchor="end">3</text>
<path d="M225.50,249.80H228.10" stroke="#000" stroke-width="1.4"/>
<text x="223.70" y="254.10" class="tk" text-anchor="end">4</text>
<path d="M225.50,238.40H228.10" stroke="#000" stroke-width="1.4"/>
<text x="223.70" y="242.70" class="tk" text-anchor="end">5</text>
<path d="M225.50,227.00H228.10" stroke="#000" stroke-width="1.4"/>
<text x="223.70" y="231.30" class="tk" text-anchor="end">6</text>
<path d="M225.50,215.60H228.10" stroke="#000" stroke-width="1.4"/>
<text x="223.70" y="219.90" class="tk" text-anchor="end">7</text>
<path d="M225.50,204.20H228.10" stroke="#000" stroke-width="1.4"/>
<text x="223.70" y="208.50" class="tk" text-anchor="end">8</text>
<path d="M228.10,295.40V298.00" stroke="#000" stroke-width="1.4"/>
<text x="228.10" y="310.30" class="tk" text-anchor="middle">0.0</text>
<path d="M255.50,295.40V298.00" stroke="#000" stroke-width="1.4"/>
<text x="255.50" y="310.30" class="tk" text-anchor="middle">0.4</text>
<path d="M282.90,295.40V298.00" stroke="#000" stroke-width="1.4"/>
<text x="282.90" y="310.30" class="tk" text-anchor="middle">0.8</text>
<path d="M310.30,295.40V298.00" stroke="#000" stroke-width="1.4"/>
<text x="310.30" y="310.30" class="tk" text-anchor="middle">1.2</text>
<path d="M337.70,295.40V298.00" stroke="#000" stroke-width="1.4"/>
<text x="337.70" y="310.30" class="tk" text-anchor="middle">1.6</text>
<path d="M365.10,295.40V298.00" stroke="#000" stroke-width="1.4"/>
<text x="365.10" y="310.30" class="tk" text-anchor="middle">2.0</text>
<text x="198.20" y="195.50" class="lb">e)</text>
<text x="296.60" y="330.6" class="ax" text-anchor="middle">Time (s)</text>
<polyline points="397.85,284.61 398.19,284.37 398.53,283.99 398.87,283.46 399.21,282.77 399.55,281.94 399.89,280.97 400.23,279.86 400.57,278.61 400.91,277.24 401.25,275.73 401.59,274.11 401.93,272.38 402.27,270.54 402.62,268.61 402.96,266.58 403.30,264.47 403.64,262.28 403.98,260.03 404.32,257.72 404.66,255.36 405.00,252.96 405.34,250.53 405.68,248.08 406.02,245.62 406.36,243.15 406.70,240.70 407.04,238.26 407.38,235.85 407.72,233.48 408.06,231.15 408.40,228.87 408.74,226.66 409.08,224.52 409.42,222.47 409.76,220.50 410.10,218.62 410.44,216.85 410.78,215.19 411.12,213.65 411.47,212.22 411.81,210.93 412.15,209.77 412.49,208.75 412.83,207.87 413.17,207.13 413.51,206.55 413.85,206.11 414.19,205.82 414.53,205.69 414.87,205.71 415.21,205.89 415.55,206.22 415.89,206.70 416.23,207.32 416.57,208.10 416.91,209.02 417.25,210.08 417.59,211.28 417.93,212.61 418.27,214.07 418.61,215.64 418.95,217.34 419.29,219.14 419.63,221.04 419.97,223.03 420.31,225.12 420.66,227.28 421.00,229.50 421.34,231.80 421.68,234.14 422.02,236.52 422.36,238.94 422.70,241.39 423.04,243.84 423.38,246.31 423.72,248.77 424.06,251.21 424.40,253.63 424.74,256.02 425.08,258.37 425.42,260.66 425.76,262.90 426.10,265.07 426.44,267.15 426.78,269.16 427.12,271.07 427.46,272.88 427.80,274.58 428.14,276.17 428.48,277.63 428.82,278.97 429.16,280.18 429.50,281.26 429.85,282.19 430.19,282.98 430.53,283.62 430.87,284.11 431.21,284.46 431.55,284.64 431.89,284.68 432.23,284.56 432.57,284.29 432.91,283.86 433.25,283.29 433.59,282.57 433.93,281.70 434.27,280.69 434.61,279.54 434.95,278.26 435.29,276.85 435.63,275.32 435.97,273.66 436.31,271.90 436.65,270.04 436.99,268.08 437.33,266.02 437.67,263.89 438.01,261.69 438.35,259.42 438.70,257.09 439.04,254.72 439.38,252.32 439.72,249.88 440.06,247.43 440.40,244.96 440.74,242.50 441.08,240.05 441.42,237.62 441.76,235.22 442.10,232.85 442.44,230.54 442.78,228.28 443.12,226.09 443.46,223.97 443.80,221.93 444.14,219.99 444.48,218.14 444.82,216.40 445.16,214.77 445.50,213.26 445.84,211.87 446.18,210.61 446.52,209.49 446.86,208.50 447.20,207.66 447.54,206.96 447.89,206.42 448.23,206.02 448.57,205.77 448.91,205.68 449.25,205.75 449.59,205.96 449.93,206.33 450.27,206.85 450.61,207.52 450.95,208.33 451.29,209.29 451.63,210.39 451.97,211.62 452.31,212.98 452.65,214.47 452.99,216.08 453.33,217.80 453.67,219.63 454.01,221.56 454.35,223.58 454.69,225.68 455.03,227.86 455.37,230.11 455.71,232.41 456.05,234.77 456.39,237.16 456.73,239.59 457.08,242.04 457.42,244.50 457.76,246.96 458.10,249.42 458.44,251.86 458.78,254.27 459.12,256.65 459.46,258.98 459.80,261.26 460.14,263.48 460.48,265.63 460.82,267.70 461.16,269.67 461.50,271.56 461.84,273.34 462.18,275.01 462.52,276.57 462.86,278.00 463.20,279.31 463.54,280.48 463.88,281.52 464.22,282.41 464.56,283.16 464.90,283.77 465.24,284.22 465.58,284.52 465.93,284.67 466.27,284.66 466.61,284.50 466.95,284.19 467.29,283.73 467.63,283.11 467.97,282.35 468.31,281.44 468.65,280.40 468.99,279.21 469.33,277.90 469.67,276.45 470.01,274.89 470.35,273.21 470.69,271.42 471.03,269.53 471.37,267.54 471.71,265.47 472.05,263.31 472.39,261.09 472.73,258.81 473.07,256.47 473.41,254.09 473.75,251.67 474.09,249.23 474.43,246.77 474.77,244.31 475.12,241.85 475.46,239.40 475.80,236.98 476.14,234.59 476.48,232.23 476.82,229.93 477.16,227.69 477.50,225.52 477.84,223.42 478.18,221.41 478.52,219.49 478.86,217.67 479.20,215.95 479.54,214.36 479.88,212.88 480.22,211.52 480.56,210.30 480.90,209.21 481.24,208.26 481.58,207.46 481.92,206.80 482.26,206.30 482.60,205.94 482.94,205.73 483.28,205.68 483.62,205.79 483.96,206.04 484.31,206.45 484.65,207.01 484.99,207.72 485.33,208.57 485.67,209.57 486.01,210.70 486.35,211.97 486.69,213.37 487.03,214.89 487.37,216.53 487.71,218.28 488.05,220.13 488.39,222.09 488.73,224.13 489.07,226.25 489.41,228.45 489.75,230.71 490.09,233.03 490.43,235.40 490.77,237.80 491.11,240.24 491.45,242.69 491.79,245.15 492.13,247.61 492.47,250.07 492.81,252.50 493.16,254.91 493.50,257.27 493.84,259.59 494.18,261.86 494.52,264.06 494.86,266.18 495.20,268.23 495.54,270.18 495.88,272.04 496.22,273.80 496.56,275.44 496.90,276.96 497.24,278.36 497.58,279.63 497.92,280.77 498.26,281.77 498.60,282.63 498.94,283.34 499.28,283.90 499.62,284.31 499.96,284.57 500.30,284.68 500.64,284.63 500.98,284.43 501.32,284.08 501.66,283.58 502.00,282.92 502.35,282.12 502.69,281.18 503.03,280.10 503.37,278.88 503.71,277.53 504.05,276.05 504.39,274.45 504.73,272.74 505.07,270.92 505.41,269.01 505.75,267.00 506.09,264.90 506.43,262.73 506.77,260.49 507.11,258.19 507.45,255.84 507.79,253.45 508.13,251.02 508.47,248.58 508.81,246.12 509.15,243.66 509.49,241.20 509.83,238.76 510.17,236.34 510.51,233.96 510.85,231.62 511.19,229.33 511.54,227.11 511.88,224.95 512.22,222.88 512.56,220.89 512.90,218.99 513.24,217.20 513.58,215.52 513.92,213.95 514.26,212.50 514.60,211.18 514.94,210.00 515.28,208.95 515.62,208.04 515.96,207.27 516.30,206.65 516.64,206.19 516.98,205.87 517.32,205.71 517.66,205.70 518.00,205.84 518.34,206.14 518.68,206.59 519.02,207.19 519.36,207.94 519.70,208.83 520.04,209.87 520.38,211.05 520.73,212.36 521.07,213.81 521.41,215.38 521.75,217.06 522.09,218.86 522.43,220.77 522.77,222.77 523.11,224.87 523.45,227.05 523.79,229.30 524.13,231.62 524.47,234.00 524.81,236.43 525.15,238.89 525.49,241.38 525.83,243.90 526.17,246.42 526.51,248.95 526.85,251.47 527.19,253.96 527.53,256.43 527.87,258.86 528.21,261.25 528.55,263.57 528.89,265.84 529.23,268.02 529.58,270.13 529.92,272.14 530.26,274.05 530.60,275.86 530.94,277.55 531.28,279.13 531.62,280.57 531.96,281.89 532.30,283.07 532.64,284.10 532.98,284.99 533.32,285.73 533.66,286.32 534.00,286.75" fill="none" stroke="#1a6a30" stroke-width="1.6" stroke-linejoin="round" style="mix-blend-mode:multiply"/>
<polyline points="397.85,286.43 398.19,286.21 398.53,285.84 398.87,285.32 399.21,284.65 399.55,283.85 399.89,282.91 400.23,281.83 400.57,280.62 400.91,279.29 401.25,277.83 401.59,276.26 401.93,274.58 402.27,272.80 402.62,270.92 402.96,268.95 403.30,266.90 403.64,264.78 403.98,262.60 404.32,260.36 404.66,258.07 405.00,255.74 405.34,253.39 405.68,251.01 406.02,248.63 406.36,246.24 406.70,243.86 407.04,241.49 407.38,239.15 407.72,236.85 408.06,234.59 408.40,232.39 408.74,230.24 409.08,228.17 409.42,226.17 409.76,224.26 410.10,222.45 410.44,220.73 410.78,219.12 411.12,217.62 411.47,216.24 411.81,214.99 412.15,213.87 412.49,212.87 412.83,212.02 413.17,211.31 413.51,210.74 413.85,210.31 414.19,210.04 414.53,209.91 414.87,209.93 415.21,210.10 415.55,210.42 415.89,210.88 416.23,211.49 416.57,212.25 416.91,213.14 417.25,214.17 417.59,215.33 417.93,216.62 418.27,218.03 418.61,219.56 418.95,221.20 419.29,222.95 419.63,224.79 419.97,226.73 420.31,228.74 420.66,230.84 421.00,233.00 421.34,235.22 421.68,237.49 422.02,239.81 422.36,242.15 422.70,244.52 423.04,246.91 423.38,249.29 423.72,251.68 424.06,254.05 424.40,256.40 424.74,258.71 425.08,260.99 425.42,263.22 425.76,265.38 426.10,267.48 426.44,269.51 426.78,271.45 427.12,273.30 427.46,275.06 427.80,276.71 428.14,278.25 428.48,279.67 428.82,280.97 429.16,282.14 429.50,283.19 429.85,284.09 430.19,284.86 430.53,285.48 430.87,285.96 431.21,286.29 431.55,286.47 431.89,286.50 432.23,286.39 432.57,286.12 432.91,285.71 433.25,285.16 433.59,284.45 433.93,283.61 434.27,282.63 434.61,281.52 434.95,280.28 435.29,278.91 435.63,277.42 435.97,275.82 436.31,274.11 436.65,272.31 436.99,270.40 437.33,268.41 437.67,266.35 438.01,264.21 438.35,262.01 438.70,259.75 439.04,257.46 439.38,255.12 439.72,252.76 440.06,250.38 440.40,247.99 440.74,245.60 441.08,243.23 441.42,240.87 441.76,238.54 442.10,236.25 442.44,234.00 442.78,231.81 443.12,229.69 443.46,227.63 443.80,225.66 444.14,223.77 444.48,221.98 444.82,220.29 445.16,218.71 445.50,217.24 445.84,215.90 446.18,214.68 446.52,213.59 446.86,212.63 447.20,211.82 447.54,211.14 447.89,210.61 448.23,210.23 448.57,209.99 448.91,209.90 449.25,209.96 449.59,210.17 449.93,210.53 450.27,211.03 450.61,211.68 450.95,212.47 451.29,213.40 451.63,214.46 451.97,215.66 452.31,216.98 452.65,218.43 452.99,219.98 453.33,221.65 453.67,223.43 454.01,225.30 454.35,227.25 454.69,229.29 455.03,231.41 455.37,233.59 455.71,235.82 456.05,238.10 456.39,240.43 456.73,242.78 457.08,245.15 457.42,247.54 457.76,249.93 458.10,252.31 458.44,254.68 458.78,257.02 459.12,259.32 459.46,261.59 459.80,263.80 460.14,265.95 460.48,268.03 460.82,270.03 461.16,271.95 461.50,273.78 461.84,275.51 462.18,277.13 462.52,278.64 462.86,280.03 463.20,281.30 463.54,282.43 463.88,283.44 464.22,284.31 464.56,285.03 464.90,285.62 465.24,286.06 465.58,286.35 465.93,286.49 466.27,286.49 466.61,286.33 466.95,286.03 467.29,285.58 467.63,284.98 467.97,284.25 468.31,283.37 468.65,282.35 468.99,281.20 469.33,279.93 469.67,278.53 470.01,277.01 470.35,275.38 470.69,273.64 471.03,271.81 471.37,269.88 471.71,267.87 472.05,265.79 472.39,263.63 472.73,261.41 473.07,259.15 473.41,256.84 473.75,254.50 474.09,252.13 474.43,249.75 474.77,247.36 475.12,244.97 475.46,242.60 475.80,240.25 476.14,237.93 476.48,235.65 476.82,233.42 477.16,231.24 477.50,229.13 477.84,227.10 478.18,225.15 478.52,223.29 478.86,221.52 479.20,219.86 479.54,218.31 479.88,216.88 480.22,215.56 480.56,214.38 480.90,213.32 481.24,212.40 481.58,211.62 481.92,210.99 482.26,210.49 482.60,210.15 482.94,209.95 483.28,209.90 483.62,210.00 483.96,210.25 484.31,210.65 484.65,211.19 484.99,211.88 485.33,212.70 485.67,213.67 486.01,214.77 486.35,216.00 486.69,217.35 487.03,218.83 487.37,220.42 487.71,222.12 488.05,223.91 488.39,225.81 488.73,227.79 489.07,229.85 489.41,231.98 489.75,234.17 490.09,236.42 490.43,238.72 490.77,241.05 491.11,243.41 491.45,245.79 491.79,248.17 492.13,250.56 492.47,252.94 492.81,255.30 493.16,257.63 493.50,259.93 493.84,262.18 494.18,264.37 494.52,266.51 494.86,268.57 495.20,270.55 495.54,272.45 495.88,274.25 496.22,275.95 496.56,277.54 496.90,279.02 497.24,280.38 497.58,281.61 497.92,282.71 498.26,283.68 498.60,284.51 498.94,285.20 499.28,285.75 499.62,286.15 499.96,286.40 500.30,286.51 500.64,286.46 500.98,286.27 501.32,285.92 501.66,285.43 502.00,284.80 502.35,284.03 502.69,283.11 503.03,282.06 503.37,280.88 503.71,279.57 504.05,278.14 504.39,276.59 504.73,274.93 505.07,273.17 505.41,271.31 505.75,269.36 506.09,267.33 506.43,265.22 506.77,263.05 507.11,260.82 507.45,258.54 507.79,256.22 508.13,253.87 508.47,251.50 508.81,249.11 509.15,246.72 509.49,244.34 509.83,241.97 510.17,239.63 510.51,237.32 510.85,235.05 511.19,232.83 511.54,230.68 511.88,228.59 512.22,226.57 512.56,224.65 512.90,222.81 513.24,221.07 513.58,219.44 513.92,217.92 514.26,216.51 514.60,215.24 514.94,214.08 515.28,213.07 515.62,212.18 515.96,211.44 516.30,210.84 516.64,210.39 516.98,210.08 517.32,209.92 517.66,209.91 518.00,210.05 518.34,210.34 518.68,210.78 519.02,211.36 519.36,212.09 519.70,212.96 520.04,213.96 520.38,215.11 520.73,216.38 521.07,217.78 521.41,219.30 521.75,220.94 522.09,222.69 522.43,224.53 522.77,226.48 523.11,228.51 523.45,230.63 523.79,232.81 524.13,235.06 524.47,237.37 524.81,239.72 525.15,242.12 525.49,244.54 525.83,246.98 526.17,249.43 526.51,251.88 526.85,254.32 527.19,256.74 527.53,259.14 527.87,261.50 528.21,263.81 528.55,266.07 528.89,268.27 529.23,270.39 529.58,272.43 529.92,274.39 530.26,276.25 530.60,278.00 530.94,279.64 531.28,281.17 531.62,282.58 531.96,283.86 532.30,285.00 532.64,286.01 532.98,286.87 533.32,287.59 533.66,288.16 534.00,288.58" fill="none" stroke="#b81e2a" stroke-width="1.6" stroke-linejoin="round" style="mix-blend-mode:multiply"/>
<polyline points="397.85,288.94 398.19,288.72 398.53,288.36 398.87,287.86 399.21,287.21 399.55,286.43 399.89,285.51 400.23,284.46 400.57,283.29 400.91,281.99 401.25,280.57 401.59,279.04 401.93,277.41 402.27,275.67 402.62,273.84 402.96,271.93 403.30,269.94 403.64,267.87 403.98,265.75 404.32,263.57 404.66,261.34 405.00,259.08 405.34,256.78 405.68,254.47 406.02,252.15 406.36,249.82 406.70,247.51 407.04,245.21 407.38,242.93 407.72,240.69 408.06,238.49 408.40,236.35 408.74,234.26 409.08,232.24 409.42,230.30 409.76,228.44 410.10,226.67 410.44,225.00 410.78,223.43 411.12,221.98 411.47,220.63 411.81,219.41 412.15,218.32 412.49,217.35 412.83,216.52 413.17,215.83 413.51,215.28 413.85,214.86 414.19,214.59 414.53,214.47 414.87,214.49 415.21,214.65 415.55,214.96 415.89,215.42 416.23,216.01 416.57,216.74 416.91,217.61 417.25,218.61 417.59,219.74 417.93,221.00 418.27,222.37 418.61,223.86 418.95,225.46 419.29,227.16 419.63,228.95 419.97,230.84 420.31,232.80 420.66,234.84 421.00,236.94 421.34,239.10 421.68,241.31 422.02,243.57 422.36,245.85 422.70,248.15 423.04,250.47 423.38,252.80 423.72,255.12 424.06,257.43 424.40,259.71 424.74,261.97 425.08,264.18 425.42,266.35 425.76,268.46 426.10,270.50 426.44,272.47 426.78,274.36 427.12,276.17 427.46,277.87 427.80,279.48 428.14,280.98 428.48,282.36 428.82,283.63 429.16,284.77 429.50,285.78 429.85,286.66 430.19,287.41 430.53,288.01 430.87,288.48 431.21,288.80 431.55,288.98 431.89,289.01 432.23,288.90 432.57,288.64 432.91,288.24 433.25,287.70 433.59,287.02 433.93,286.20 434.27,285.25 434.61,284.16 434.95,282.95 435.29,281.62 435.63,280.17 435.97,278.62 436.31,276.95 436.65,275.19 436.99,273.34 437.33,271.41 437.67,269.39 438.01,267.31 438.35,265.17 438.70,262.98 439.04,260.74 439.38,258.47 439.72,256.17 440.06,253.85 440.40,251.53 440.74,249.21 441.08,246.89 441.42,244.60 441.76,242.33 442.10,240.10 442.44,237.92 442.78,235.79 443.12,233.72 443.46,231.72 443.80,229.80 444.14,227.96 444.48,226.22 444.82,224.57 445.16,223.03 445.50,221.61 445.84,220.30 446.18,219.11 446.52,218.05 446.86,217.12 447.20,216.33 447.54,215.67 447.89,215.15 448.23,214.78 448.57,214.55 448.91,214.46 449.25,214.52 449.59,214.72 449.93,215.07 450.27,215.56 450.61,216.19 450.95,216.96 451.29,217.86 451.63,218.90 451.97,220.06 452.31,221.35 452.65,222.76 452.99,224.27 453.33,225.90 453.67,227.62 454.01,229.44 454.35,231.35 454.69,233.33 455.03,235.39 455.37,237.51 455.71,239.69 456.05,241.91 456.39,244.17 456.73,246.46 457.08,248.77 457.42,251.09 457.76,253.42 458.10,255.73 458.44,258.04 458.78,260.31 459.12,262.56 459.46,264.76 459.80,266.91 460.14,269.01 460.48,271.03 460.82,272.98 461.16,274.85 461.50,276.63 461.84,278.31 462.18,279.89 462.52,281.36 462.86,282.71 463.20,283.94 463.54,285.05 463.88,286.03 464.22,286.87 464.56,287.58 464.90,288.15 465.24,288.58 465.58,288.86 465.93,289.00 466.27,288.99 466.61,288.84 466.95,288.55 467.29,288.11 467.63,287.53 467.97,286.81 468.31,285.96 468.65,284.97 468.99,283.85 469.33,282.61 469.67,281.25 470.01,279.77 470.35,278.19 470.69,276.50 471.03,274.71 471.37,272.84 471.71,270.88 472.05,268.85 472.39,266.75 472.73,264.59 473.07,262.39 473.41,260.14 473.75,257.86 474.09,255.56 474.43,253.24 474.77,250.91 475.12,248.59 475.46,246.28 475.80,243.99 476.14,241.74 476.48,239.52 476.82,237.35 477.16,235.23 477.50,233.18 477.84,231.20 478.18,229.30 478.52,227.49 478.86,225.77 479.20,224.15 479.54,222.64 479.88,221.25 480.22,219.97 480.56,218.82 480.90,217.79 481.24,216.90 481.58,216.14 481.92,215.52 482.26,215.04 482.60,214.70 482.94,214.51 483.28,214.46 483.62,214.56 483.96,214.80 484.31,215.19 484.65,215.71 484.99,216.38 485.33,217.19 485.67,218.13 486.01,219.20 486.35,220.39 486.69,221.71 487.03,223.15 487.37,224.70 487.71,226.35 488.05,228.10 488.39,229.94 488.73,231.87 489.07,233.87 489.41,235.95 489.75,238.08 490.09,240.27 490.43,242.51 490.77,244.77 491.11,247.07 491.45,249.39 491.79,251.71 492.13,254.03 492.47,256.35 492.81,258.64 493.16,260.91 493.50,263.15 493.84,265.34 494.18,267.48 494.52,269.55 494.86,271.56 495.20,273.49 495.54,275.33 495.88,277.09 496.22,278.74 496.56,280.29 496.90,281.73 497.24,283.05 497.58,284.25 497.92,285.32 498.26,286.27 498.60,287.08 498.94,287.75 499.28,288.28 499.62,288.67 499.96,288.91 500.30,289.01 500.64,288.97 500.98,288.78 501.32,288.45 501.66,287.97 502.00,287.36 502.35,286.60 502.69,285.71 503.03,284.69 503.37,283.54 503.71,282.26 504.05,280.87 504.39,279.36 504.73,277.75 505.07,276.03 505.41,274.22 505.75,272.32 506.09,270.35 506.43,268.30 506.77,266.18 507.11,264.01 507.45,261.80 507.79,259.54 508.13,257.25 508.47,254.94 508.81,252.62 509.15,250.30 509.49,247.98 509.83,245.67 510.17,243.39 510.51,241.14 510.85,238.94 511.19,236.78 511.54,234.68 511.88,232.65 512.22,230.69 512.56,228.81 512.90,227.02 513.24,225.33 513.58,223.74 513.92,222.26 514.26,220.90 514.60,219.65 514.94,218.53 515.28,217.54 515.62,216.68 515.96,215.96 516.30,215.38 516.64,214.94 516.98,214.64 517.32,214.48 517.66,214.47 518.00,214.61 518.34,214.89 518.68,215.31 519.02,215.88 519.36,216.59 519.70,217.43 520.04,218.42 520.38,219.53 520.73,220.77 521.07,222.13 521.41,223.61 521.75,225.21 522.09,226.91 522.43,228.71 522.77,230.60 523.11,232.58 523.45,234.64 523.79,236.77 524.13,238.96 524.47,241.20 524.81,243.50 525.15,245.82 525.49,248.18 525.83,250.56 526.17,252.94 526.51,255.33 526.85,257.71 527.19,260.07 527.53,262.40 527.87,264.70 528.21,266.96 528.55,269.16 528.89,271.30 529.23,273.36 529.58,275.35 529.92,277.26 530.26,279.07 530.60,280.78 530.94,282.38 531.28,283.87 531.62,285.24 531.96,286.49 532.30,287.60 532.64,288.58 532.98,289.43 533.32,290.13 533.66,290.69 534.00,291.10" fill="none" stroke="#22229a" stroke-width="1.6" stroke-linejoin="round" style="mix-blend-mode:multiply"/>
<polyline points="397.85,286.43 398.19,286.21 398.53,285.84 398.87,285.32 399.21,284.65 399.55,283.85 399.89,282.91 400.23,281.83 400.57,280.62 400.91,279.29 401.25,277.83 401.59,276.26 401.93,274.58 402.27,272.80 402.62,270.92 402.96,268.95 403.30,266.90 403.64,264.78 403.98,262.60 404.32,260.36 404.66,258.07 405.00,255.74 405.34,253.39 405.68,251.01 406.02,248.63 406.36,246.24 406.70,243.86 407.04,241.49 407.38,239.15 407.72,236.85 408.06,234.59 408.40,232.39 408.74,230.24 409.08,228.17 409.42,226.17 409.76,224.26 410.10,222.45 410.44,220.73 410.78,219.12 411.12,217.62 411.47,216.24 411.81,214.99 412.15,213.87 412.49,212.87 412.83,212.02 413.17,211.31 413.51,210.74 413.85,210.31 414.19,210.04 414.53,209.91 414.87,209.93 415.21,210.10 415.55,210.42 415.89,210.88 416.23,211.49 416.57,212.25 416.91,213.14 417.25,214.17 417.59,215.33 417.93,216.62 418.27,218.03 418.61,219.56 418.95,221.20 419.29,222.95 419.63,224.79 419.97,226.73 420.31,228.74 420.66,230.84 421.00,233.00 421.34,235.22 421.68,237.49 422.02,239.81 422.36,242.15 422.70,244.52 423.04,246.91 423.38,249.29 423.72,251.68 424.06,254.05 424.40,256.40 424.74,258.71 425.08,260.99 425.42,263.22 425.76,265.38 426.10,267.48 426.44,269.51 426.78,271.45 427.12,273.30 427.46,275.06 427.80,276.71 428.14,278.25 428.48,279.67 428.82,280.97 429.16,282.14 429.50,283.19 429.85,284.09 430.19,284.86 430.53,285.48 430.87,285.96 431.21,286.29 431.55,286.47 431.89,286.50 432.23,286.39 432.57,286.12 432.91,285.71 433.25,285.16 433.59,284.45 433.93,283.61 434.27,282.63 434.61,281.52 434.95,280.28 435.29,278.91 435.63,277.42 435.97,275.82 436.31,274.11 436.65,272.31 436.99,270.40 437.33,268.41 437.67,266.35 438.01,264.21 438.35,262.01 438.70,259.75 439.04,257.46 439.38,255.12 439.72,252.76 440.06,250.38 440.40,247.99 440.74,245.60 441.08,243.23 441.42,240.87 441.76,238.54 442.10,236.25 442.44,234.00 442.78,231.81 443.12,229.69 443.46,227.63 443.80,225.66 444.14,223.77 444.48,221.98 444.82,220.29 445.16,218.71 445.50,217.24 445.84,215.90 446.18,214.68 446.52,213.59 446.86,212.63 447.20,211.82 447.54,211.14 447.89,210.61 448.23,210.23 448.57,209.99 448.91,209.90 449.25,209.96 449.59,210.17 449.93,210.53 450.27,211.03 450.61,211.68 450.95,212.47 451.29,213.40 451.63,214.46 451.97,215.66 452.31,216.98 452.65,218.43 452.99,219.98 453.33,221.65 453.67,223.43 454.01,225.30 454.35,227.25 454.69,229.29 455.03,231.41 455.37,233.59 455.71,235.82 456.05,238.10 456.39,240.43 456.73,242.78 457.08,245.15 457.42,247.54 457.76,249.93 458.10,252.31 458.44,254.68 458.78,257.02 459.12,259.32 459.46,261.59 459.80,263.80 460.14,265.95 460.48,268.03 460.82,270.03 461.16,271.95 461.50,273.78 461.84,275.51 462.18,277.13 462.52,278.64 462.86,280.03 463.20,281.30 463.54,282.43 463.88,283.44 464.22,284.31 464.56,285.03 464.90,285.62 465.24,286.06 465.58,286.35 465.93,286.49 466.27,286.49 466.61,286.33 466.95,286.03 467.29,285.58 467.63,284.98 467.97,284.25 468.31,283.37 468.65,282.35 468.99,281.20 469.33,279.93 469.67,278.53 470.01,277.01 470.35,275.38 470.69,273.64 471.03,271.81 471.37,269.88 471.71,267.87 472.05,265.79 472.39,263.63 472.73,261.41 473.07,259.15 473.41,256.84 473.75,254.50 474.09,252.13 474.43,249.75 474.77,247.36 475.12,244.97 475.46,242.60 475.80,240.25 476.14,237.93 476.48,235.65 476.82,233.42 477.16,231.24 477.50,229.13 477.84,227.10 478.18,225.15 478.52,223.29 478.86,221.52 479.20,219.86 479.54,218.31 479.88,216.88 480.22,215.56 480.56,214.38 480.90,213.32 481.24,212.40 481.58,211.62 481.92,210.99 482.26,210.49 482.60,210.15 482.94,209.95 483.28,209.90 483.62,210.00 483.96,210.25 484.31,210.65 484.65,211.19 484.99,211.88 485.33,212.70 485.67,213.67 486.01,214.77 486.35,216.00 486.69,217.35 487.03,218.83 487.37,220.42 487.71,222.12 488.05,223.91 488.39,225.81 488.73,227.79 489.07,229.85 489.41,231.98 489.75,234.17 490.09,236.42 490.43,238.72 490.77,241.05 491.11,243.41 491.45,245.79 491.79,248.17 492.13,250.56 492.47,252.94 492.81,255.30 493.16,257.63 493.50,259.93 493.84,262.18 494.18,264.37 494.52,266.51 494.86,268.57 495.20,270.55 495.54,272.45 495.88,274.25 496.22,275.95 496.56,277.54 496.90,279.02 497.24,280.38 497.58,281.61 497.92,282.71 498.26,283.68 498.60,284.51 498.94,285.20 499.28,285.75 499.62,286.15 499.96,286.40 500.30,286.51 500.64,286.46 500.98,286.27 501.32,285.92 501.66,285.43 502.00,284.80 502.35,284.03 502.69,283.11 503.03,282.06 503.37,280.88 503.71,279.57 504.05,278.14 504.39,276.59 504.73,274.93 505.07,273.17 505.41,271.31 505.75,269.36 506.09,267.33 506.43,265.22 506.77,263.05 507.11,260.82 507.45,258.54 507.79,256.22 508.13,253.87 508.47,251.50 508.81,249.11 509.15,246.72 509.49,244.34 509.83,241.97 510.17,239.63 510.51,237.32 510.85,235.05 511.19,232.83 511.54,230.68 511.88,228.59 512.22,226.57 512.56,224.65 512.90,222.81 513.24,221.07 513.58,219.44 513.92,217.92 514.26,216.51 514.60,215.24 514.94,214.08 515.28,213.07 515.62,212.18 515.96,211.44 516.30,210.84 516.64,210.39 516.98,210.08 517.32,209.92 517.66,209.91 518.00,210.05 518.34,210.34 518.68,210.78 519.02,211.36 519.36,212.09 519.70,212.96 520.04,213.96 520.38,215.11 520.73,216.38 521.07,217.78 521.41,219.30 521.75,220.94 522.09,222.69 522.43,224.53 522.77,226.48 523.11,228.51 523.45,230.63 523.79,232.81 524.13,235.06 524.47,237.37 524.81,239.72 525.15,242.12 525.49,244.54 525.83,246.98 526.17,249.43 526.51,251.88 526.85,254.32 527.19,256.74 527.53,259.14 527.87,261.50 528.21,263.81 528.55,266.07 528.89,268.27 529.23,270.39 529.58,272.43 529.92,274.39 530.26,276.25 530.60,278.00 530.94,279.64 531.28,281.17 531.62,282.58 531.96,283.86 532.30,285.00 532.64,286.01 532.98,286.87 533.32,287.59 533.66,288.16 534.00,288.58" fill="none" stroke="#b81e2a" stroke-width="1.6" stroke-linejoin="round" opacity="0.4"/>
<path d="M397.85,204.20V295.40H535.00" fill="none" stroke="#000" stroke-width="1.4"/>
<path d="M395.25,295.40H397.85" stroke="#000" stroke-width="1.4"/>
<text x="393.45" y="299.70" class="tk" text-anchor="end">0</text>
<path d="M395.25,284.00H397.85" stroke="#000" stroke-width="1.4"/>
<text x="393.45" y="288.30" class="tk" text-anchor="end">1</text>
<path d="M395.25,272.60H397.85" stroke="#000" stroke-width="1.4"/>
<text x="393.45" y="276.90" class="tk" text-anchor="end">2</text>
<path d="M395.25,261.20H397.85" stroke="#000" stroke-width="1.4"/>
<text x="393.45" y="265.50" class="tk" text-anchor="end">3</text>
<path d="M395.25,249.80H397.85" stroke="#000" stroke-width="1.4"/>
<text x="393.45" y="254.10" class="tk" text-anchor="end">4</text>
<path d="M395.25,238.40H397.85" stroke="#000" stroke-width="1.4"/>
<text x="393.45" y="242.70" class="tk" text-anchor="end">5</text>
<path d="M395.25,227.00H397.85" stroke="#000" stroke-width="1.4"/>
<text x="393.45" y="231.30" class="tk" text-anchor="end">6</text>
<path d="M395.25,215.60H397.85" stroke="#000" stroke-width="1.4"/>
<text x="393.45" y="219.90" class="tk" text-anchor="end">7</text>
<path d="M395.25,204.20H397.85" stroke="#000" stroke-width="1.4"/>
<text x="393.45" y="208.50" class="tk" text-anchor="end">8</text>
<path d="M397.85,295.40V298.00" stroke="#000" stroke-width="1.4"/>
<text x="397.85" y="310.30" class="tk" text-anchor="middle">0.0</text>
<path d="M425.28,295.40V298.00" stroke="#000" stroke-width="1.4"/>
<text x="425.28" y="310.30" class="tk" text-anchor="middle">0.4</text>
<path d="M452.71,295.40V298.00" stroke="#000" stroke-width="1.4"/>
<text x="452.71" y="310.30" class="tk" text-anchor="middle">0.8</text>
<path d="M480.14,295.40V298.00" stroke="#000" stroke-width="1.4"/>
<text x="480.14" y="310.30" class="tk" text-anchor="middle">1.2</text>
<path d="M507.57,295.40V298.00" stroke="#000" stroke-width="1.4"/>
<text x="507.57" y="310.30" class="tk" text-anchor="middle">1.6</text>
<path d="M535.00,295.40V298.00" stroke="#000" stroke-width="1.4"/>
<text x="535.00" y="310.30" class="tk" text-anchor="middle">2.0</text>
<text x="370.10" y="195.50" class="lb">f)</text>
<text x="466.43" y="330.6" class="ax" text-anchor="middle">Time (s)</text>
<rect x="511" y="10.2" width="98.8" height="40.8" fill="#fff" stroke="#505050" stroke-width="1.1"/>
<path d="M516.4,17.50H528.7" stroke="#b81e2a" stroke-width="1.3"/>
<text x="536" y="20.80" class="lg">Mean (%)</text>
<path d="M516.4,30.75H528.7" stroke="#1a6a30" stroke-width="1.3"/>
<text x="536" y="34.05" class="lg">Mean + SD (%)</text>
<path d="M516.4,44.00H528.7" stroke="#22229a" stroke-width="1.3"/>
<text x="536" y="47.30" class="lg">Mean - SD (%)</text>
<rect x="1.6" y="1.6" width="614.2" height="338.9" fill="none" stroke="#000" stroke-width="1.4"/>
</svg>
</body></html>
